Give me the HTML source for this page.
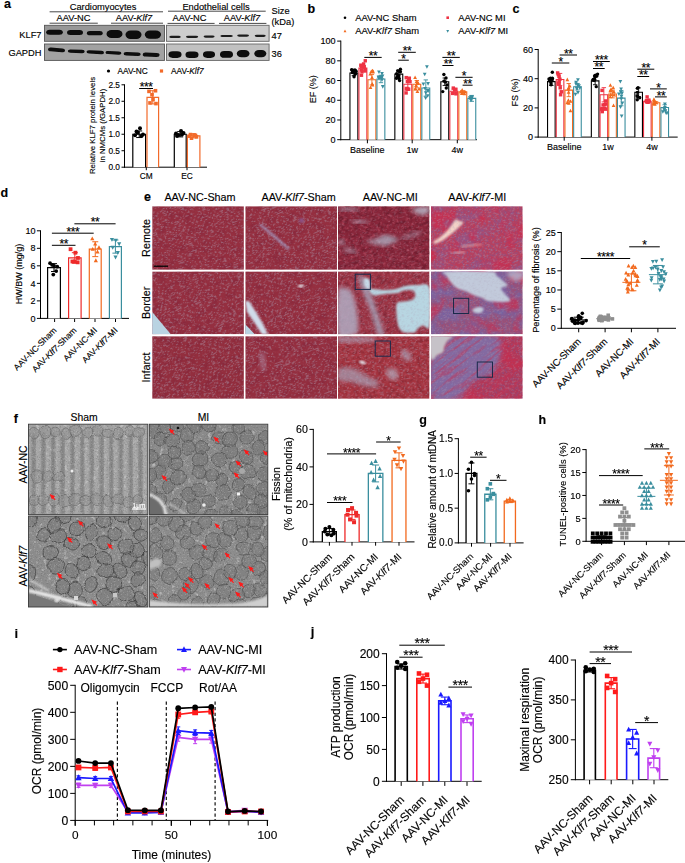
<!DOCTYPE html>
<html><head><meta charset="utf-8"><style>
html,body{margin:0;padding:0;background:#fff;width:685px;height:863px;overflow:hidden;}
svg{display:block;font-family:"Liberation Sans", sans-serif;}
</style></head><body>
<svg width="685" height="863" viewBox="0 0 685 863" font-family='"Liberation Sans", sans-serif'><defs>
<filter id="blur06" x="-5%" y="-5%" width="110%" height="110%"><feGaussianBlur stdDeviation="0.6"/></filter>
<filter id="blur1"><feGaussianBlur stdDeviation="1"/></filter>
<filter id="bl1"><feGaussianBlur stdDeviation="0.9"/></filter><filter id="bl2"><feGaussianBlur stdDeviation="2"/></filter>
<filter id="tf1" x="0" y="0" width="100%" height="100%" color-interpolation-filters="sRGB">
 <feTurbulence type="fractalNoise" baseFrequency="0.45 1.6" numOctaves="1" seed="4" result="n"/>
 <feColorMatrix in="n" type="matrix" values="0 0 0 0 0.690  0 0 0 0 0.659  0 0 0 0 0.737  8 0 0 0 -4.2"/>
 <feComposite in2="SourceGraphic" operator="in"/>
</filter>
<filter id="tf2" x="0" y="0" width="100%" height="100%" color-interpolation-filters="sRGB">
 <feTurbulence type="fractalNoise" baseFrequency="0.12 0.18" numOctaves="2" seed="8" result="n"/>
 <feColorMatrix in="n" type="matrix" values="0 0 0 0 0.478  0 0 0 0 0.125  0 0 0 0 0.220  4 0 0 0 -1.9"/>
 <feComposite in2="SourceGraphic" operator="in"/>
</filter>
<filter id="tf3" x="0" y="0" width="100%" height="100%" color-interpolation-filters="sRGB">
 <feTurbulence type="fractalNoise" baseFrequency="0.22 0.30" numOctaves="2" seed="5" result="n"/>
 <feColorMatrix in="n" type="matrix" values="0 0 0 0 0.376  0 0 0 0 0.094  0 0 0 0 0.157  4 0 0 0 -1.9"/>
 <feComposite in2="SourceGraphic" operator="in"/>
</filter>
<filter id="tf4" x="0" y="0" width="100%" height="100%" color-interpolation-filters="sRGB">
 <feTurbulence type="fractalNoise" baseFrequency="0.30 0.40" numOctaves="2" seed="9" result="n"/>
 <feColorMatrix in="n" type="matrix" values="0 0 0 0 0.784  0 0 0 0 0.353  0 0 0 0 0.439  5 0 0 0 -2.7"/>
 <feComposite in2="SourceGraphic" operator="in"/>
</filter>
<filter id="tf5" x="0" y="0" width="100%" height="100%" color-interpolation-filters="sRGB">
 <feTurbulence type="fractalNoise" baseFrequency="0.035 0.05" numOctaves="3" seed="21" result="n"/>
 <feColorMatrix in="n" type="matrix" values="0 0 0 0 0.471  0 0 0 0 0.408  0 0 0 0 0.659  5 0 0 0 -2.2"/>
 <feComposite in2="SourceGraphic" operator="in"/>
</filter>
<filter id="tf6" x="0" y="0" width="100%" height="100%" color-interpolation-filters="sRGB">
 <feTurbulence type="fractalNoise" baseFrequency="0.6 0.6" numOctaves="1" seed="22" result="n"/>
 <feColorMatrix in="n" type="matrix" values="0 0 0 0 0.416  0 0 0 0 0.392  0 0 0 0 0.659  6 0 0 0 -3.0"/>
 <feComposite in2="SourceGraphic" operator="in"/>
</filter>
<filter id="tf7" x="0" y="0" width="100%" height="100%" color-interpolation-filters="sRGB">
 <feTurbulence type="fractalNoise" baseFrequency="0.05 0.05" numOctaves="3" seed="33" result="n"/>
 <feColorMatrix in="n" type="matrix" values="0 0 0 0 0.816  0 0 0 0 0.157  0 0 0 0 0.282  5 0 0 0 -2.6"/>
 <feComposite in2="SourceGraphic" operator="in"/>
</filter>
<filter id="tf8" x="0" y="0" width="100%" height="100%" color-interpolation-filters="sRGB">
 <feTurbulence type="fractalNoise" baseFrequency="0.08 0.05" numOctaves="3" seed="41" result="n"/>
 <feColorMatrix in="n" type="matrix" values="0 0 0 0 0.627  0 0 0 0 0.659  0 0 0 0 0.784  5 0 0 0 -2.6"/>
 <feComposite in2="SourceGraphic" operator="in"/>
</filter>
<filter id="tf9" x="0" y="0" width="100%" height="100%" color-interpolation-filters="sRGB">
 <feTurbulence type="fractalNoise" baseFrequency="0.03 0.3" numOctaves="3" seed="51" result="n"/>
 <feColorMatrix in="n" type="matrix" values="0 0 0 0 0.784  0 0 0 0 0.188  0 0 0 0 0.314  6 0 0 0 -3.0"/>
 <feComposite in2="SourceGraphic" operator="in"/>
</filter>
<clipPath id="cl00"><rect x="152.2" y="206.2" width="91.70" height="63.60"/></clipPath>
<clipPath id="cl01"><rect x="152.2" y="271.4" width="91.70" height="62.80"/></clipPath>
<clipPath id="cl02"><rect x="152.2" y="336.2" width="91.70" height="62.60"/></clipPath>
<clipPath id="cl10"><rect x="245.3" y="206.2" width="91.70" height="63.60"/></clipPath>
<clipPath id="cl11"><rect x="245.3" y="271.4" width="91.70" height="62.80"/></clipPath>
<clipPath id="cl12"><rect x="245.3" y="336.2" width="91.70" height="62.60"/></clipPath>
<clipPath id="cl20"><rect x="338.0" y="206.2" width="91.50" height="63.60"/></clipPath>
<clipPath id="cl21"><rect x="338.0" y="271.4" width="91.50" height="62.80"/></clipPath>
<clipPath id="cl22"><rect x="338.0" y="336.2" width="91.50" height="62.60"/></clipPath>
<clipPath id="cl30"><rect x="431.0" y="206.2" width="91.70" height="63.60"/></clipPath>
<clipPath id="cl31"><rect x="431.0" y="271.4" width="91.70" height="62.80"/></clipPath>
<clipPath id="cl32"><rect x="431.0" y="336.2" width="91.70" height="62.60"/></clipPath>
<filter id="nf1" x="0" y="0" width="100%" height="100%" color-interpolation-filters="sRGB">
 <feTurbulence type="fractalNoise" baseFrequency="0.7" numOctaves="2" seed="3" result="n"/>
 <feColorMatrix in="n" type="matrix" values="0 0 0 0 0.878  0 0 0 0 0.878  0 0 0 0 0.878  6 0 0 0 -3.4"/>
 <feComposite in2="SourceGraphic" operator="in"/>
</filter>
<filter id="nf2" x="0" y="0" width="100%" height="100%" color-interpolation-filters="sRGB">
 <feTurbulence type="fractalNoise" baseFrequency="0.7" numOctaves="2" seed="7" result="n"/>
 <feColorMatrix in="n" type="matrix" values="0 0 0 0 0.227  0 0 0 0 0.227  0 0 0 0 0.227  -6 0 0 0 2.6"/>
 <feComposite in2="SourceGraphic" operator="in"/>
</filter>
<filter id="nf3" x="0" y="0" width="100%" height="100%" color-interpolation-filters="sRGB">
 <feTurbulence type="fractalNoise" baseFrequency="0.25" numOctaves="2" seed="12" result="n"/>
 <feColorMatrix in="n" type="matrix" values="0 0 0 0 0.847  0 0 0 0 0.847  0 0 0 0 0.847  5 0 0 0 -3.0"/>
 <feComposite in2="SourceGraphic" operator="in"/>
</filter>
<filter id="bl1t"><feGaussianBlur stdDeviation="0.9"/></filter>
<filter id="wob" x="-5%" y="-5%" width="110%" height="110%"><feTurbulence type="fractalNoise" baseFrequency="0.12" numOctaves="2" seed="3" result="t"/><feDisplacementMap in="SourceGraphic" in2="t" scale="4" xChannelSelector="R" yChannelSelector="G" result="d"/><feGaussianBlur in="d" stdDeviation="0.35"/></filter>
<clipPath id="tcl00"><rect x="28.5" y="424.2" width="119.30" height="90.40"/></clipPath>
<clipPath id="tcl10"><rect x="149.3" y="424.2" width="118.50" height="90.40"/></clipPath>
<clipPath id="tcl01"><rect x="28.5" y="516.0" width="119.30" height="91.00"/></clipPath>
<clipPath id="tcl11"><rect x="149.3" y="516.0" width="118.50" height="91.00"/></clipPath></defs>
<text x="4.00" y="8.20" font-size="12.5" text-anchor="start" font-weight="bold" fill="#000" stroke="#000" stroke-width="0.14">a</text>
<text x="103.00" y="9.60" font-size="9.3" text-anchor="middle" fill="#000" stroke="#000" stroke-width="0.14">Cardiomyocytes</text>
<line x1="49.60" y1="11.80" x2="163.00" y2="11.80" stroke="#333" stroke-width="0.9"/>
<text x="216.00" y="9.60" font-size="9.3" text-anchor="middle" fill="#000" stroke="#000" stroke-width="0.14">Endothelial cells</text>
<line x1="168.00" y1="11.20" x2="265.70" y2="11.20" stroke="#333" stroke-width="0.9"/>
<text x="73.50" y="21.30" font-size="9.3" text-anchor="middle" fill="#000" stroke="#000" stroke-width="0.14">AAV-NC</text>
<line x1="49.60" y1="23.20" x2="97.80" y2="23.20" stroke="#333" stroke-width="0.9"/>
<text x="134.00" y="21.30" font-size="9.3" text-anchor="middle" fill="#000" stroke="#000" stroke-width="0.14">AAV-<tspan font-style="italic">Klf7</tspan></text>
<line x1="111.00" y1="23.20" x2="163.00" y2="23.20" stroke="#333" stroke-width="0.9"/>
<text x="189.50" y="21.30" font-size="9.3" text-anchor="middle" fill="#000" stroke="#000" stroke-width="0.14">AAV-NC</text>
<line x1="167.50" y1="23.40" x2="214.60" y2="23.40" stroke="#333" stroke-width="0.9"/>
<text x="242.00" y="21.30" font-size="9.3" text-anchor="middle" fill="#000" stroke="#000" stroke-width="0.14">AAV-<tspan font-style="italic">Klf7</tspan></text>
<line x1="219.00" y1="23.40" x2="266.40" y2="23.40" stroke="#333" stroke-width="0.9"/>
<text x="271.50" y="14.00" font-size="9.3" text-anchor="start" fill="#000" stroke="#000" stroke-width="0.14">Size</text>
<text x="271.50" y="24.80" font-size="9.3" text-anchor="start" fill="#000" stroke="#000" stroke-width="0.14">(kDa)</text>
<text x="271.50" y="38.80" font-size="9.3" text-anchor="start" fill="#000" stroke="#000" stroke-width="0.14">47</text>
<text x="271.50" y="56.60" font-size="9.3" text-anchor="start" fill="#000" stroke="#000" stroke-width="0.14">36</text>
<text x="41.50" y="37.60" font-size="9.3" text-anchor="end" fill="#000" stroke="#000" stroke-width="0.14">KLF7</text>
<text x="41.50" y="55.60" font-size="9.3" text-anchor="end" fill="#000" stroke="#000" stroke-width="0.14">GAPDH</text>
<g filter="url(#blur06)">
<rect x="44.50" y="25.30" width="120.00" height="16.00" fill="#979797" stroke="#555" stroke-width="0.9"/>
<rect x="44.50" y="44.00" width="120.00" height="16.40" fill="#a2a2a2" stroke="#555" stroke-width="0.9"/>
<rect x="166.50" y="25.30" width="102.60" height="16.00" fill="#cdcdcd" stroke="#666" stroke-width="0.9"/>
<rect x="166.50" y="44.00" width="102.60" height="16.40" fill="#c1c1c1" stroke="#666" stroke-width="0.9"/>
<rect x="46.20" y="29.80" width="16.60" height="5.00" rx="3.50" ry="2.50" fill="#0a0a0a" transform="rotate(0 54.50 32.30)"/>
<rect x="67.00" y="30.00" width="16.00" height="5.00" rx="3.50" ry="2.50" fill="#0a0a0a" transform="rotate(0 75.00 32.50)"/>
<rect x="86.90" y="31.10" width="15.80" height="4.20" rx="3.10" ry="2.10" fill="#0a0a0a" transform="rotate(0 94.80 33.20)"/>
<rect x="106.50" y="30.00" width="16.00" height="8.00" rx="5.00" ry="4.00" fill="#0a0a0a" transform="rotate(0 114.50 34.00)"/>
<rect x="125.50" y="30.50" width="16.00" height="8.40" rx="5.20" ry="4.20" fill="#0a0a0a" transform="rotate(0 133.50 34.70)"/>
<rect x="144.80" y="30.50" width="16.20" height="8.20" rx="5.10" ry="4.10" fill="#0a0a0a" transform="rotate(0 152.90 34.60)"/>
<rect x="48.00" y="48.00" width="17.00" height="3.80" rx="2.90" ry="1.90" fill="#0a0a0a" transform="rotate(5 56.50 49.90)"/>
<rect x="67.80" y="49.60" width="16.90" height="3.40" rx="2.70" ry="1.70" fill="#0a0a0a" transform="rotate(2 76.25 51.30)"/>
<rect x="86.50" y="50.50" width="17.50" height="3.40" rx="2.70" ry="1.70" fill="#0a0a0a" transform="rotate(3 95.25 52.20)"/>
<rect x="105.50" y="51.20" width="15.90" height="3.20" rx="2.60" ry="1.60" fill="#0a0a0a" transform="rotate(3 113.45 52.80)"/>
<rect x="123.60" y="52.30" width="17.10" height="3.40" rx="2.70" ry="1.70" fill="#0a0a0a" transform="rotate(2 132.15 54.00)"/>
<rect x="142.70" y="52.80" width="16.90" height="4.00" rx="3.00" ry="2.00" fill="#0a0a0a" transform="rotate(2 151.15 54.80)"/>
<rect x="169.30" y="35.80" width="11.40" height="2.20" rx="2.10" ry="1.10" fill="#1a1a1a" transform="rotate(0 175.00 36.90)"/>
<rect x="186.00" y="35.70" width="12.20" height="2.20" rx="2.10" ry="1.10" fill="#1a1a1a" transform="rotate(0 192.10 36.80)"/>
<rect x="203.60" y="35.50" width="11.00" height="2.20" rx="2.10" ry="1.10" fill="#1a1a1a" transform="rotate(0 209.10 36.60)"/>
<rect x="220.40" y="34.90" width="12.40" height="2.20" rx="2.10" ry="1.10" fill="#1a1a1a" transform="rotate(0 226.60 36.00)"/>
<rect x="237.20" y="34.50" width="11.80" height="2.20" rx="2.10" ry="1.10" fill="#1a1a1a" transform="rotate(0 243.10 35.60)"/>
<rect x="254.70" y="34.70" width="11.00" height="2.20" rx="2.10" ry="1.10" fill="#1a1a1a" transform="rotate(0 260.20 35.80)"/>
<rect x="168.50" y="51.30" width="13.00" height="6.60" rx="4.30" ry="3.30" fill="#0a0a0a" transform="rotate(0 175.00 54.60)"/>
<rect x="185.50" y="51.40" width="13.00" height="6.60" rx="4.30" ry="3.30" fill="#0a0a0a" transform="rotate(0 192.00 54.70)"/>
<rect x="203.00" y="51.30" width="12.00" height="6.60" rx="4.30" ry="3.30" fill="#0a0a0a" transform="rotate(0 209.00 54.60)"/>
<rect x="220.00" y="51.00" width="13.00" height="6.80" rx="4.40" ry="3.40" fill="#0a0a0a" transform="rotate(0 226.50 54.40)"/>
<rect x="236.80" y="49.90" width="12.70" height="7.40" rx="4.70" ry="3.70" fill="#0a0a0a" transform="rotate(0 243.15 53.60)"/>
<rect x="254.30" y="50.00" width="12.00" height="7.20" rx="4.60" ry="3.60" fill="#0a0a0a" transform="rotate(0 260.30 53.60)"/>
</g>
<line x1="124.50" y1="84.30" x2="124.50" y2="167.70" stroke="#000" stroke-width="1"/>
<line x1="124.00" y1="167.20" x2="207.00" y2="167.20" stroke="#000" stroke-width="1"/>
<line x1="121.50" y1="167.20" x2="124.50" y2="167.20" stroke="#000" stroke-width="1"/>
<text x="120.00" y="170.10" font-size="8.3" text-anchor="end" fill="#000" stroke="#000" stroke-width="0.14">0.0</text>
<line x1="121.50" y1="150.72" x2="124.50" y2="150.72" stroke="#000" stroke-width="1"/>
<text x="120.00" y="153.62" font-size="8.3" text-anchor="end" fill="#000" stroke="#000" stroke-width="0.14">0.5</text>
<line x1="121.50" y1="134.24" x2="124.50" y2="134.24" stroke="#000" stroke-width="1"/>
<text x="120.00" y="137.14" font-size="8.3" text-anchor="end" fill="#000" stroke="#000" stroke-width="0.14">1.0</text>
<line x1="121.50" y1="117.76" x2="124.50" y2="117.76" stroke="#000" stroke-width="1"/>
<text x="120.00" y="120.66" font-size="8.3" text-anchor="end" fill="#000" stroke="#000" stroke-width="0.14">1.5</text>
<line x1="121.50" y1="101.28" x2="124.50" y2="101.28" stroke="#000" stroke-width="1"/>
<text x="120.00" y="104.18" font-size="8.3" text-anchor="end" fill="#000" stroke="#000" stroke-width="0.14">2.0</text>
<line x1="121.50" y1="84.80" x2="124.50" y2="84.80" stroke="#000" stroke-width="1"/>
<text x="120.00" y="87.70" font-size="8.3" text-anchor="end" fill="#000" stroke="#000" stroke-width="0.14">2.5</text>
<line x1="146.30" y1="167.20" x2="146.30" y2="170.20" stroke="#000" stroke-width="1"/>
<line x1="187.00" y1="167.20" x2="187.00" y2="170.20" stroke="#000" stroke-width="1"/>
<text x="146.30" y="178.50" font-size="8.3" text-anchor="middle" fill="#000" stroke="#000" stroke-width="0.14">CM</text>
<text x="187.00" y="178.50" font-size="8.3" text-anchor="middle" fill="#000" stroke="#000" stroke-width="0.14">EC</text>
<text x="95.20" y="125.50" font-size="7.8" text-anchor="middle" fill="#000" stroke="#000" stroke-width="0.14" transform="rotate(-90 95.2 125.5)">Relative KLF7 protein levels</text>
<text x="105.20" y="125.50" font-size="7.8" text-anchor="middle" fill="#000" stroke="#000" stroke-width="0.14" transform="rotate(-90 105.2 125.5)">in NMCMs (/GAPDH)</text>
<path d="M132.80 167.20V134.24H145.60V167.20" fill="#fff" stroke="#000" stroke-width="1.2"/>
<path d="M147.00 167.20V97.32H158.60V167.20" fill="#fff" stroke="#f26a2a" stroke-width="1.2"/>
<path d="M174.30 167.20V134.24H186.20V167.20" fill="#fff" stroke="#000" stroke-width="1.2"/>
<path d="M187.40 167.20V135.89H199.90V167.20" fill="#fff" stroke="#f26a2a" stroke-width="1.2"/>
<line x1="139.20" y1="137.54" x2="139.20" y2="130.94" stroke="#000" stroke-width="1"/>
<line x1="136.20" y1="130.94" x2="142.20" y2="130.94" stroke="#000" stroke-width="1"/>
<line x1="136.20" y1="137.54" x2="142.20" y2="137.54" stroke="#000" stroke-width="1"/>
<line x1="152.80" y1="103.92" x2="152.80" y2="90.73" stroke="#f26a2a" stroke-width="1"/>
<line x1="149.80" y1="90.73" x2="155.80" y2="90.73" stroke="#f26a2a" stroke-width="1"/>
<line x1="149.80" y1="103.92" x2="155.80" y2="103.92" stroke="#f26a2a" stroke-width="1"/>
<line x1="180.20" y1="136.88" x2="180.20" y2="131.60" stroke="#000" stroke-width="1"/>
<line x1="177.20" y1="131.60" x2="183.20" y2="131.60" stroke="#000" stroke-width="1"/>
<line x1="177.20" y1="136.88" x2="183.20" y2="136.88" stroke="#000" stroke-width="1"/>
<line x1="193.60" y1="137.87" x2="193.60" y2="133.91" stroke="#f26a2a" stroke-width="1"/>
<line x1="190.60" y1="133.91" x2="196.60" y2="133.91" stroke="#f26a2a" stroke-width="1"/>
<line x1="190.60" y1="137.87" x2="196.60" y2="137.87" stroke="#f26a2a" stroke-width="1"/>
<circle cx="135.00" cy="135.23" r="2.00" fill="#000"/>
<circle cx="137.50" cy="132.59" r="2.00" fill="#000"/>
<circle cx="140.00" cy="128.31" r="2.00" fill="#000"/>
<circle cx="141.50" cy="135.89" r="2.00" fill="#000"/>
<circle cx="143.00" cy="134.57" r="2.00" fill="#000"/>
<circle cx="136.50" cy="131.60" r="2.00" fill="#000"/>
<rect x="147.20" y="89.59" width="3.60" height="3.60" fill="#f26a2a"/>
<rect x="150.20" y="92.89" width="3.60" height="3.60" fill="#f26a2a"/>
<rect x="153.70" y="88.93" width="3.60" height="3.60" fill="#f26a2a"/>
<rect x="148.20" y="101.13" width="3.60" height="3.60" fill="#f26a2a"/>
<rect x="151.20" y="97.83" width="3.60" height="3.60" fill="#f26a2a"/>
<rect x="154.20" y="101.79" width="3.60" height="3.60" fill="#f26a2a"/>
<circle cx="176.00" cy="133.58" r="2.00" fill="#000"/>
<circle cx="178.50" cy="134.90" r="2.00" fill="#000"/>
<circle cx="181.00" cy="130.94" r="2.00" fill="#000"/>
<circle cx="183.50" cy="132.92" r="2.00" fill="#000"/>
<circle cx="177.00" cy="135.89" r="2.00" fill="#000"/>
<circle cx="182.00" cy="134.57" r="2.00" fill="#000"/>
<rect x="187.20" y="134.42" width="3.60" height="3.60" fill="#f26a2a"/>
<rect x="189.70" y="136.40" width="3.60" height="3.60" fill="#f26a2a"/>
<rect x="192.20" y="133.10" width="3.60" height="3.60" fill="#f26a2a"/>
<rect x="194.70" y="135.08" width="3.60" height="3.60" fill="#f26a2a"/>
<rect x="188.70" y="132.77" width="3.60" height="3.60" fill="#f26a2a"/>
<rect x="193.70" y="133.76" width="3.60" height="3.60" fill="#f26a2a"/>
<line x1="139.20" y1="88.50" x2="153.00" y2="88.50" stroke="#000" stroke-width="1"/>
<text x="146.10" y="91.10" font-size="12" text-anchor="middle" fill="#000" stroke="#000" stroke-width="0.14" letter-spacing="-0.4">***</text>
<circle cx="108.50" cy="71.00" r="1.60" fill="#000"/>
<text x="117.50" y="74.00" font-size="8.3" text-anchor="start" fill="#000" stroke="#000" stroke-width="0.14">AAV-NC</text>
<rect x="159.90" y="69.40" width="3.20" height="3.20" fill="#f26a2a"/>
<text x="171.00" y="74.00" font-size="8.3" text-anchor="start" fill="#000" stroke="#000" stroke-width="0.14">AAV-<tspan font-style="italic">Klf7</tspan></text>
<text x="307.50" y="13.20" font-size="12.5" text-anchor="start" font-weight="bold" fill="#000" stroke="#000" stroke-width="0.14">b</text>
<circle cx="345.00" cy="17.70" r="1.30" fill="#000"/>
<text x="355.20" y="21.00" font-size="9.4" text-anchor="start" fill="#000" stroke="#000" stroke-width="0.14">AAV-NC Sham</text>
<path d="M345.00 29.53L346.43 32.24L343.57 32.24Z" fill="#f26a1f"/>
<text x="355.20" y="34.40" font-size="9.4" text-anchor="start" fill="#000" stroke="#000" stroke-width="0.14">AAV-<tspan font-style="italic">Klf7</tspan> Sham</text>
<rect x="446.40" y="16.40" width="2.60" height="2.60" fill="#ee3344"/>
<text x="458.30" y="21.00" font-size="9.4" text-anchor="start" fill="#000" stroke="#000" stroke-width="0.14">AAV-NC MI</text>
<path d="M447.70 32.67L449.13 29.96L446.27 29.96Z" fill="#3a8e9e"/>
<text x="458.30" y="34.40" font-size="9.4" text-anchor="start" fill="#000" stroke="#000" stroke-width="0.14">AAV-<tspan font-style="italic">Klf7</tspan> MI</text>
<line x1="340.80" y1="40.60" x2="340.80" y2="140.20" stroke="#000" stroke-width="1"/>
<line x1="340.30" y1="139.70" x2="477.00" y2="139.70" stroke="#000" stroke-width="1"/>
<line x1="337.20" y1="139.70" x2="340.80" y2="139.70" stroke="#000" stroke-width="1"/>
<text x="335.60" y="142.85" font-size="9" text-anchor="end" fill="#000" stroke="#000" stroke-width="0.14">0</text>
<line x1="337.20" y1="119.98" x2="340.80" y2="119.98" stroke="#000" stroke-width="1"/>
<text x="335.60" y="123.13" font-size="9" text-anchor="end" fill="#000" stroke="#000" stroke-width="0.14">20</text>
<line x1="337.20" y1="100.26" x2="340.80" y2="100.26" stroke="#000" stroke-width="1"/>
<text x="335.60" y="103.41" font-size="9" text-anchor="end" fill="#000" stroke="#000" stroke-width="0.14">40</text>
<line x1="337.20" y1="80.54" x2="340.80" y2="80.54" stroke="#000" stroke-width="1"/>
<text x="335.60" y="83.69" font-size="9" text-anchor="end" fill="#000" stroke="#000" stroke-width="0.14">60</text>
<line x1="337.20" y1="60.82" x2="340.80" y2="60.82" stroke="#000" stroke-width="1"/>
<text x="335.60" y="63.97" font-size="9" text-anchor="end" fill="#000" stroke="#000" stroke-width="0.14">80</text>
<line x1="337.20" y1="41.10" x2="340.80" y2="41.10" stroke="#000" stroke-width="1"/>
<text x="335.60" y="44.25" font-size="9" text-anchor="end" fill="#000" stroke="#000" stroke-width="0.14">100</text>
<line x1="367.40" y1="139.70" x2="367.40" y2="143.30" stroke="#000" stroke-width="1"/>
<line x1="412.20" y1="139.70" x2="412.20" y2="143.30" stroke="#000" stroke-width="1"/>
<line x1="457.30" y1="139.70" x2="457.30" y2="143.30" stroke="#000" stroke-width="1"/>
<text x="316.30" y="89.20" font-size="9" text-anchor="middle" fill="#000" stroke="#000" stroke-width="0.14" transform="rotate(-90 316.3 89.2)">EF (%)</text>
<text x="367.20" y="153.20" font-size="9" text-anchor="middle" fill="#000" stroke="#000" stroke-width="0.14">Baseline</text>
<text x="412.20" y="153.20" font-size="9" text-anchor="middle" fill="#000" stroke="#000" stroke-width="0.14">1w</text>
<text x="457.30" y="153.20" font-size="9" text-anchor="middle" fill="#000" stroke="#000" stroke-width="0.14">4w</text>
<path d="M349.95 139.70V73.05H357.85V139.70" fill="#fff" stroke="#000" stroke-width="1.1"/>
<circle cx="355.26" cy="70.73" r="1.70" fill="#000"/>
<circle cx="354.94" cy="70.03" r="1.70" fill="#000"/>
<circle cx="355.41" cy="73.46" r="1.70" fill="#000"/>
<circle cx="354.07" cy="76.70" r="1.70" fill="#000"/>
<circle cx="351.62" cy="69.71" r="1.70" fill="#000"/>
<circle cx="356.08" cy="71.21" r="1.70" fill="#000"/>
<circle cx="352.94" cy="70.10" r="1.70" fill="#000"/>
<circle cx="355.25" cy="74.06" r="1.70" fill="#000"/>
<circle cx="352.33" cy="72.43" r="1.70" fill="#000"/>
<circle cx="353.13" cy="70.97" r="1.70" fill="#000"/>
<line x1="353.90" y1="75.63" x2="353.90" y2="70.46" stroke="#000" stroke-width="0.9"/>
<line x1="351.70" y1="70.46" x2="356.10" y2="70.46" stroke="#000" stroke-width="0.9"/>
<line x1="351.70" y1="75.63" x2="356.10" y2="75.63" stroke="#000" stroke-width="0.9"/>
<path d="M358.95 139.70V68.12H366.85V139.70" fill="#fff" stroke="#ee3344" stroke-width="1.1"/>
<rect x="363.54" y="69.25" width="3.40" height="3.40" fill="#ee3344"/>
<rect x="363.34" y="68.00" width="3.40" height="3.40" fill="#ee3344"/>
<rect x="359.76" y="73.54" width="3.40" height="3.40" fill="#ee3344"/>
<rect x="359.80" y="64.92" width="3.40" height="3.40" fill="#ee3344"/>
<rect x="359.75" y="68.23" width="3.40" height="3.40" fill="#ee3344"/>
<rect x="363.57" y="59.07" width="3.40" height="3.40" fill="#ee3344"/>
<rect x="359.13" y="63.50" width="3.40" height="3.40" fill="#ee3344"/>
<rect x="362.56" y="65.03" width="3.40" height="3.40" fill="#ee3344"/>
<rect x="360.32" y="70.14" width="3.40" height="3.40" fill="#ee3344"/>
<rect x="361.89" y="62.27" width="3.40" height="3.40" fill="#ee3344"/>
<line x1="362.90" y1="71.81" x2="362.90" y2="64.42" stroke="#ee3344" stroke-width="0.9"/>
<line x1="360.70" y1="64.42" x2="365.10" y2="64.42" stroke="#ee3344" stroke-width="0.9"/>
<line x1="360.70" y1="71.81" x2="365.10" y2="71.81" stroke="#ee3344" stroke-width="0.9"/>
<path d="M367.95 139.70V79.75H375.85V139.70" fill="#fff" stroke="#f26a1f" stroke-width="1.1"/>
<path d="M370.24 71.99L372.11 75.55L368.37 75.55Z" fill="#f26a1f"/>
<path d="M372.97 70.03L374.84 73.59L371.10 73.59Z" fill="#f26a1f"/>
<path d="M372.49 82.99L374.36 86.54L370.62 86.54Z" fill="#f26a1f"/>
<path d="M372.23 81.96L374.10 85.51L370.36 85.51Z" fill="#f26a1f"/>
<path d="M372.50 69.52L374.37 73.08L370.63 73.08Z" fill="#f26a1f"/>
<path d="M372.00 75.42L373.87 78.97L370.13 78.97Z" fill="#f26a1f"/>
<path d="M371.28 69.52L373.15 73.07L369.41 73.07Z" fill="#f26a1f"/>
<path d="M370.52 85.43L372.39 88.98L368.65 88.98Z" fill="#f26a1f"/>
<path d="M372.86 68.97L374.73 72.52L370.99 72.52Z" fill="#f26a1f"/>
<path d="M372.45 68.63L374.32 72.18L370.58 72.18Z" fill="#f26a1f"/>
<line x1="371.90" y1="84.93" x2="371.90" y2="74.57" stroke="#f26a1f" stroke-width="0.9"/>
<line x1="369.70" y1="74.57" x2="374.10" y2="74.57" stroke="#f26a1f" stroke-width="0.9"/>
<line x1="369.70" y1="84.93" x2="374.10" y2="84.93" stroke="#f26a1f" stroke-width="0.9"/>
<path d="M376.95 139.70V78.96H384.85V139.70" fill="#fff" stroke="#3a8e9e" stroke-width="1.1"/>
<path d="M382.00 75.62L383.87 72.07L380.13 72.07Z" fill="#3a8e9e"/>
<path d="M382.08 81.73L383.95 78.18L380.21 78.18Z" fill="#3a8e9e"/>
<path d="M381.42 80.58L383.29 77.03L379.55 77.03Z" fill="#3a8e9e"/>
<path d="M378.99 79.08L380.86 75.53L377.12 75.53Z" fill="#3a8e9e"/>
<path d="M382.78 88.66L384.65 85.11L380.91 85.11Z" fill="#3a8e9e"/>
<path d="M378.98 74.04L380.85 70.49L377.11 70.49Z" fill="#3a8e9e"/>
<path d="M382.55 77.98L384.42 74.43L380.68 74.43Z" fill="#3a8e9e"/>
<path d="M378.50 79.29L380.37 75.74L376.63 75.74Z" fill="#3a8e9e"/>
<path d="M379.02 80.65L380.89 77.10L377.15 77.10Z" fill="#3a8e9e"/>
<path d="M381.02 78.70L382.89 75.15L379.15 75.15Z" fill="#3a8e9e"/>
<line x1="380.90" y1="82.66" x2="380.90" y2="75.26" stroke="#3a8e9e" stroke-width="0.9"/>
<line x1="378.70" y1="75.26" x2="383.10" y2="75.26" stroke="#3a8e9e" stroke-width="0.9"/>
<line x1="378.70" y1="82.66" x2="383.10" y2="82.66" stroke="#3a8e9e" stroke-width="0.9"/>
<path d="M394.85 139.70V74.13H402.75V139.70" fill="#fff" stroke="#000" stroke-width="1.1"/>
<circle cx="400.42" cy="69.21" r="1.70" fill="#000"/>
<circle cx="397.53" cy="76.29" r="1.70" fill="#000"/>
<circle cx="399.01" cy="78.44" r="1.70" fill="#000"/>
<circle cx="396.66" cy="73.64" r="1.70" fill="#000"/>
<circle cx="396.48" cy="78.23" r="1.70" fill="#000"/>
<circle cx="400.39" cy="71.77" r="1.70" fill="#000"/>
<circle cx="399.47" cy="71.49" r="1.70" fill="#000"/>
<circle cx="398.94" cy="75.75" r="1.70" fill="#000"/>
<circle cx="399.61" cy="80.59" r="1.70" fill="#000"/>
<circle cx="397.68" cy="70.85" r="1.70" fill="#000"/>
<line x1="398.80" y1="78.20" x2="398.80" y2="70.06" stroke="#000" stroke-width="0.9"/>
<line x1="396.60" y1="70.06" x2="401.00" y2="70.06" stroke="#000" stroke-width="0.9"/>
<line x1="396.60" y1="78.20" x2="401.00" y2="78.20" stroke="#000" stroke-width="0.9"/>
<path d="M403.85 139.70V84.19H411.75V139.70" fill="#fff" stroke="#ee3344" stroke-width="1.1"/>
<rect x="408.33" y="79.95" width="3.40" height="3.40" fill="#ee3344"/>
<rect x="406.07" y="87.32" width="3.40" height="3.40" fill="#ee3344"/>
<rect x="404.43" y="91.23" width="3.40" height="3.40" fill="#ee3344"/>
<rect x="404.56" y="75.93" width="3.40" height="3.40" fill="#ee3344"/>
<rect x="406.96" y="87.51" width="3.40" height="3.40" fill="#ee3344"/>
<rect x="405.68" y="79.79" width="3.40" height="3.40" fill="#ee3344"/>
<rect x="404.69" y="87.22" width="3.40" height="3.40" fill="#ee3344"/>
<rect x="407.19" y="78.24" width="3.40" height="3.40" fill="#ee3344"/>
<rect x="407.63" y="76.49" width="3.40" height="3.40" fill="#ee3344"/>
<rect x="405.16" y="86.70" width="3.40" height="3.40" fill="#ee3344"/>
<line x1="407.80" y1="90.10" x2="407.80" y2="78.27" stroke="#ee3344" stroke-width="0.9"/>
<line x1="405.60" y1="78.27" x2="410.00" y2="78.27" stroke="#ee3344" stroke-width="0.9"/>
<line x1="405.60" y1="90.10" x2="410.00" y2="90.10" stroke="#ee3344" stroke-width="0.9"/>
<path d="M412.85 139.70V84.19H420.75V139.70" fill="#fff" stroke="#f26a1f" stroke-width="1.1"/>
<path d="M417.40 89.38L419.27 92.94L415.53 92.94Z" fill="#f26a1f"/>
<path d="M417.81 81.27L419.68 84.83L415.94 84.83Z" fill="#f26a1f"/>
<path d="M415.10 75.40L416.97 78.96L413.23 78.96Z" fill="#f26a1f"/>
<path d="M415.39 86.87L417.26 90.43L413.52 90.43Z" fill="#f26a1f"/>
<path d="M419.13 86.84L421.00 90.39L417.26 90.39Z" fill="#f26a1f"/>
<path d="M417.95 80.76L419.82 84.31L416.08 84.31Z" fill="#f26a1f"/>
<path d="M415.43 86.63L417.30 90.18L413.56 90.18Z" fill="#f26a1f"/>
<path d="M417.32 81.23L419.19 84.78L415.45 84.78Z" fill="#f26a1f"/>
<path d="M416.56 79.48L418.43 83.04L414.69 83.04Z" fill="#f26a1f"/>
<path d="M416.02 83.50L417.89 87.06L414.15 87.06Z" fill="#f26a1f"/>
<line x1="416.80" y1="87.89" x2="416.80" y2="80.49" stroke="#f26a1f" stroke-width="0.9"/>
<line x1="414.60" y1="80.49" x2="419.00" y2="80.49" stroke="#f26a1f" stroke-width="0.9"/>
<line x1="414.60" y1="87.89" x2="419.00" y2="87.89" stroke="#f26a1f" stroke-width="0.9"/>
<path d="M421.85 139.70V88.03H429.75V139.70" fill="#fff" stroke="#3a8e9e" stroke-width="1.1"/>
<path d="M426.92 68.68L428.79 65.13L425.05 65.13Z" fill="#3a8e9e"/>
<path d="M423.37 85.93L425.24 82.38L421.50 82.38Z" fill="#3a8e9e"/>
<path d="M427.72 97.71L429.59 94.16L425.85 94.16Z" fill="#3a8e9e"/>
<path d="M427.58 92.56L429.45 89.01L425.71 89.01Z" fill="#3a8e9e"/>
<path d="M425.77 94.76L427.64 91.21L423.90 91.21Z" fill="#3a8e9e"/>
<path d="M424.70 76.20L426.57 72.65L422.83 72.65Z" fill="#3a8e9e"/>
<path d="M425.64 100.01L427.51 96.46L423.77 96.46Z" fill="#3a8e9e"/>
<path d="M428.08 85.65L429.95 82.10L426.21 82.10Z" fill="#3a8e9e"/>
<path d="M425.06 90.46L426.93 86.90L423.19 86.90Z" fill="#3a8e9e"/>
<path d="M428.16 93.10L430.03 89.55L426.29 89.55Z" fill="#3a8e9e"/>
<line x1="425.80" y1="96.17" x2="425.80" y2="79.90" stroke="#3a8e9e" stroke-width="0.9"/>
<line x1="423.60" y1="79.90" x2="428.00" y2="79.90" stroke="#3a8e9e" stroke-width="0.9"/>
<line x1="423.60" y1="96.17" x2="428.00" y2="96.17" stroke="#3a8e9e" stroke-width="0.9"/>
<path d="M440.85 139.70V81.72H448.75V139.70" fill="#fff" stroke="#000" stroke-width="1.1"/>
<circle cx="447.08" cy="84.90" r="1.70" fill="#000"/>
<circle cx="445.48" cy="82.02" r="1.70" fill="#000"/>
<circle cx="442.74" cy="91.62" r="1.70" fill="#000"/>
<circle cx="446.28" cy="87.98" r="1.70" fill="#000"/>
<circle cx="443.90" cy="81.09" r="1.70" fill="#000"/>
<circle cx="446.01" cy="78.03" r="1.70" fill="#000"/>
<circle cx="443.88" cy="74.52" r="1.70" fill="#000"/>
<line x1="444.80" y1="85.42" x2="444.80" y2="78.03" stroke="#000" stroke-width="0.9"/>
<line x1="442.60" y1="78.03" x2="447.00" y2="78.03" stroke="#000" stroke-width="0.9"/>
<line x1="442.60" y1="85.42" x2="447.00" y2="85.42" stroke="#000" stroke-width="0.9"/>
<path d="M449.85 139.70V91.19H457.75V139.70" fill="#fff" stroke="#ee3344" stroke-width="1.1"/>
<rect x="451.58" y="86.37" width="3.40" height="3.40" fill="#ee3344"/>
<rect x="454.19" y="87.58" width="3.40" height="3.40" fill="#ee3344"/>
<rect x="454.31" y="92.01" width="3.40" height="3.40" fill="#ee3344"/>
<rect x="451.02" y="91.70" width="3.40" height="3.40" fill="#ee3344"/>
<rect x="452.99" y="87.81" width="3.40" height="3.40" fill="#ee3344"/>
<rect x="454.46" y="91.84" width="3.40" height="3.40" fill="#ee3344"/>
<rect x="453.64" y="88.18" width="3.40" height="3.40" fill="#ee3344"/>
<line x1="453.80" y1="93.26" x2="453.80" y2="89.12" stroke="#ee3344" stroke-width="0.9"/>
<line x1="451.60" y1="89.12" x2="456.00" y2="89.12" stroke="#ee3344" stroke-width="0.9"/>
<line x1="451.60" y1="93.26" x2="456.00" y2="93.26" stroke="#ee3344" stroke-width="0.9"/>
<path d="M458.85 139.70V91.68H466.75V139.70" fill="#fff" stroke="#f26a1f" stroke-width="1.1"/>
<path d="M461.80 91.35L463.67 94.90L459.93 94.90Z" fill="#f26a1f"/>
<path d="M464.97 89.73L466.84 93.29L463.10 93.29Z" fill="#f26a1f"/>
<path d="M462.59 89.90L464.46 93.45L460.72 93.45Z" fill="#f26a1f"/>
<path d="M464.49 91.78L466.36 95.33L462.62 95.33Z" fill="#f26a1f"/>
<path d="M460.81 89.80L462.68 93.35L458.94 93.35Z" fill="#f26a1f"/>
<path d="M462.55 91.33L464.42 94.89L460.68 94.89Z" fill="#f26a1f"/>
<path d="M462.19 88.01L464.06 91.57L460.32 91.57Z" fill="#f26a1f"/>
<line x1="462.80" y1="92.64" x2="462.80" y2="90.72" stroke="#f26a1f" stroke-width="0.9"/>
<line x1="460.60" y1="90.72" x2="465.00" y2="90.72" stroke="#f26a1f" stroke-width="0.9"/>
<line x1="460.60" y1="92.64" x2="465.00" y2="92.64" stroke="#f26a1f" stroke-width="0.9"/>
<path d="M467.85 139.70V98.39H475.75V139.70" fill="#fff" stroke="#3a8e9e" stroke-width="1.1"/>
<path d="M471.33 98.85L473.20 95.30L469.46 95.30Z" fill="#3a8e9e"/>
<path d="M469.82 99.90L471.69 96.35L467.95 96.35Z" fill="#3a8e9e"/>
<path d="M471.98 99.55L473.85 96.00L470.11 96.00Z" fill="#3a8e9e"/>
<path d="M470.95 101.08L472.82 97.53L469.08 97.53Z" fill="#3a8e9e"/>
<path d="M470.98 99.05L472.85 95.50L469.11 95.50Z" fill="#3a8e9e"/>
<path d="M470.96 102.31L472.83 98.75L469.09 98.75Z" fill="#3a8e9e"/>
<path d="M471.48 100.44L473.35 96.88L469.61 96.88Z" fill="#3a8e9e"/>
<line x1="471.80" y1="101.34" x2="471.80" y2="95.43" stroke="#3a8e9e" stroke-width="0.9"/>
<line x1="469.60" y1="95.43" x2="474.00" y2="95.43" stroke="#3a8e9e" stroke-width="0.9"/>
<line x1="469.60" y1="101.34" x2="474.00" y2="101.34" stroke="#3a8e9e" stroke-width="0.9"/>
<line x1="364.30" y1="57.40" x2="381.70" y2="57.40" stroke="#000" stroke-width="1"/>
<text x="373.00" y="60.00" font-size="12" text-anchor="middle" fill="#000" stroke="#000" stroke-width="0.14" letter-spacing="-0.4">**</text>
<line x1="398.20" y1="52.30" x2="415.80" y2="52.30" stroke="#000" stroke-width="1"/>
<text x="407.00" y="54.90" font-size="12" text-anchor="middle" fill="#000" stroke="#000" stroke-width="0.14" letter-spacing="-0.4">**</text>
<line x1="398.20" y1="60.20" x2="408.80" y2="60.20" stroke="#000" stroke-width="1"/>
<text x="403.50" y="62.80" font-size="12" text-anchor="middle" fill="#000" stroke="#000" stroke-width="0.14" letter-spacing="-0.4">*</text>
<line x1="442.40" y1="57.40" x2="459.80" y2="57.40" stroke="#000" stroke-width="1"/>
<text x="451.10" y="60.00" font-size="12" text-anchor="middle" fill="#000" stroke="#000" stroke-width="0.14" letter-spacing="-0.4">**</text>
<line x1="442.40" y1="65.50" x2="453.50" y2="65.50" stroke="#000" stroke-width="1"/>
<text x="447.95" y="68.10" font-size="12" text-anchor="middle" fill="#000" stroke="#000" stroke-width="0.14" letter-spacing="-0.4">**</text>
<line x1="455.40" y1="77.30" x2="472.60" y2="77.30" stroke="#000" stroke-width="1"/>
<text x="464.00" y="79.90" font-size="12" text-anchor="middle" fill="#000" stroke="#000" stroke-width="0.14" letter-spacing="-0.4">*</text>
<line x1="462.60" y1="85.20" x2="472.60" y2="85.20" stroke="#000" stroke-width="1"/>
<text x="467.60" y="87.80" font-size="12" text-anchor="middle" fill="#000" stroke="#000" stroke-width="0.14" letter-spacing="-0.4">**</text>
<text x="512.60" y="13.20" font-size="12.5" text-anchor="start" font-weight="bold" fill="#000" stroke="#000" stroke-width="0.14">c</text>
<line x1="538.20" y1="49.00" x2="538.20" y2="137.60" stroke="#000" stroke-width="1"/>
<line x1="537.70" y1="137.10" x2="677.70" y2="137.10" stroke="#000" stroke-width="1"/>
<line x1="534.60" y1="137.10" x2="538.20" y2="137.10" stroke="#000" stroke-width="1"/>
<text x="533.00" y="140.25" font-size="9" text-anchor="end" fill="#000" stroke="#000" stroke-width="0.14">0</text>
<line x1="534.60" y1="107.90" x2="538.20" y2="107.90" stroke="#000" stroke-width="1"/>
<text x="533.00" y="111.05" font-size="9" text-anchor="end" fill="#000" stroke="#000" stroke-width="0.14">20</text>
<line x1="534.60" y1="78.70" x2="538.20" y2="78.70" stroke="#000" stroke-width="1"/>
<text x="533.00" y="81.85" font-size="9" text-anchor="end" fill="#000" stroke="#000" stroke-width="0.14">40</text>
<line x1="534.60" y1="49.50" x2="538.20" y2="49.50" stroke="#000" stroke-width="1"/>
<text x="533.00" y="52.65" font-size="9" text-anchor="end" fill="#000" stroke="#000" stroke-width="0.14">60</text>
<line x1="564.20" y1="137.10" x2="564.20" y2="140.70" stroke="#000" stroke-width="1"/>
<line x1="607.90" y1="137.10" x2="607.90" y2="140.70" stroke="#000" stroke-width="1"/>
<line x1="651.90" y1="137.10" x2="651.90" y2="140.70" stroke="#000" stroke-width="1"/>
<text x="517.50" y="92.50" font-size="9" text-anchor="middle" fill="#000" stroke="#000" stroke-width="0.14" transform="rotate(-90 517.5 92.5)">FS (%)</text>
<text x="564.20" y="150.00" font-size="9" text-anchor="middle" fill="#000" stroke="#000" stroke-width="0.14">Baseline</text>
<text x="607.90" y="150.00" font-size="9" text-anchor="middle" fill="#000" stroke="#000" stroke-width="0.14">1w</text>
<text x="651.90" y="150.00" font-size="9" text-anchor="middle" fill="#000" stroke="#000" stroke-width="0.14">4w</text>
<path d="M547.55 137.10V81.62H555.15V137.10" fill="#fff" stroke="#000" stroke-width="1.1"/>
<circle cx="552.37" cy="78.31" r="1.70" fill="#000"/>
<circle cx="549.61" cy="80.65" r="1.70" fill="#000"/>
<circle cx="548.97" cy="79.05" r="1.70" fill="#000"/>
<circle cx="551.06" cy="84.72" r="1.70" fill="#000"/>
<circle cx="550.27" cy="81.16" r="1.70" fill="#000"/>
<circle cx="551.15" cy="80.82" r="1.70" fill="#000"/>
<circle cx="550.38" cy="78.11" r="1.70" fill="#000"/>
<circle cx="552.33" cy="72.25" r="1.70" fill="#000"/>
<circle cx="551.03" cy="83.02" r="1.70" fill="#000"/>
<circle cx="552.25" cy="79.72" r="1.70" fill="#000"/>
<line x1="551.35" y1="85.45" x2="551.35" y2="77.79" stroke="#000" stroke-width="0.9"/>
<line x1="549.15" y1="77.79" x2="553.55" y2="77.79" stroke="#000" stroke-width="0.9"/>
<line x1="549.15" y1="85.45" x2="553.55" y2="85.45" stroke="#000" stroke-width="0.9"/>
<path d="M556.25 137.10V79.43H563.85V137.10" fill="#fff" stroke="#ee3344" stroke-width="1.1"/>
<rect x="555.93" y="71.23" width="3.40" height="3.40" fill="#ee3344"/>
<rect x="557.29" y="74.81" width="3.40" height="3.40" fill="#ee3344"/>
<rect x="558.20" y="77.52" width="3.40" height="3.40" fill="#ee3344"/>
<rect x="559.59" y="90.08" width="3.40" height="3.40" fill="#ee3344"/>
<rect x="558.89" y="93.04" width="3.40" height="3.40" fill="#ee3344"/>
<rect x="556.59" y="72.87" width="3.40" height="3.40" fill="#ee3344"/>
<rect x="558.52" y="86.08" width="3.40" height="3.40" fill="#ee3344"/>
<rect x="556.96" y="81.45" width="3.40" height="3.40" fill="#ee3344"/>
<rect x="557.37" y="79.48" width="3.40" height="3.40" fill="#ee3344"/>
<rect x="557.08" y="82.62" width="3.40" height="3.40" fill="#ee3344"/>
<line x1="560.05" y1="85.45" x2="560.05" y2="73.41" stroke="#ee3344" stroke-width="0.9"/>
<line x1="557.85" y1="73.41" x2="562.25" y2="73.41" stroke="#ee3344" stroke-width="0.9"/>
<line x1="557.85" y1="85.45" x2="562.25" y2="85.45" stroke="#ee3344" stroke-width="0.9"/>
<path d="M564.95 137.10V90.09H572.55V137.10" fill="#fff" stroke="#f26a1f" stroke-width="1.1"/>
<path d="M568.31 86.93L570.18 90.49L566.44 90.49Z" fill="#f26a1f"/>
<path d="M567.28 100.59L569.15 104.14L565.41 104.14Z" fill="#f26a1f"/>
<path d="M568.40 98.31L570.27 101.86L566.53 101.86Z" fill="#f26a1f"/>
<path d="M570.46 108.74L572.33 112.30L568.59 112.30Z" fill="#f26a1f"/>
<path d="M567.30 77.57L569.17 81.13L565.43 81.13Z" fill="#f26a1f"/>
<path d="M568.72 85.62L570.59 89.17L566.85 89.17Z" fill="#f26a1f"/>
<path d="M568.86 101.23L570.73 104.78L566.99 104.78Z" fill="#f26a1f"/>
<path d="M570.55 99.13L572.42 102.68L568.68 102.68Z" fill="#f26a1f"/>
<path d="M568.58 90.16L570.45 93.71L566.71 93.71Z" fill="#f26a1f"/>
<path d="M569.80 83.96L571.67 87.52L567.93 87.52Z" fill="#f26a1f"/>
<line x1="568.75" y1="96.66" x2="568.75" y2="83.52" stroke="#f26a1f" stroke-width="0.9"/>
<line x1="566.55" y1="83.52" x2="570.95" y2="83.52" stroke="#f26a1f" stroke-width="0.9"/>
<line x1="566.55" y1="96.66" x2="570.95" y2="96.66" stroke="#f26a1f" stroke-width="0.9"/>
<path d="M573.65 137.10V86.73H581.25V137.10" fill="#fff" stroke="#3a8e9e" stroke-width="1.1"/>
<path d="M577.94 81.70L579.81 78.15L576.07 78.15Z" fill="#3a8e9e"/>
<path d="M576.05 84.24L577.92 80.69L574.18 80.69Z" fill="#3a8e9e"/>
<path d="M579.05 87.70L580.92 84.14L577.18 84.14Z" fill="#3a8e9e"/>
<path d="M577.99 94.57L579.86 91.02L576.12 91.02Z" fill="#3a8e9e"/>
<path d="M576.69 90.05L578.56 86.50L574.82 86.50Z" fill="#3a8e9e"/>
<path d="M575.48 96.25L577.35 92.69L573.61 92.69Z" fill="#3a8e9e"/>
<path d="M577.73 87.03L579.60 83.48L575.86 83.48Z" fill="#3a8e9e"/>
<path d="M579.84 90.10L581.71 86.55L577.97 86.55Z" fill="#3a8e9e"/>
<path d="M576.88 90.80L578.75 87.25L575.01 87.25Z" fill="#3a8e9e"/>
<path d="M576.00 86.03L577.87 82.48L574.13 82.48Z" fill="#3a8e9e"/>
<line x1="577.45" y1="90.02" x2="577.45" y2="83.44" stroke="#3a8e9e" stroke-width="0.9"/>
<line x1="575.25" y1="83.44" x2="579.65" y2="83.44" stroke="#3a8e9e" stroke-width="0.9"/>
<line x1="575.25" y1="90.02" x2="579.65" y2="90.02" stroke="#3a8e9e" stroke-width="0.9"/>
<path d="M591.35 137.10V80.89H598.95V137.10" fill="#fff" stroke="#000" stroke-width="1.1"/>
<circle cx="596.26" cy="86.67" r="1.70" fill="#000"/>
<circle cx="594.69" cy="75.77" r="1.70" fill="#000"/>
<circle cx="594.13" cy="80.39" r="1.70" fill="#000"/>
<circle cx="592.91" cy="80.00" r="1.70" fill="#000"/>
<circle cx="595.07" cy="76.70" r="1.70" fill="#000"/>
<circle cx="596.85" cy="76.09" r="1.70" fill="#000"/>
<circle cx="593.35" cy="79.45" r="1.70" fill="#000"/>
<circle cx="594.72" cy="79.46" r="1.70" fill="#000"/>
<circle cx="595.55" cy="75.22" r="1.70" fill="#000"/>
<circle cx="597.58" cy="74.11" r="1.70" fill="#000"/>
<line x1="595.15" y1="84.72" x2="595.15" y2="77.06" stroke="#000" stroke-width="0.9"/>
<line x1="592.95" y1="77.06" x2="597.35" y2="77.06" stroke="#000" stroke-width="0.9"/>
<line x1="592.95" y1="84.72" x2="597.35" y2="84.72" stroke="#000" stroke-width="0.9"/>
<path d="M600.05 137.10V94.76H607.65V137.10" fill="#fff" stroke="#ee3344" stroke-width="1.1"/>
<rect x="599.82" y="107.38" width="3.40" height="3.40" fill="#ee3344"/>
<rect x="604.02" y="99.24" width="3.40" height="3.40" fill="#ee3344"/>
<rect x="603.83" y="102.37" width="3.40" height="3.40" fill="#ee3344"/>
<rect x="601.38" y="103.24" width="3.40" height="3.40" fill="#ee3344"/>
<rect x="600.36" y="88.71" width="3.40" height="3.40" fill="#ee3344"/>
<rect x="603.16" y="106.66" width="3.40" height="3.40" fill="#ee3344"/>
<rect x="603.76" y="107.49" width="3.40" height="3.40" fill="#ee3344"/>
<rect x="602.93" y="103.04" width="3.40" height="3.40" fill="#ee3344"/>
<rect x="600.58" y="109.94" width="3.40" height="3.40" fill="#ee3344"/>
<rect x="600.52" y="106.86" width="3.40" height="3.40" fill="#ee3344"/>
<line x1="603.85" y1="101.88" x2="603.85" y2="87.64" stroke="#ee3344" stroke-width="0.9"/>
<line x1="601.65" y1="87.64" x2="606.05" y2="87.64" stroke="#ee3344" stroke-width="0.9"/>
<line x1="601.65" y1="101.88" x2="606.05" y2="101.88" stroke="#ee3344" stroke-width="0.9"/>
<path d="M608.75 137.10V94.03H616.35V137.10" fill="#fff" stroke="#f26a1f" stroke-width="1.1"/>
<path d="M613.55 103.52L615.42 107.07L611.68 107.07Z" fill="#f26a1f"/>
<path d="M610.40 83.16L612.27 86.72L608.53 86.72Z" fill="#f26a1f"/>
<path d="M610.34 94.75L612.21 98.30L608.47 98.30Z" fill="#f26a1f"/>
<path d="M614.13 93.04L616.00 96.60L612.26 96.60Z" fill="#f26a1f"/>
<path d="M613.23 85.79L615.10 89.34L611.36 89.34Z" fill="#f26a1f"/>
<path d="M610.77 92.49L612.64 96.04L608.90 96.04Z" fill="#f26a1f"/>
<path d="M610.45 88.42L612.32 91.97L608.58 91.97Z" fill="#f26a1f"/>
<path d="M613.89 89.71L615.76 93.26L612.02 93.26Z" fill="#f26a1f"/>
<path d="M610.38 88.91L612.25 92.46L608.51 92.46Z" fill="#f26a1f"/>
<path d="M611.06 87.13L612.93 90.68L609.19 90.68Z" fill="#f26a1f"/>
<line x1="612.55" y1="97.86" x2="612.55" y2="90.20" stroke="#f26a1f" stroke-width="0.9"/>
<line x1="610.35" y1="90.20" x2="614.75" y2="90.20" stroke="#f26a1f" stroke-width="0.9"/>
<line x1="610.35" y1="97.86" x2="614.75" y2="97.86" stroke="#f26a1f" stroke-width="0.9"/>
<path d="M617.45 137.10V98.12H625.05V137.10" fill="#fff" stroke="#3a8e9e" stroke-width="1.1"/>
<path d="M618.91 96.01L620.78 92.46L617.04 92.46Z" fill="#3a8e9e"/>
<path d="M620.84 94.28L622.71 90.73L618.97 90.73Z" fill="#3a8e9e"/>
<path d="M620.51 108.95L622.38 105.40L618.64 105.40Z" fill="#3a8e9e"/>
<path d="M621.35 100.77L623.22 97.22L619.48 97.22Z" fill="#3a8e9e"/>
<path d="M621.50 98.36L623.37 94.81L619.63 94.81Z" fill="#3a8e9e"/>
<path d="M621.08 91.10L622.95 87.54L619.21 87.54Z" fill="#3a8e9e"/>
<path d="M622.13 95.01L624.00 91.46L620.26 91.46Z" fill="#3a8e9e"/>
<path d="M621.64 117.95L623.51 114.39L619.77 114.39Z" fill="#3a8e9e"/>
<path d="M622.39 105.11L624.26 101.55L620.52 101.55Z" fill="#3a8e9e"/>
<path d="M620.35 83.57L622.22 80.02L618.48 80.02Z" fill="#3a8e9e"/>
<line x1="621.25" y1="105.78" x2="621.25" y2="90.45" stroke="#3a8e9e" stroke-width="0.9"/>
<line x1="619.05" y1="90.45" x2="623.45" y2="90.45" stroke="#3a8e9e" stroke-width="0.9"/>
<line x1="619.05" y1="105.78" x2="623.45" y2="105.78" stroke="#3a8e9e" stroke-width="0.9"/>
<path d="M634.85 137.10V92.28H642.45V137.10" fill="#fff" stroke="#000" stroke-width="1.1"/>
<circle cx="637.43" cy="92.34" r="1.70" fill="#000"/>
<circle cx="637.56" cy="96.53" r="1.70" fill="#000"/>
<circle cx="639.67" cy="97.81" r="1.70" fill="#000"/>
<circle cx="637.36" cy="88.36" r="1.70" fill="#000"/>
<circle cx="638.09" cy="87.62" r="1.70" fill="#000"/>
<circle cx="637.16" cy="95.80" r="1.70" fill="#000"/>
<circle cx="637.22" cy="99.72" r="1.70" fill="#000"/>
<line x1="638.65" y1="96.66" x2="638.65" y2="87.90" stroke="#000" stroke-width="0.9"/>
<line x1="636.45" y1="87.90" x2="640.85" y2="87.90" stroke="#000" stroke-width="0.9"/>
<line x1="636.45" y1="96.66" x2="640.85" y2="96.66" stroke="#000" stroke-width="0.9"/>
<path d="M643.55 137.10V101.33H651.15V137.10" fill="#fff" stroke="#ee3344" stroke-width="1.1"/>
<rect x="644.58" y="99.60" width="3.40" height="3.40" fill="#ee3344"/>
<rect x="647.22" y="98.47" width="3.40" height="3.40" fill="#ee3344"/>
<rect x="644.94" y="99.11" width="3.40" height="3.40" fill="#ee3344"/>
<rect x="645.41" y="95.20" width="3.40" height="3.40" fill="#ee3344"/>
<rect x="647.40" y="99.91" width="3.40" height="3.40" fill="#ee3344"/>
<rect x="646.27" y="100.55" width="3.40" height="3.40" fill="#ee3344"/>
<rect x="645.63" y="99.71" width="3.40" height="3.40" fill="#ee3344"/>
<line x1="647.35" y1="103.30" x2="647.35" y2="99.36" stroke="#ee3344" stroke-width="0.9"/>
<line x1="645.15" y1="99.36" x2="649.55" y2="99.36" stroke="#ee3344" stroke-width="0.9"/>
<line x1="645.15" y1="103.30" x2="649.55" y2="103.30" stroke="#ee3344" stroke-width="0.9"/>
<path d="M652.25 137.10V102.79H659.85V137.10" fill="#fff" stroke="#f26a1f" stroke-width="1.1"/>
<path d="M655.11 100.54L656.98 104.09L653.24 104.09Z" fill="#f26a1f"/>
<path d="M653.76 101.78L655.63 105.34L651.89 105.34Z" fill="#f26a1f"/>
<path d="M655.76 100.33L657.63 103.88L653.89 103.88Z" fill="#f26a1f"/>
<path d="M653.98 98.37L655.85 101.92L652.11 101.92Z" fill="#f26a1f"/>
<path d="M653.96 97.32L655.83 100.88L652.09 100.88Z" fill="#f26a1f"/>
<path d="M656.00 100.38L657.87 103.94L654.13 103.94Z" fill="#f26a1f"/>
<path d="M654.83 102.12L656.70 105.68L652.96 105.68Z" fill="#f26a1f"/>
<line x1="656.05" y1="103.88" x2="656.05" y2="101.69" stroke="#f26a1f" stroke-width="0.9"/>
<line x1="653.85" y1="101.69" x2="658.25" y2="101.69" stroke="#f26a1f" stroke-width="0.9"/>
<line x1="653.85" y1="103.88" x2="658.25" y2="103.88" stroke="#f26a1f" stroke-width="0.9"/>
<path d="M660.95 137.10V107.46H668.55V137.10" fill="#fff" stroke="#3a8e9e" stroke-width="1.1"/>
<path d="M664.22 111.46L666.09 107.90L662.35 107.90Z" fill="#3a8e9e"/>
<path d="M664.91 106.10L666.78 102.55L663.04 102.55Z" fill="#3a8e9e"/>
<path d="M666.09 114.99L667.96 111.43L664.22 111.43Z" fill="#3a8e9e"/>
<path d="M664.92 109.60L666.79 106.05L663.05 106.05Z" fill="#3a8e9e"/>
<path d="M665.35 112.76L667.22 109.20L663.48 109.20Z" fill="#3a8e9e"/>
<path d="M667.02 114.95L668.89 111.39L665.15 111.39Z" fill="#3a8e9e"/>
<path d="M662.88 113.84L664.75 110.29L661.01 110.29Z" fill="#3a8e9e"/>
<line x1="664.75" y1="110.20" x2="664.75" y2="104.72" stroke="#3a8e9e" stroke-width="0.9"/>
<line x1="662.55" y1="104.72" x2="666.95" y2="104.72" stroke="#3a8e9e" stroke-width="0.9"/>
<line x1="662.55" y1="110.20" x2="666.95" y2="110.20" stroke="#3a8e9e" stroke-width="0.9"/>
<line x1="551.80" y1="63.00" x2="569.30" y2="63.00" stroke="#000" stroke-width="1"/>
<text x="560.55" y="65.60" font-size="12" text-anchor="middle" fill="#000" stroke="#000" stroke-width="0.14" letter-spacing="-0.4">*</text>
<line x1="559.60" y1="55.00" x2="577.00" y2="55.00" stroke="#000" stroke-width="1"/>
<text x="568.30" y="57.60" font-size="12" text-anchor="middle" fill="#000" stroke="#000" stroke-width="0.14" letter-spacing="-0.4">**</text>
<line x1="593.00" y1="61.50" x2="609.80" y2="61.50" stroke="#000" stroke-width="1"/>
<text x="601.40" y="64.10" font-size="12" text-anchor="middle" fill="#000" stroke="#000" stroke-width="0.14" letter-spacing="-0.4">***</text>
<line x1="593.00" y1="68.50" x2="604.70" y2="68.50" stroke="#000" stroke-width="1"/>
<text x="598.85" y="71.10" font-size="12" text-anchor="middle" fill="#000" stroke="#000" stroke-width="0.14" letter-spacing="-0.4">**</text>
<line x1="637.30" y1="69.20" x2="654.30" y2="69.20" stroke="#000" stroke-width="1"/>
<text x="645.80" y="71.80" font-size="12" text-anchor="middle" fill="#000" stroke="#000" stroke-width="0.14" letter-spacing="-0.4">**</text>
<line x1="637.30" y1="76.50" x2="649.20" y2="76.50" stroke="#000" stroke-width="1"/>
<text x="643.25" y="79.10" font-size="12" text-anchor="middle" fill="#000" stroke="#000" stroke-width="0.14" letter-spacing="-0.4">**</text>
<line x1="650.00" y1="88.90" x2="666.80" y2="88.90" stroke="#000" stroke-width="1"/>
<text x="658.40" y="91.50" font-size="12" text-anchor="middle" fill="#000" stroke="#000" stroke-width="0.14" letter-spacing="-0.4">*</text>
<line x1="655.00" y1="96.90" x2="666.80" y2="96.90" stroke="#000" stroke-width="1"/>
<text x="660.90" y="99.50" font-size="12" text-anchor="middle" fill="#000" stroke="#000" stroke-width="0.14" letter-spacing="-0.4">**</text>
<text x="0.50" y="197.30" font-size="12.5" text-anchor="start" font-weight="bold" fill="#000" stroke="#000" stroke-width="0.14">d</text>
<line x1="40.50" y1="230.30" x2="40.50" y2="318.90" stroke="#000" stroke-width="1"/>
<line x1="40.00" y1="318.40" x2="129.00" y2="318.40" stroke="#000" stroke-width="1"/>
<line x1="36.90" y1="318.40" x2="40.50" y2="318.40" stroke="#000" stroke-width="1"/>
<text x="35.50" y="321.55" font-size="9" text-anchor="end" fill="#000" stroke="#000" stroke-width="0.14">0</text>
<line x1="36.90" y1="300.88" x2="40.50" y2="300.88" stroke="#000" stroke-width="1"/>
<text x="35.50" y="304.03" font-size="9" text-anchor="end" fill="#000" stroke="#000" stroke-width="0.14">2</text>
<line x1="36.90" y1="283.36" x2="40.50" y2="283.36" stroke="#000" stroke-width="1"/>
<text x="35.50" y="286.51" font-size="9" text-anchor="end" fill="#000" stroke="#000" stroke-width="0.14">4</text>
<line x1="36.90" y1="265.84" x2="40.50" y2="265.84" stroke="#000" stroke-width="1"/>
<text x="35.50" y="268.99" font-size="9" text-anchor="end" fill="#000" stroke="#000" stroke-width="0.14">6</text>
<line x1="36.90" y1="248.32" x2="40.50" y2="248.32" stroke="#000" stroke-width="1"/>
<text x="35.50" y="251.47" font-size="9" text-anchor="end" fill="#000" stroke="#000" stroke-width="0.14">8</text>
<line x1="36.90" y1="230.80" x2="40.50" y2="230.80" stroke="#000" stroke-width="1"/>
<text x="35.50" y="233.95" font-size="9" text-anchor="end" fill="#000" stroke="#000" stroke-width="0.14">10</text>
<line x1="54.60" y1="318.40" x2="54.60" y2="322.00" stroke="#000" stroke-width="1"/>
<line x1="74.60" y1="318.40" x2="74.60" y2="322.00" stroke="#000" stroke-width="1"/>
<line x1="95.00" y1="318.40" x2="95.00" y2="322.00" stroke="#000" stroke-width="1"/>
<line x1="115.50" y1="318.40" x2="115.50" y2="322.00" stroke="#000" stroke-width="1"/>
<text x="21.50" y="274.00" font-size="9" text-anchor="middle" fill="#000" stroke="#000" stroke-width="0.14" transform="rotate(-90 21.5 274)">HW/BW (mg/g)</text>
<text x="57.20" y="330.90" font-size="8.6" text-anchor="end" fill="#000" stroke="#000" stroke-width="0.14" transform="rotate(-45 57.2 330.9)">AAV-NC-Sham</text>
<text x="77.20" y="330.90" font-size="8.6" text-anchor="end" fill="#000" stroke="#000" stroke-width="0.14" transform="rotate(-45 77.19999999999999 330.9)">AAV-<tspan font-style="italic">Klf7</tspan>-Sham</text>
<text x="97.60" y="330.90" font-size="8.6" text-anchor="end" fill="#000" stroke="#000" stroke-width="0.14" transform="rotate(-45 97.6 330.9)">AAV-NC-MI</text>
<text x="118.10" y="330.90" font-size="8.6" text-anchor="end" fill="#000" stroke="#000" stroke-width="0.14" transform="rotate(-45 118.1 330.9)">AAV-<tspan font-style="italic">Klf7</tspan>-MI</text>
<path d="M47.60 318.40V267.59H60.40V318.40" fill="#fff" stroke="#000" stroke-width="1.2"/>
<circle cx="50.08" cy="263.21" r="1.90" fill="#000"/>
<circle cx="54.07" cy="265.84" r="1.90" fill="#000"/>
<circle cx="57.29" cy="266.72" r="1.90" fill="#000"/>
<circle cx="52.17" cy="264.96" r="1.90" fill="#000"/>
<circle cx="56.20" cy="271.10" r="1.90" fill="#000"/>
<circle cx="53.30" cy="274.60" r="1.90" fill="#000"/>
<line x1="54.00" y1="271.53" x2="54.00" y2="263.65" stroke="#000" stroke-width="1"/>
<line x1="51.00" y1="263.65" x2="57.00" y2="263.65" stroke="#000" stroke-width="1"/>
<line x1="51.00" y1="271.53" x2="57.00" y2="271.53" stroke="#000" stroke-width="1"/>
<path d="M68.60 318.40V257.96H81.10V318.40" fill="#fff" stroke="#ee2a2a" stroke-width="1.2"/>
<rect x="68.67" y="247.30" width="3.80" height="3.80" fill="#ee2a2a"/>
<rect x="73.49" y="250.80" width="3.80" height="3.80" fill="#ee2a2a"/>
<rect x="76.06" y="256.06" width="3.80" height="3.80" fill="#ee2a2a"/>
<rect x="70.52" y="259.56" width="3.80" height="3.80" fill="#ee2a2a"/>
<rect x="75.74" y="260.44" width="3.80" height="3.80" fill="#ee2a2a"/>
<rect x="72.90" y="259.56" width="3.80" height="3.80" fill="#ee2a2a"/>
<line x1="74.85" y1="263.21" x2="74.85" y2="252.70" stroke="#ee2a2a" stroke-width="1"/>
<line x1="71.85" y1="252.70" x2="77.85" y2="252.70" stroke="#ee2a2a" stroke-width="1"/>
<line x1="71.85" y1="263.21" x2="77.85" y2="263.21" stroke="#ee2a2a" stroke-width="1"/>
<path d="M89.30 318.40V249.20H101.20V318.40" fill="#fff" stroke="#f26a1f" stroke-width="1.2"/>
<path d="M92.29 236.39L94.38 240.36L90.20 240.36Z" fill="#f26a1f"/>
<path d="M95.21 241.64L97.30 245.61L93.12 245.61Z" fill="#f26a1f"/>
<path d="M98.97 245.15L101.06 249.12L96.88 249.12Z" fill="#f26a1f"/>
<path d="M92.69 246.90L94.78 250.87L90.60 250.87Z" fill="#f26a1f"/>
<path d="M97.47 249.53L99.56 253.50L95.38 253.50Z" fill="#f26a1f"/>
<path d="M95.84 258.29L97.93 262.26L93.75 262.26Z" fill="#f26a1f"/>
<line x1="95.25" y1="256.64" x2="95.25" y2="241.75" stroke="#f26a1f" stroke-width="1"/>
<line x1="92.25" y1="241.75" x2="98.25" y2="241.75" stroke="#f26a1f" stroke-width="1"/>
<line x1="92.25" y1="256.64" x2="98.25" y2="256.64" stroke="#f26a1f" stroke-width="1"/>
<path d="M109.40 318.40V246.57H121.40V318.40" fill="#fff" stroke="#3a8e9e" stroke-width="1.2"/>
<path d="M111.94 241.86L114.03 237.89L109.85 237.89Z" fill="#3a8e9e"/>
<path d="M115.79 242.74L117.88 238.76L113.70 238.76Z" fill="#3a8e9e"/>
<path d="M119.17 246.24L121.26 242.27L117.08 242.27Z" fill="#3a8e9e"/>
<path d="M112.70 249.74L114.79 245.77L110.61 245.77Z" fill="#3a8e9e"/>
<path d="M117.81 255.00L119.90 251.03L115.72 251.03Z" fill="#3a8e9e"/>
<path d="M115.55 259.38L117.64 255.41L113.46 255.41Z" fill="#3a8e9e"/>
<line x1="115.40" y1="253.14" x2="115.40" y2="240.00" stroke="#3a8e9e" stroke-width="1"/>
<line x1="112.40" y1="240.00" x2="118.40" y2="240.00" stroke="#3a8e9e" stroke-width="1"/>
<line x1="112.40" y1="253.14" x2="118.40" y2="253.14" stroke="#3a8e9e" stroke-width="1"/>
<line x1="51.90" y1="245.30" x2="75.50" y2="245.30" stroke="#000" stroke-width="1"/>
<text x="63.70" y="247.90" font-size="12" text-anchor="middle" fill="#000" stroke="#000" stroke-width="0.14" letter-spacing="-0.4">**</text>
<line x1="51.90" y1="233.20" x2="93.70" y2="233.20" stroke="#000" stroke-width="1"/>
<text x="72.80" y="235.80" font-size="12" text-anchor="middle" fill="#000" stroke="#000" stroke-width="0.14" letter-spacing="-0.4">***</text>
<line x1="74.40" y1="223.80" x2="115.60" y2="223.80" stroke="#000" stroke-width="1"/>
<text x="95.00" y="226.40" font-size="12" text-anchor="middle" fill="#000" stroke="#000" stroke-width="0.14" letter-spacing="-0.4">**</text>
<text x="144.00" y="200.60" font-size="12.5" text-anchor="start" font-weight="bold" fill="#000" stroke="#000" stroke-width="0.14">e</text>
<text x="200.00" y="201.20" font-size="10.8" text-anchor="middle" fill="#000" stroke="#000" stroke-width="0.14">AAV-NC-Sham</text>
<text x="298.60" y="201.20" font-size="10.8" text-anchor="middle" fill="#000" stroke="#000" stroke-width="0.14">AAV-<tspan font-style="italic">Klf7</tspan>-Sham</text>
<text x="390.20" y="201.20" font-size="10.8" text-anchor="middle" fill="#000" stroke="#000" stroke-width="0.14">AAV-NC-MI</text>
<text x="477.20" y="201.20" font-size="10.8" text-anchor="middle" fill="#000" stroke="#000" stroke-width="0.14">AAV-<tspan font-style="italic">Klf7</tspan>-MI</text>
<text x="150.20" y="238.00" font-size="10.8" text-anchor="middle" fill="#000" stroke="#000" stroke-width="0.14" transform="rotate(-90 150.2 238.0)">Remote</text>
<text x="150.20" y="302.80" font-size="10.8" text-anchor="middle" fill="#000" stroke="#000" stroke-width="0.14" transform="rotate(-90 150.2 302.79999999999995)">Border</text>
<text x="150.20" y="367.50" font-size="10.8" text-anchor="middle" fill="#000" stroke="#000" stroke-width="0.14" transform="rotate(-90 150.2 367.5)">Infarct</text>
<g clip-path="url(#cl00)">
<rect x="152.20" y="206.20" width="91.70" height="63.60" fill="#952f40" stroke="none" stroke-width="1"/>
<g transform="rotate(-20 198.1 238.0)" opacity="0.3"><rect x="128.1" y="168.0" width="140" height="140" fill="#fff" filter="url(#tf2)"/></g>
<g transform="rotate(-20 198.1 238.0)" opacity="0.42"><rect x="128.1" y="168.0" width="140" height="140" fill="#fff" filter="url(#tf1)"/></g>
</g>
<g clip-path="url(#cl01)">
<rect x="152.20" y="271.40" width="91.70" height="62.80" fill="#952f40" stroke="none" stroke-width="1"/>
<g transform="rotate(-30 198.1 302.8)" opacity="0.3"><rect x="128.1" y="232.8" width="140" height="140" fill="#fff" filter="url(#tf2)"/></g>
<g transform="rotate(-30 198.1 302.8)" opacity="0.42"><rect x="128.1" y="232.8" width="140" height="140" fill="#fff" filter="url(#tf1)"/></g>
<path d="M152 311.8 L171 334.5 L152 334.5Z" fill="#b9d3e2" fill-opacity="1"/>
</g>
<g clip-path="url(#cl02)">
<rect x="152.20" y="336.20" width="91.70" height="62.60" fill="#932e3e" stroke="none" stroke-width="1"/>
<g transform="rotate(-35 198.1 367.5)" opacity="0.3"><rect x="128.1" y="297.5" width="140" height="140" fill="#fff" filter="url(#tf2)"/></g>
<g transform="rotate(-35 198.1 367.5)" opacity="0.42"><rect x="128.1" y="297.5" width="140" height="140" fill="#fff" filter="url(#tf1)"/></g>
</g>
<g clip-path="url(#cl10)">
<rect x="245.30" y="206.20" width="91.70" height="63.60" fill="#952f40" stroke="none" stroke-width="1"/>
<g transform="rotate(-25 291.1 238.0)" opacity="0.3"><rect x="221.1" y="168.0" width="140" height="140" fill="#fff" filter="url(#tf2)"/></g>
<g transform="rotate(-25 291.1 238.0)" opacity="0.42"><rect x="221.1" y="168.0" width="140" height="140" fill="#fff" filter="url(#tf1)"/></g>
<path d="M258 224.5 L262 224.5 L276 236 L290 248.5 L288 250 L274 238Z" fill="#a4a0c8" fill-opacity="0.75" filter="url(#bl1)"/>
<path d="M299 219 L303 218 L304 222 L300 223Z" fill="#8a60a0" fill-opacity="0.8" filter="url(#bl1)"/>
</g>
<g clip-path="url(#cl11)">
<rect x="245.30" y="271.40" width="91.70" height="62.80" fill="#952f40" stroke="none" stroke-width="1"/>
<g transform="rotate(-30 291.1 302.8)" opacity="0.3"><rect x="221.1" y="232.8" width="140" height="140" fill="#fff" filter="url(#tf2)"/></g>
<g transform="rotate(-30 291.1 302.8)" opacity="0.42"><rect x="221.1" y="232.8" width="140" height="140" fill="#fff" filter="url(#tf1)"/></g>
<path d="M245 301 L249 301 L256 312 L263 324 L268 334.5 L262 334.5 L254 322 L247 312Z" fill="#d0dcea" fill-opacity="1" filter="url(#bl1)"/>
<path d="M298 285 L303 284.5 L303.5 287 L299 287.5Z" fill="#e8eef4" fill-opacity="1" filter="url(#bl1)"/>
<path d="M245 324 L255 334.5 L245 334.5Z" fill="#b9d3e2" fill-opacity="1"/>
</g>
<g clip-path="url(#cl12)">
<rect x="245.30" y="336.20" width="91.70" height="62.60" fill="#952f40" stroke="none" stroke-width="1"/>
<g transform="rotate(-20 291.1 367.5)" opacity="0.3"><rect x="221.1" y="297.5" width="140" height="140" fill="#fff" filter="url(#tf2)"/></g>
<g transform="rotate(-20 291.1 367.5)" opacity="0.42"><rect x="221.1" y="297.5" width="140" height="140" fill="#fff" filter="url(#tf1)"/></g>
<path d="M259 354 L264 352 L266 370 L262 371Z" fill="#b8a8c4" fill-opacity="0.5" filter="url(#bl2)"/>
</g>
<g clip-path="url(#cl20)">
<rect x="338.00" y="206.20" width="91.50" height="63.60" fill="#88263a" stroke="none" stroke-width="1"/>
<g transform="rotate(-15 383.8 238.0)" opacity="0.55"><rect x="313.8" y="168.0" width="140" height="140" fill="#fff" filter="url(#tf3)"/></g>
<g transform="rotate(-15 383.8 238.0)" opacity="0.5"><rect x="313.8" y="168.0" width="140" height="140" fill="#fff" filter="url(#tf4)"/></g>
<path d="M338.8 208.2 C340.4 207.7 345.3 207.4 348.6 207.5 C351.9 207.6 357.0 208.4 358.4 208.9 C359.8 209.4 358.9 210.4 357.0 210.7 C355.2 211.1 350.2 211.1 347.2 211.0 C344.2 210.9 340.2 210.8 338.8 210.3 C337.4 209.8 337.2 208.7 338.8 208.2Z" fill="#b8c8dc" fill-opacity="0.6" filter="url(#bl2)"/>
<path d="M411.7 209.6 C412.2 208.4 417.2 207.3 420.1 206.8 C423.0 206.3 427.8 205.9 429.2 206.8 C430.6 207.7 429.6 211.0 428.5 212.4 C427.5 213.8 424.8 215.0 422.9 215.2 C421.0 215.4 419.2 214.7 417.3 213.8 C415.4 212.9 411.2 210.8 411.7 209.6Z" fill="#c0d4e4" fill-opacity="0.7" filter="url(#bl2)"/>
<path d="M351.4 220.5 C352.7 220.2 357.0 220.0 359.8 220.1 C362.6 220.3 367.2 221.0 368.2 221.5 C369.3 222.1 367.8 223.0 366.1 223.3 C364.5 223.6 360.8 223.5 358.4 223.3 C356.1 223.2 353.3 222.7 352.1 222.2 C350.9 221.8 350.1 220.9 351.4 220.5Z" fill="#b8c8dc" fill-opacity="0.6" filter="url(#bl2)"/>
<path d="M366.8 240.4 C367.5 239.7 372.7 239.9 375.2 239.0 C377.8 238.2 380.1 236.2 382.3 235.5 C384.4 234.8 385.8 234.5 387.9 234.8 C390.0 235.2 393.0 236.8 394.9 237.6 C396.7 238.5 399.5 238.8 399.1 239.7 C398.6 240.7 394.4 242.2 392.1 243.2 C389.7 244.3 387.4 245.8 385.1 246.0 C382.7 246.3 380.4 245.1 378.0 244.6 C375.7 244.2 372.9 243.9 371.0 243.2 C369.2 242.5 366.1 241.1 366.8 240.4Z" fill="#b4c8dc" fill-opacity="0.65" filter="url(#bl2)"/>
<path d="M401.9 236.9 C403.0 236.2 407.2 235.1 410.3 234.1 C413.3 233.2 418.3 231.4 420.1 231.3 C421.8 231.2 422.2 232.5 420.8 233.4 C419.4 234.4 414.6 236.0 411.7 236.9 C408.8 237.8 404.9 238.8 403.3 238.8 C401.6 238.8 400.7 237.7 401.9 236.9Z" fill="#a8bcd4" fill-opacity="0.55" filter="url(#bl2)"/>
<path d="M343.7 247.4 C344.8 247.3 347.8 248.1 350.0 248.8 C352.2 249.6 356.1 250.9 357.0 251.7 C358.0 252.4 357.0 253.2 355.6 253.3 C354.2 253.5 350.6 253.0 348.6 252.4 C346.6 251.7 344.5 250.4 343.7 249.6 C342.9 248.7 342.7 247.6 343.7 247.4Z" fill="#b8c8dc" fill-opacity="0.6" filter="url(#bl2)"/>
<path d="M338.8 239.0 C339.6 238.7 342.1 239.6 343.0 240.4 C343.9 241.3 344.9 243.2 344.4 243.9 C343.9 244.6 341.2 244.9 340.2 244.6 C339.2 244.4 338.8 243.5 338.5 242.5 C338.3 241.6 338.1 239.4 338.8 239.0Z" fill="#b8c8dc" fill-opacity="0.6" filter="url(#bl2)"/>
<g transform="rotate(-15 383.8 238.0)" opacity="0.2"><rect x="313.8" y="168.0" width="140" height="140" fill="#fff" filter="url(#tf1)"/></g>
</g>
<g clip-path="url(#cl21)">
<rect x="338.00" y="271.40" width="91.50" height="62.80" fill="#9c3444" stroke="none" stroke-width="1"/>
<g transform="rotate(-30 383.8 302.8)" opacity="0.4"><rect x="313.8" y="232.8" width="140" height="140" fill="#fff" filter="url(#tf3)"/></g>
<g transform="rotate(-30 383.8 302.8)" opacity="0.4"><rect x="313.8" y="232.8" width="140" height="140" fill="#fff" filter="url(#tf4)"/></g>
<path d="M338.0 291.0 C339.0 283.3 342.4 288.5 344.4 288.2 C346.4 288.0 348.4 288.0 350.0 289.6 C351.7 291.3 353.1 294.3 354.2 298.0 C355.4 301.8 356.3 307.4 357.0 312.0 C357.7 316.7 358.7 322.3 358.4 326.1 C358.2 329.8 359.0 333.1 355.6 334.5 C352.2 335.9 340.9 341.7 338.0 334.5 C335.0 327.2 336.9 298.7 338.0 291.0Z" fill="#b4bcd4" fill-opacity="0.75" filter="url(#bl2)"/>
<path d="M358.4 275.6 C358.7 273.5 361.7 274.7 364.0 278.4 C366.4 282.1 369.6 290.6 372.4 298.0 C375.2 305.5 379.0 317.2 380.8 323.3 C382.7 329.3 384.1 332.6 383.7 334.5 C383.2 336.3 380.1 338.2 378.0 334.5 C375.9 330.7 373.6 319.3 371.0 312.0 C368.5 304.8 364.7 297.1 362.6 291.0 C360.5 284.9 358.2 277.7 358.4 275.6Z" fill="#a8c0d8" fill-opacity="0.7" filter="url(#bl2)"/>
<path d="M370.3 288.9 C372.3 288.5 378.2 289.8 382.3 289.9 C386.3 290.0 390.9 290.0 394.9 289.3 C398.8 288.6 402.3 286.4 406.1 285.7 C409.8 285.0 413.4 284.8 417.3 285.1 C421.2 285.5 427.5 281.1 429.5 287.9 C431.5 294.8 430.6 319.8 429.5 326.1 C428.4 332.3 424.9 324.9 422.9 325.4 C420.9 325.8 418.7 327.7 417.3 328.9 C415.9 330.0 416.8 331.9 414.5 332.4 C412.2 332.9 406.0 333.0 403.3 331.9 C400.6 330.9 399.5 329.4 398.4 326.1 C397.2 322.7 396.5 315.9 396.3 312.0 C396.0 308.2 395.8 304.7 397.0 302.9 C398.1 301.2 400.8 302.0 403.3 301.5 C405.7 301.1 409.7 301.1 411.7 300.1 C413.7 299.2 414.8 297.4 415.2 295.9 C415.5 294.4 414.8 292.0 413.8 291.0 C412.7 290.0 410.9 289.9 408.9 289.9 C406.9 289.9 403.7 290.5 401.9 291.0 C400.0 291.6 400.5 292.6 397.7 293.1 C394.9 293.6 388.8 293.7 385.1 294.1 C381.3 294.5 377.7 295.7 375.2 295.5 C372.8 295.3 371.2 293.8 370.3 292.7 C369.5 291.6 368.4 289.4 370.3 288.9Z" fill="#b8d6e2" fill-opacity="1" filter="url(#bl1)"/>
<path d="M364.0 278.4 C365.0 277.7 368.6 278.2 369.6 279.8 C370.7 281.4 370.8 286.7 370.3 288.2 C369.9 289.7 367.9 289.6 366.8 288.9 C365.8 288.2 364.5 285.8 364.0 284.0 C363.6 282.3 363.1 279.1 364.0 278.4Z" fill="#c8dcea" fill-opacity="1" filter="url(#bl1)"/>
<g transform="rotate(-30 383.8 302.8)" opacity="0.3"><rect x="313.8" y="232.8" width="140" height="140" fill="#fff" filter="url(#tf1)"/></g>
</g>
<g clip-path="url(#cl22)">
<rect x="338.00" y="336.20" width="91.50" height="62.60" fill="#a4343f" stroke="none" stroke-width="1"/>
<g transform="rotate(-10 383.8 367.5)" opacity="0.3"><rect x="313.8" y="297.5" width="140" height="140" fill="#fff" filter="url(#tf3)"/></g>
<g transform="rotate(-10 383.8 367.5)" opacity="0.45"><rect x="313.8" y="297.5" width="140" height="140" fill="#fff" filter="url(#tf4)"/></g>
<path d="M338.8 336.8 C341.8 335.9 350.9 336.8 357.0 337.1 C363.1 337.3 372.4 337.4 375.2 338.2 C378.0 339.0 376.9 341.0 373.8 341.7 C370.8 342.4 362.9 342.3 357.0 342.4 C351.2 342.5 341.8 343.3 338.8 342.4 C335.8 341.5 335.8 337.7 338.8 336.8Z" fill="#b0b8d0" fill-opacity="0.6" filter="url(#bl2)"/>
<path d="M338.8 369.0 C341.1 367.1 348.1 367.2 352.8 368.3 C357.5 369.5 362.6 373.8 366.8 376.0 C371.0 378.3 376.4 379.8 378.0 381.7 C379.7 383.5 379.0 386.6 376.6 387.3 C374.3 388.0 368.5 386.8 364.0 385.9 C359.6 384.9 354.2 382.6 350.0 381.7 C345.8 380.7 340.7 382.4 338.8 380.3 C336.9 378.1 336.5 371.0 338.8 369.0Z" fill="#a8b4cc" fill-opacity="0.6" filter="url(#bl2)"/>
<path d="M401.9 349.4 C403.0 348.9 407.2 350.6 408.9 352.2 C410.5 353.9 412.2 357.8 411.7 359.2 C411.2 360.6 407.7 361.3 406.1 360.6 C404.4 359.9 402.6 356.9 401.9 355.0 C401.2 353.2 400.7 349.9 401.9 349.4Z" fill="#b0c0d8" fill-opacity="0.6" filter="url(#bl2)"/>
<path d="M386.5 369.0 C387.6 367.5 394.4 368.1 396.3 369.7 C398.1 371.4 398.8 377.3 397.7 378.8 C396.5 380.4 391.1 380.5 389.3 378.8 C387.4 377.2 385.3 370.6 386.5 369.0Z" fill="#b8c4d8" fill-opacity="0.6" filter="url(#bl2)"/>
<path d="M359.8 360.6 C360.5 360.3 363.8 361.2 364.7 361.8 C365.7 362.3 366.1 363.9 365.4 364.1 C364.7 364.4 361.5 364.0 360.5 363.4 C359.6 362.8 359.1 360.9 359.8 360.6Z" fill="#e8eef4" fill-opacity="1" filter="url(#bl1)"/>
<g transform="rotate(-10 383.8 367.5)" opacity="0.35"><rect x="313.8" y="297.5" width="140" height="140" fill="#fff" filter="url(#tf1)"/></g>
</g>
<g clip-path="url(#cl30)">
<rect x="431.00" y="206.20" width="91.70" height="63.60" fill="#b8405e" stroke="none" stroke-width="1"/>
<g transform="rotate(-25 476.9 238.0)" opacity="0.35"><rect x="406.9" y="168.0" width="140" height="140" fill="#fff" filter="url(#tf5)"/></g>
<g transform="rotate(-25 476.9 238.0)" opacity="0.45"><rect x="406.9" y="168.0" width="140" height="140" fill="#fff" filter="url(#tf6)"/></g>
<g transform="rotate(-25 476.9 238.0)" opacity="0.7"><rect x="406.9" y="168.0" width="140" height="140" fill="#fff" filter="url(#tf7)"/></g>
<path d="M433.2 242.1 C433.9 241.0 437.9 239.0 440.2 237.1 C442.5 235.2 445.1 232.9 447.2 230.6 C449.3 228.4 451.5 225.4 452.8 223.6 C454.2 221.8 454.3 220.1 455.3 219.7 C456.4 219.3 457.8 220.6 459.1 221.1 C460.5 221.6 463.3 221.5 463.3 222.5 C463.3 223.5 461.1 225.2 459.1 227.1 C457.1 229.1 454.1 232.0 451.4 234.1 C448.7 236.3 445.6 238.6 443.0 240.2 C440.4 241.7 437.6 243.2 436.0 243.5 C434.4 243.9 432.5 243.2 433.2 242.1Z" fill="#f4d4c8" fill-opacity="1" filter="url(#bl1)"/>
<path d="M461.9 246.0 C463.4 245.7 467.9 245.2 471.0 244.9 C474.2 244.6 479.2 244.2 480.9 244.2 C482.5 244.2 482.8 244.8 481.1 245.1 C479.5 245.4 474.2 245.7 471.0 246.0 C467.9 246.3 463.7 246.9 462.2 246.9 C460.7 246.9 460.5 246.4 461.9 246.0Z" fill="#f0d0c8" fill-opacity="1" filter="url(#bl1)"/>
<path d="M452.1 252.8 C454.0 252.4 462.0 251.6 464.0 251.5 C466.1 251.4 466.2 252.0 464.3 252.4 C462.4 252.7 454.6 253.4 452.5 253.5 C450.5 253.5 450.2 253.1 452.1 252.8Z" fill="#e8c8cc" fill-opacity="1" filter="url(#bl1)"/>
<g transform="rotate(-25 476.9 238.0)" opacity="0.3"><rect x="406.9" y="168.0" width="140" height="140" fill="#fff" filter="url(#tf1)"/></g>
</g>
<g clip-path="url(#cl31)">
<rect x="431.00" y="271.40" width="91.70" height="62.80" fill="#9a5078" stroke="none" stroke-width="1"/>
<g transform="rotate(-20 476.9 302.8)" opacity="0.7"><rect x="406.9" y="232.8" width="140" height="140" fill="#fff" filter="url(#tf5)"/></g>
<g transform="rotate(-20 476.9 302.8)" opacity="0.5"><rect x="406.9" y="232.8" width="140" height="140" fill="#fff" filter="url(#tf6)"/></g>
<g transform="rotate(-20 476.9 302.8)" opacity="0.6"><rect x="406.9" y="232.8" width="140" height="140" fill="#fff" filter="url(#tf7)"/></g>
<path d="M445.8 271.4 C453.2 270.7 482.3 270.7 490.7 271.4 C499.1 272.1 494.2 274.0 496.3 275.6 C498.4 277.2 501.4 279.6 503.3 281.2 C505.2 282.8 507.8 284.2 507.5 285.4 C507.1 286.6 501.6 286.8 501.2 288.2 C500.7 289.6 503.2 291.7 504.7 293.8 C506.2 295.9 511.2 299.5 510.3 300.8 C509.4 302.2 502.8 301.9 499.1 302.0 C495.3 302.0 490.7 301.8 487.9 301.1 C485.1 300.5 484.6 299.0 482.3 298.0 C479.9 297.0 476.7 296.4 473.8 295.2 C471.0 294.1 468.2 292.2 465.4 291.0 C462.6 289.9 459.6 289.9 457.0 288.2 C454.5 286.6 451.8 283.3 450.0 281.2 C448.3 279.1 447.2 277.2 446.5 275.6 C445.8 274.0 438.5 272.1 445.8 271.4Z" fill="#c2cadb" fill-opacity="1" filter="url(#bl1)"/>
<path d="M507.5 271.4 C509.5 270.2 520.1 270.2 522.6 271.4 C525.1 272.6 523.7 276.8 522.6 278.4 C521.5 280.0 518.0 281.2 515.9 281.2 C513.8 281.2 511.7 280.0 510.3 278.4 C508.9 276.8 505.4 272.6 507.5 271.4Z" fill="#c0c4d8" fill-opacity="0.7" filter="url(#bl2)"/>
<path d="M472.4 309.9 C472.9 309.0 476.2 307.4 478.1 307.1 C479.9 306.9 483.2 307.6 483.7 308.5 C484.1 309.5 482.3 312.0 480.9 312.7 C479.5 313.4 476.7 313.2 475.3 312.7 C473.8 312.3 472.0 310.9 472.4 309.9Z" fill="#c4ccdc" fill-opacity="1" filter="url(#bl1)"/>
<g transform="rotate(-20 476.9 302.8)" opacity="0.25"><rect x="406.9" y="232.8" width="140" height="140" fill="#fff" filter="url(#tf1)"/></g>
</g>
<g clip-path="url(#cl32)">
<rect x="431.00" y="336.20" width="91.70" height="62.60" fill="#b03a5a" stroke="none" stroke-width="1"/>
<g transform="rotate(-35 476.9 367.5)" opacity="0.4"><rect x="406.9" y="297.5" width="140" height="140" fill="#fff" filter="url(#tf6)"/></g>
<g transform="rotate(-35 476.9 367.5)" opacity="0.5"><rect x="406.9" y="297.5" width="140" height="140" fill="#fff" filter="url(#tf7)"/></g>
<path d="M451.4 336.1 C459.4 335.3 486.5 333.9 494.9 336.1 C503.3 338.3 501.4 345.1 501.9 349.4 C502.3 353.7 499.3 358.1 497.7 362.0 C496.0 366.0 495.8 370.2 492.1 373.2 C488.3 376.3 479.7 377.4 475.3 380.3 C470.8 383.1 468.2 387.0 465.4 390.1 C462.6 393.1 464.2 397.3 458.4 398.8 C452.7 400.2 435.5 405.3 431.0 398.8 C426.4 392.2 429.9 366.5 431.0 359.2 C432.0 351.9 435.4 356.2 437.4 355.0 C439.4 353.9 441.8 353.6 443.0 352.2 C444.2 350.8 443.7 348.5 444.4 346.6 C445.1 344.7 446.1 342.8 447.2 341.0 C448.4 339.3 443.5 336.9 451.4 336.1Z" fill="#7a74b0" fill-opacity="0.8" filter="url(#bl2)"/>
<g transform="rotate(-38 476.9 367.5)" opacity="0.45"><rect x="406.9" y="297.5" width="140" height="140" fill="#fff" filter="url(#tf9)"/></g>
<g transform="rotate(-30 476.9 367.5)" opacity="0.25"><rect x="406.9" y="297.5" width="140" height="140" fill="#fff" filter="url(#tf1)"/></g>
<path d="M431.0 336.1 C434.4 332.2 448.7 335.3 451.4 336.1 C454.1 336.9 448.4 339.3 447.2 341.0 C446.1 342.8 445.1 344.7 444.4 346.6 C443.7 348.5 444.2 350.8 443.0 352.2 C441.8 353.6 439.4 353.9 437.4 355.0 C435.4 356.2 432.0 362.4 431.0 359.2 C429.9 356.1 427.6 340.0 431.0 336.1Z" fill="#c6c2c8" filter="url(#bl1)"/>
</g>
<line x1="153.70" y1="266.20" x2="168.00" y2="266.20" stroke="#000" stroke-width="1.3"/>
<rect x="355.20" y="274.20" width="15.20" height="15.20" fill="none" stroke="#1a2a4a" stroke-width="1"/>
<rect x="375.20" y="341.00" width="15.20" height="15.20" fill="none" stroke="#1a2a4a" stroke-width="1"/>
<rect x="453.50" y="298.30" width="15.20" height="15.20" fill="none" stroke="#1a2a4a" stroke-width="1"/>
<rect x="477.30" y="362.00" width="15.20" height="15.20" fill="none" stroke="#1a2a4a" stroke-width="1"/>
<line x1="561.30" y1="232.00" x2="561.30" y2="328.80" stroke="#000" stroke-width="1"/>
<line x1="560.80" y1="328.30" x2="676.00" y2="328.30" stroke="#000" stroke-width="1"/>
<line x1="557.30" y1="328.30" x2="561.30" y2="328.30" stroke="#000" stroke-width="1"/>
<text x="555.70" y="331.45" font-size="9" text-anchor="end" fill="#000" stroke="#000" stroke-width="0.14">0</text>
<line x1="557.30" y1="309.14" x2="561.30" y2="309.14" stroke="#000" stroke-width="1"/>
<text x="555.70" y="312.29" font-size="9" text-anchor="end" fill="#000" stroke="#000" stroke-width="0.14">5</text>
<line x1="557.30" y1="289.98" x2="561.30" y2="289.98" stroke="#000" stroke-width="1"/>
<text x="555.70" y="293.13" font-size="9" text-anchor="end" fill="#000" stroke="#000" stroke-width="0.14">10</text>
<line x1="557.30" y1="270.82" x2="561.30" y2="270.82" stroke="#000" stroke-width="1"/>
<text x="555.70" y="273.97" font-size="9" text-anchor="end" fill="#000" stroke="#000" stroke-width="0.14">15</text>
<line x1="557.30" y1="251.66" x2="561.30" y2="251.66" stroke="#000" stroke-width="1"/>
<text x="555.70" y="254.81" font-size="9" text-anchor="end" fill="#000" stroke="#000" stroke-width="0.14">20</text>
<line x1="557.30" y1="232.50" x2="561.30" y2="232.50" stroke="#000" stroke-width="1"/>
<text x="555.70" y="235.65" font-size="9" text-anchor="end" fill="#000" stroke="#000" stroke-width="0.14">25</text>
<line x1="578.70" y1="328.30" x2="578.70" y2="332.30" stroke="#000" stroke-width="1"/>
<line x1="605.10" y1="328.30" x2="605.10" y2="332.30" stroke="#000" stroke-width="1"/>
<line x1="631.40" y1="328.30" x2="631.40" y2="332.30" stroke="#000" stroke-width="1"/>
<line x1="657.90" y1="328.30" x2="657.90" y2="332.30" stroke="#000" stroke-width="1"/>
<text x="538.80" y="280.00" font-size="9.2" text-anchor="middle" fill="#000" stroke="#000" stroke-width="0.14" transform="rotate(-90 538.8 280)">Percentage of fibrosis (%)</text>
<text x="581.60" y="342.20" font-size="9.8" text-anchor="end" fill="#000" stroke="#000" stroke-width="0.14" transform="rotate(-45 581.6 342.2)">AAV-NC-Sham</text>
<text x="608.00" y="342.20" font-size="9.8" text-anchor="end" fill="#000" stroke="#000" stroke-width="0.14" transform="rotate(-45 608.0 342.2)">AAV-<tspan font-style="italic">Klf7</tspan>-Sham</text>
<text x="634.30" y="342.20" font-size="9.8" text-anchor="end" fill="#000" stroke="#000" stroke-width="0.14" transform="rotate(-45 634.3 342.2)">AAV-NC-MI</text>
<text x="660.80" y="342.20" font-size="9.8" text-anchor="end" fill="#000" stroke="#000" stroke-width="0.14" transform="rotate(-45 660.8 342.2)">AAV-<tspan font-style="italic">Klf7</tspan>-MI</text>
<circle cx="574.73" cy="323.15" r="1.80" fill="#000"/>
<circle cx="571.60" cy="318.86" r="1.80" fill="#000"/>
<circle cx="579.05" cy="317.20" r="1.80" fill="#000"/>
<circle cx="572.47" cy="321.25" r="1.80" fill="#000"/>
<circle cx="575.23" cy="323.43" r="1.80" fill="#000"/>
<circle cx="574.63" cy="320.05" r="1.80" fill="#000"/>
<circle cx="571.99" cy="318.59" r="1.80" fill="#000"/>
<circle cx="578.27" cy="316.92" r="1.80" fill="#000"/>
<circle cx="578.01" cy="323.13" r="1.80" fill="#000"/>
<circle cx="582.58" cy="323.34" r="1.80" fill="#000"/>
<circle cx="578.96" cy="317.98" r="1.80" fill="#000"/>
<circle cx="580.70" cy="318.60" r="1.80" fill="#000"/>
<circle cx="578.70" cy="315.76" r="1.80" fill="#000"/>
<circle cx="580.72" cy="317.23" r="1.80" fill="#000"/>
<circle cx="578.03" cy="320.14" r="1.80" fill="#000"/>
<circle cx="575.37" cy="320.61" r="1.80" fill="#000"/>
<circle cx="582.30" cy="313.36" r="1.80" fill="#000"/>
<circle cx="586.11" cy="320.64" r="1.80" fill="#000"/>
<circle cx="583.18" cy="321.98" r="1.80" fill="#000"/>
<circle cx="581.17" cy="322.92" r="1.80" fill="#000"/>
<line x1="569.70" y1="319.87" x2="587.70" y2="319.87" stroke="#000" stroke-width="1"/>
<line x1="573.70" y1="317.19" x2="583.70" y2="317.19" stroke="#000" stroke-width="1"/>
<line x1="573.70" y1="322.55" x2="583.70" y2="322.55" stroke="#000" stroke-width="1"/>
<line x1="578.70" y1="322.55" x2="578.70" y2="317.19" stroke="#000" stroke-width="1"/>
<rect x="597.06" y="317.47" width="3.60" height="3.60" fill="#8f8f8f"/>
<rect x="600.96" y="315.65" width="3.60" height="3.60" fill="#8f8f8f"/>
<rect x="610.59" y="317.10" width="3.60" height="3.60" fill="#8f8f8f"/>
<rect x="607.13" y="316.21" width="3.60" height="3.60" fill="#8f8f8f"/>
<rect x="597.31" y="316.72" width="3.60" height="3.60" fill="#8f8f8f"/>
<rect x="600.03" y="318.85" width="3.60" height="3.60" fill="#8f8f8f"/>
<rect x="597.61" y="315.84" width="3.60" height="3.60" fill="#8f8f8f"/>
<rect x="597.36" y="318.48" width="3.60" height="3.60" fill="#8f8f8f"/>
<rect x="606.41" y="313.47" width="3.60" height="3.60" fill="#8f8f8f"/>
<rect x="598.64" y="317.89" width="3.60" height="3.60" fill="#8f8f8f"/>
<rect x="604.12" y="315.61" width="3.60" height="3.60" fill="#8f8f8f"/>
<rect x="602.46" y="316.92" width="3.60" height="3.60" fill="#8f8f8f"/>
<rect x="599.26" y="315.10" width="3.60" height="3.60" fill="#8f8f8f"/>
<rect x="606.58" y="318.07" width="3.60" height="3.60" fill="#8f8f8f"/>
<rect x="598.53" y="315.01" width="3.60" height="3.60" fill="#8f8f8f"/>
<rect x="605.54" y="317.16" width="3.60" height="3.60" fill="#8f8f8f"/>
<rect x="598.65" y="314.50" width="3.60" height="3.60" fill="#8f8f8f"/>
<rect x="602.18" y="315.72" width="3.60" height="3.60" fill="#8f8f8f"/>
<rect x="598.83" y="316.65" width="3.60" height="3.60" fill="#8f8f8f"/>
<rect x="600.17" y="318.42" width="3.60" height="3.60" fill="#8f8f8f"/>
<line x1="596.10" y1="318.72" x2="614.10" y2="318.72" stroke="#8f8f8f" stroke-width="1"/>
<line x1="600.10" y1="316.80" x2="610.10" y2="316.80" stroke="#8f8f8f" stroke-width="1"/>
<line x1="600.10" y1="320.64" x2="610.10" y2="320.64" stroke="#8f8f8f" stroke-width="1"/>
<line x1="605.10" y1="320.64" x2="605.10" y2="316.80" stroke="#8f8f8f" stroke-width="1"/>
<path d="M632.06 265.19L634.04 268.95L630.08 268.95Z" fill="#f26a1f"/>
<path d="M636.78 282.90L638.76 286.66L634.80 286.66Z" fill="#f26a1f"/>
<path d="M627.21 285.99L629.19 289.75L625.23 289.75Z" fill="#f26a1f"/>
<path d="M628.57 263.66L630.55 267.42L626.59 267.42Z" fill="#f26a1f"/>
<path d="M637.54 278.08L639.52 281.84L635.56 281.84Z" fill="#f26a1f"/>
<path d="M635.25 271.95L637.23 275.71L633.27 275.71Z" fill="#f26a1f"/>
<path d="M628.27 272.77L630.25 276.53L626.29 276.53Z" fill="#f26a1f"/>
<path d="M627.85 289.71L629.83 293.47L625.87 293.47Z" fill="#f26a1f"/>
<path d="M633.36 263.66L635.34 267.42L631.38 267.42Z" fill="#f26a1f"/>
<path d="M635.32 265.17L637.30 268.93L633.34 268.93Z" fill="#f26a1f"/>
<path d="M626.76 278.65L628.74 282.41L624.78 282.41Z" fill="#f26a1f"/>
<path d="M637.25 273.79L639.23 277.56L635.27 277.56Z" fill="#f26a1f"/>
<path d="M637.32 279.07L639.30 282.83L635.34 282.83Z" fill="#f26a1f"/>
<path d="M632.69 287.59L634.67 291.35L630.71 291.35Z" fill="#f26a1f"/>
<path d="M630.18 281.08L632.16 284.84L628.20 284.84Z" fill="#f26a1f"/>
<path d="M625.65 276.98L627.63 280.75L623.67 280.75Z" fill="#f26a1f"/>
<path d="M626.08 270.73L628.06 274.49L624.10 274.49Z" fill="#f26a1f"/>
<path d="M637.49 274.16L639.47 277.92L635.51 277.92Z" fill="#f26a1f"/>
<path d="M627.28 279.64L629.26 283.40L625.30 283.40Z" fill="#f26a1f"/>
<path d="M633.56 268.72L635.54 272.48L631.58 272.48Z" fill="#f26a1f"/>
<path d="M628.25 286.55L630.23 290.31L626.27 290.31Z" fill="#f26a1f"/>
<path d="M635.55 273.45L637.53 277.22L633.57 277.22Z" fill="#f26a1f"/>
<path d="M632.51 270.76L634.49 274.52L630.53 274.52Z" fill="#f26a1f"/>
<path d="M628.34 282.60L630.32 286.36L626.36 286.36Z" fill="#f26a1f"/>
<line x1="622.40" y1="282.32" x2="640.40" y2="282.32" stroke="#f26a1f" stroke-width="1"/>
<line x1="626.40" y1="273.89" x2="636.40" y2="273.89" stroke="#f26a1f" stroke-width="1"/>
<line x1="626.40" y1="290.75" x2="636.40" y2="290.75" stroke="#f26a1f" stroke-width="1"/>
<line x1="631.40" y1="290.75" x2="631.40" y2="273.89" stroke="#f26a1f" stroke-width="1"/>
<path d="M653.09 270.20L655.07 266.44L651.11 266.44Z" fill="#3a8e9e"/>
<path d="M652.88 263.73L654.86 259.97L650.90 259.97Z" fill="#3a8e9e"/>
<path d="M651.34 270.82L653.32 267.05L649.36 267.05Z" fill="#3a8e9e"/>
<path d="M664.01 274.06L665.99 270.29L662.03 270.29Z" fill="#3a8e9e"/>
<path d="M659.89 292.16L661.87 288.40L657.91 288.40Z" fill="#3a8e9e"/>
<path d="M664.10 283.39L666.08 279.62L662.12 279.62Z" fill="#3a8e9e"/>
<path d="M651.31 282.45L653.29 278.68L649.33 278.68Z" fill="#3a8e9e"/>
<path d="M659.81 281.74L661.79 277.98L657.83 277.98Z" fill="#3a8e9e"/>
<path d="M657.65 271.44L659.63 267.67L655.67 267.67Z" fill="#3a8e9e"/>
<path d="M661.31 279.91L663.29 276.15L659.33 276.15Z" fill="#3a8e9e"/>
<path d="M655.52 269.59L657.50 265.82L653.54 265.82Z" fill="#3a8e9e"/>
<path d="M665.74 276.07L667.72 272.31L663.76 272.31Z" fill="#3a8e9e"/>
<path d="M651.62 279.89L653.60 276.13L649.64 276.13Z" fill="#3a8e9e"/>
<path d="M658.62 275.74L660.60 271.98L656.64 271.98Z" fill="#3a8e9e"/>
<path d="M661.32 272.89L663.30 269.12L659.34 269.12Z" fill="#3a8e9e"/>
<path d="M663.05 268.94L665.03 265.18L661.07 265.18Z" fill="#3a8e9e"/>
<path d="M661.28 281.22L663.26 277.46L659.30 277.46Z" fill="#3a8e9e"/>
<path d="M660.99 278.97L662.97 275.21L659.01 275.21Z" fill="#3a8e9e"/>
<path d="M661.13 289.37L663.11 285.61L659.15 285.61Z" fill="#3a8e9e"/>
<path d="M662.11 262.08L664.09 258.32L660.13 258.32Z" fill="#3a8e9e"/>
<path d="M656.32 263.48L658.30 259.72L654.34 259.72Z" fill="#3a8e9e"/>
<path d="M660.74 278.47L662.72 274.71L658.76 274.71Z" fill="#3a8e9e"/>
<path d="M663.61 281.23L665.59 277.47L661.63 277.47Z" fill="#3a8e9e"/>
<path d="M662.16 288.20L664.14 284.43L660.18 284.43Z" fill="#3a8e9e"/>
<line x1="648.90" y1="274.65" x2="666.90" y2="274.65" stroke="#3a8e9e" stroke-width="1"/>
<line x1="652.90" y1="265.46" x2="662.90" y2="265.46" stroke="#3a8e9e" stroke-width="1"/>
<line x1="652.90" y1="283.85" x2="662.90" y2="283.85" stroke="#3a8e9e" stroke-width="1"/>
<line x1="657.90" y1="283.85" x2="657.90" y2="265.46" stroke="#3a8e9e" stroke-width="1"/>
<line x1="580.80" y1="258.50" x2="630.20" y2="258.50" stroke="#000" stroke-width="1"/>
<text x="605.50" y="261.10" font-size="12" text-anchor="middle" fill="#000" stroke="#000" stroke-width="0.14" letter-spacing="-0.4">****</text>
<line x1="629.20" y1="246.80" x2="659.80" y2="246.80" stroke="#000" stroke-width="1"/>
<text x="644.50" y="249.40" font-size="12" text-anchor="middle" fill="#000" stroke="#000" stroke-width="0.14" letter-spacing="-0.4">*</text>
<text x="13.80" y="423.40" font-size="12.5" text-anchor="start" font-weight="bold" fill="#000" stroke="#000" stroke-width="0.14">f</text>
<text x="84.20" y="421.40" font-size="10.4" text-anchor="middle" fill="#000" stroke="#000" stroke-width="0.14">Sham</text>
<text x="203.40" y="421.40" font-size="10.4" text-anchor="middle" fill="#000" stroke="#000" stroke-width="0.14">MI</text>
<text x="27.20" y="464.50" font-size="10.4" text-anchor="middle" fill="#000" stroke="#000" stroke-width="0.14" transform="rotate(-90 27.2 464.5)">AAV-NC</text>
<text x="27.20" y="566.20" font-size="10.4" text-anchor="middle" fill="#000" stroke="#000" stroke-width="0.14" transform="rotate(-90 27.2 566.2)">AAV-<tspan font-style="italic">Klf7</tspan></text>
<g clip-path="url(#tcl00)">
<rect x="28.50" y="424.20" width="119.30" height="90.40" fill="#a0a0a0" stroke="none" stroke-width="1"/>
<rect x="28.5" y="424.2" width="119.3" height="90.4" fill="#fff" filter="url(#nf3)" opacity="0.5"/>
<rect x="32.0" y="434.2" width="3.4" height="80.4" fill="#686868" opacity="0.55" filter="url(#bl1t)"/>
<rect x="36.6" y="424.2" width="2.2" height="90.4" fill="#bcbcbc" opacity="0.45" filter="url(#bl1t)"/>
<rect x="41.7" y="434.2" width="3.4" height="80.4" fill="#686868" opacity="0.55" filter="url(#bl1t)"/>
<rect x="46.3" y="424.2" width="2.2" height="90.4" fill="#bcbcbc" opacity="0.45" filter="url(#bl1t)"/>
<rect x="51.4" y="434.2" width="3.4" height="80.4" fill="#686868" opacity="0.55" filter="url(#bl1t)"/>
<rect x="56.0" y="424.2" width="2.2" height="90.4" fill="#bcbcbc" opacity="0.45" filter="url(#bl1t)"/>
<rect x="61.1" y="434.2" width="3.4" height="80.4" fill="#686868" opacity="0.55" filter="url(#bl1t)"/>
<rect x="65.7" y="424.2" width="2.2" height="90.4" fill="#bcbcbc" opacity="0.45" filter="url(#bl1t)"/>
<rect x="70.8" y="434.2" width="3.4" height="80.4" fill="#686868" opacity="0.55" filter="url(#bl1t)"/>
<rect x="75.4" y="424.2" width="2.2" height="90.4" fill="#bcbcbc" opacity="0.45" filter="url(#bl1t)"/>
<rect x="80.5" y="434.2" width="3.4" height="80.4" fill="#686868" opacity="0.55" filter="url(#bl1t)"/>
<rect x="85.1" y="424.2" width="2.2" height="90.4" fill="#bcbcbc" opacity="0.45" filter="url(#bl1t)"/>
<rect x="90.2" y="434.2" width="3.4" height="80.4" fill="#686868" opacity="0.55" filter="url(#bl1t)"/>
<rect x="94.8" y="424.2" width="2.2" height="90.4" fill="#bcbcbc" opacity="0.45" filter="url(#bl1t)"/>
<rect x="99.9" y="434.2" width="3.4" height="80.4" fill="#686868" opacity="0.55" filter="url(#bl1t)"/>
<rect x="104.5" y="424.2" width="2.2" height="90.4" fill="#bcbcbc" opacity="0.45" filter="url(#bl1t)"/>
<rect x="109.6" y="434.2" width="3.4" height="80.4" fill="#686868" opacity="0.55" filter="url(#bl1t)"/>
<rect x="114.2" y="424.2" width="2.2" height="90.4" fill="#bcbcbc" opacity="0.45" filter="url(#bl1t)"/>
<rect x="119.3" y="434.2" width="3.4" height="80.4" fill="#686868" opacity="0.55" filter="url(#bl1t)"/>
<rect x="123.9" y="424.2" width="2.2" height="90.4" fill="#bcbcbc" opacity="0.45" filter="url(#bl1t)"/>
<rect x="129.0" y="434.2" width="3.4" height="80.4" fill="#686868" opacity="0.55" filter="url(#bl1t)"/>
<rect x="133.6" y="424.2" width="2.2" height="90.4" fill="#bcbcbc" opacity="0.45" filter="url(#bl1t)"/>
<rect x="138.7" y="434.2" width="3.4" height="80.4" fill="#686868" opacity="0.55" filter="url(#bl1t)"/>
<rect x="143.3" y="424.2" width="2.2" height="90.4" fill="#bcbcbc" opacity="0.45" filter="url(#bl1t)"/>
<g filter="url(#wob)">
<ellipse cx="33.8" cy="433.2" rx="5.1" ry="5.7" transform="rotate(159 33.8 433.2)" fill="#939393" fill-opacity="0.6" stroke="#555" stroke-width="0.7" stroke-opacity="0.6"/>
<ellipse cx="45.5" cy="431.5" rx="6.2" ry="5.5" transform="rotate(106 45.5 431.5)" fill="#939393" fill-opacity="0.6" stroke="#555" stroke-width="0.7" stroke-opacity="0.6"/>
<ellipse cx="55.5" cy="432.0" rx="4.6" ry="5.0" transform="rotate(144 55.5 432.0)" fill="#939393" fill-opacity="0.6" stroke="#555" stroke-width="0.7" stroke-opacity="0.6"/>
<ellipse cx="66.3" cy="433.1" rx="5.3" ry="4.8" transform="rotate(99 66.3 433.1)" fill="#939393" fill-opacity="0.6" stroke="#555" stroke-width="0.7" stroke-opacity="0.6"/>
<ellipse cx="75.7" cy="430.8" rx="5.9" ry="5.8" transform="rotate(67 75.7 430.8)" fill="#939393" fill-opacity="0.6" stroke="#555" stroke-width="0.7" stroke-opacity="0.6"/>
<ellipse cx="87.7" cy="432.0" rx="5.4" ry="5.5" transform="rotate(140 87.7 432.0)" fill="#939393" fill-opacity="0.6" stroke="#555" stroke-width="0.7" stroke-opacity="0.6"/>
<ellipse cx="98.0" cy="430.7" rx="5.5" ry="5.3" transform="rotate(88 98.0 430.7)" fill="#939393" fill-opacity="0.6" stroke="#555" stroke-width="0.7" stroke-opacity="0.6"/>
<ellipse cx="107.9" cy="432.9" rx="4.6" ry="4.6" transform="rotate(127 107.9 432.9)" fill="#939393" fill-opacity="0.6" stroke="#555" stroke-width="0.7" stroke-opacity="0.6"/>
<ellipse cx="118.0" cy="433.5" rx="6.5" ry="5.7" transform="rotate(71 118.0 433.5)" fill="#939393" fill-opacity="0.6" stroke="#555" stroke-width="0.7" stroke-opacity="0.6"/>
<ellipse cx="129.8" cy="430.8" rx="4.8" ry="5.5" transform="rotate(177 129.8 430.8)" fill="#939393" fill-opacity="0.6" stroke="#555" stroke-width="0.7" stroke-opacity="0.6"/>
<ellipse cx="138.6" cy="432.3" rx="6.0" ry="5.6" transform="rotate(155 138.6 432.3)" fill="#939393" fill-opacity="0.6" stroke="#555" stroke-width="0.7" stroke-opacity="0.6"/>
<ellipse cx="34.4" cy="500.1" rx="5.0" ry="5.5" transform="rotate(171 34.4 500.1)" fill="#939393" fill-opacity="0.6" stroke="#555" stroke-width="0.7" stroke-opacity="0.6"/>
<ellipse cx="43.4" cy="500.3" rx="5.7" ry="5.4" transform="rotate(48 43.4 500.3)" fill="#939393" fill-opacity="0.6" stroke="#555" stroke-width="0.7" stroke-opacity="0.6"/>
<ellipse cx="53.6" cy="499.5" rx="5.6" ry="6.4" transform="rotate(1 53.6 499.5)" fill="#939393" fill-opacity="0.6" stroke="#555" stroke-width="0.7" stroke-opacity="0.6"/>
<ellipse cx="64.9" cy="500.6" rx="6.1" ry="6.1" transform="rotate(160 64.9 500.6)" fill="#939393" fill-opacity="0.6" stroke="#555" stroke-width="0.7" stroke-opacity="0.6"/>
<ellipse cx="75.0" cy="499.5" rx="6.0" ry="6.1" transform="rotate(93 75.0 499.5)" fill="#939393" fill-opacity="0.6" stroke="#555" stroke-width="0.7" stroke-opacity="0.6"/>
<ellipse cx="85.4" cy="500.4" rx="5.6" ry="5.4" transform="rotate(10 85.4 500.4)" fill="#939393" fill-opacity="0.6" stroke="#555" stroke-width="0.7" stroke-opacity="0.6"/>
<ellipse cx="96.1" cy="498.7" rx="6.2" ry="5.6" transform="rotate(36 96.1 498.7)" fill="#939393" fill-opacity="0.6" stroke="#555" stroke-width="0.7" stroke-opacity="0.6"/>
<ellipse cx="107.7" cy="500.8" rx="5.5" ry="5.5" transform="rotate(64 107.7 500.8)" fill="#939393" fill-opacity="0.6" stroke="#555" stroke-width="0.7" stroke-opacity="0.6"/>
<ellipse cx="117.8" cy="499.3" rx="5.2" ry="5.6" transform="rotate(112 117.8 499.3)" fill="#939393" fill-opacity="0.6" stroke="#555" stroke-width="0.7" stroke-opacity="0.6"/>
<ellipse cx="129.0" cy="502.0" rx="5.7" ry="5.4" transform="rotate(5 129.0 502.0)" fill="#939393" fill-opacity="0.6" stroke="#555" stroke-width="0.7" stroke-opacity="0.6"/>
<ellipse cx="137.7" cy="499.9" rx="5.0" ry="4.9" transform="rotate(105 137.7 499.9)" fill="#939393" fill-opacity="0.6" stroke="#555" stroke-width="0.7" stroke-opacity="0.6"/>
<ellipse cx="36.9" cy="477.0" rx="6.2" ry="6.1" transform="rotate(143 36.9 477.0)" fill="#939393" fill-opacity="0.6" stroke="#555" stroke-width="0.7" stroke-opacity="0.6"/>
<ellipse cx="48.4" cy="475.9" rx="6.1" ry="5.0" transform="rotate(152 48.4 475.9)" fill="#939393" fill-opacity="0.6" stroke="#555" stroke-width="0.7" stroke-opacity="0.6"/>
<ellipse cx="59.2" cy="476.9" rx="5.8" ry="4.7" transform="rotate(3 59.2 476.9)" fill="#939393" fill-opacity="0.6" stroke="#555" stroke-width="0.7" stroke-opacity="0.6"/>
</g>
<rect x="28.5" y="424.2" width="119.3" height="90.4" fill="#fff" filter="url(#nf1)" opacity="0.22"/>
<rect x="28.5" y="424.2" width="119.3" height="90.4" fill="#fff" filter="url(#nf2)" opacity="0.16"/>
<circle cx="72" cy="471" r="1.5" fill="#eee"/>
<path d="M50.7 495.1 L54.1 496.5 L52.1 498.3Z M52.5 496.9 L55.1 499.9" fill="#ff1a1a" stroke="#ff1a1a" stroke-width="1.1"/>
</g>
<rect x="28.50" y="424.20" width="119.30" height="90.40" fill="none" stroke="#3a3a3a" stroke-width="0.9"/>
<g clip-path="url(#tcl10)">
<rect x="149.30" y="424.20" width="118.50" height="90.40" fill="#8a8a8a" stroke="none" stroke-width="1"/>
<rect x="149.3" y="424.2" width="118.5" height="90.4" fill="#fff" filter="url(#nf3)" opacity="0.5"/>
<g filter="url(#wob)">
<ellipse cx="264.4" cy="511.7" rx="7.2" ry="7.3" transform="rotate(113 264.4 511.7)" fill="#747474" fill-opacity="0.55" stroke="#444" stroke-width="0.8" stroke-opacity="0.6"/>
<ellipse cx="154.2" cy="430.2" rx="7.5" ry="7.4" transform="rotate(86 154.2 430.2)" fill="#747474" fill-opacity="0.55" stroke="#444" stroke-width="0.8" stroke-opacity="0.6"/>
<ellipse cx="249.6" cy="491.7" rx="6.1" ry="7.5" transform="rotate(148 249.6 491.7)" fill="#747474" fill-opacity="0.55" stroke="#444" stroke-width="0.8" stroke-opacity="0.6"/>
<ellipse cx="229.3" cy="451.3" rx="7.7" ry="7.2" transform="rotate(7 229.3 451.3)" fill="#747474" fill-opacity="0.55" stroke="#444" stroke-width="0.8" stroke-opacity="0.6"/>
<ellipse cx="221.5" cy="479.5" rx="6.4" ry="6.2" transform="rotate(114 221.5 479.5)" fill="#747474" fill-opacity="0.55" stroke="#444" stroke-width="0.8" stroke-opacity="0.6"/>
<ellipse cx="218.5" cy="437.2" rx="7.1" ry="6.4" transform="rotate(172 218.5 437.2)" fill="#747474" fill-opacity="0.55" stroke="#444" stroke-width="0.8" stroke-opacity="0.6"/>
<ellipse cx="200.1" cy="459.3" rx="8.0" ry="7.8" transform="rotate(83 200.1 459.3)" fill="#747474" fill-opacity="0.55" stroke="#444" stroke-width="0.8" stroke-opacity="0.6"/>
<ellipse cx="235.9" cy="516.1" rx="6.6" ry="6.4" transform="rotate(148 235.9 516.1)" fill="#747474" fill-opacity="0.55" stroke="#444" stroke-width="0.8" stroke-opacity="0.6"/>
<ellipse cx="263.6" cy="473.6" rx="7.4" ry="6.6" transform="rotate(162 263.6 473.6)" fill="#747474" fill-opacity="0.55" stroke="#444" stroke-width="0.8" stroke-opacity="0.6"/>
<ellipse cx="201.8" cy="447.5" rx="7.1" ry="6.8" transform="rotate(75 201.8 447.5)" fill="#747474" fill-opacity="0.55" stroke="#444" stroke-width="0.8" stroke-opacity="0.6"/>
<ellipse cx="193.9" cy="506.4" rx="7.4" ry="6.9" transform="rotate(119 193.9 506.4)" fill="#747474" fill-opacity="0.55" stroke="#444" stroke-width="0.8" stroke-opacity="0.6"/>
<ellipse cx="211.7" cy="475.1" rx="6.2" ry="7.4" transform="rotate(49 211.7 475.1)" fill="#747474" fill-opacity="0.55" stroke="#444" stroke-width="0.8" stroke-opacity="0.6"/>
<ellipse cx="176.2" cy="424.5" rx="7.8" ry="6.4" transform="rotate(60 176.2 424.5)" fill="#747474" fill-opacity="0.55" stroke="#444" stroke-width="0.8" stroke-opacity="0.6"/>
<ellipse cx="187.1" cy="435.1" rx="7.1" ry="6.8" transform="rotate(95 187.1 435.1)" fill="#747474" fill-opacity="0.55" stroke="#444" stroke-width="0.8" stroke-opacity="0.6"/>
<ellipse cx="209.8" cy="516.5" rx="7.8" ry="6.4" transform="rotate(139 209.8 516.5)" fill="#747474" fill-opacity="0.55" stroke="#444" stroke-width="0.8" stroke-opacity="0.6"/>
<ellipse cx="229.9" cy="439.4" rx="7.4" ry="7.6" transform="rotate(81 229.9 439.4)" fill="#747474" fill-opacity="0.55" stroke="#444" stroke-width="0.8" stroke-opacity="0.6"/>
<ellipse cx="265.1" cy="437.4" rx="6.9" ry="6.7" transform="rotate(85 265.1 437.4)" fill="#747474" fill-opacity="0.55" stroke="#444" stroke-width="0.8" stroke-opacity="0.6"/>
<ellipse cx="208.7" cy="500.7" rx="6.5" ry="6.4" transform="rotate(86 208.7 500.7)" fill="#747474" fill-opacity="0.55" stroke="#444" stroke-width="0.8" stroke-opacity="0.6"/>
<ellipse cx="236.0" cy="468.1" rx="6.4" ry="6.9" transform="rotate(103 236.0 468.1)" fill="#747474" fill-opacity="0.55" stroke="#444" stroke-width="0.8" stroke-opacity="0.6"/>
<ellipse cx="174.5" cy="452.8" rx="6.6" ry="6.3" transform="rotate(109 174.5 452.8)" fill="#747474" fill-opacity="0.55" stroke="#444" stroke-width="0.8" stroke-opacity="0.6"/>
<ellipse cx="258.5" cy="447.5" rx="7.7" ry="6.4" transform="rotate(111 258.5 447.5)" fill="#747474" fill-opacity="0.55" stroke="#444" stroke-width="0.8" stroke-opacity="0.6"/>
<ellipse cx="264.6" cy="488.9" rx="7.3" ry="7.8" transform="rotate(123 264.6 488.9)" fill="#747474" fill-opacity="0.55" stroke="#444" stroke-width="0.8" stroke-opacity="0.6"/>
<ellipse cx="238.5" cy="427.7" rx="6.6" ry="6.4" transform="rotate(151 238.5 427.7)" fill="#747474" fill-opacity="0.55" stroke="#444" stroke-width="0.8" stroke-opacity="0.6"/>
<ellipse cx="175.1" cy="504.8" rx="6.6" ry="6.0" transform="rotate(157 175.1 504.8)" fill="#747474" fill-opacity="0.55" stroke="#444" stroke-width="0.8" stroke-opacity="0.6"/>
<ellipse cx="160.3" cy="471.5" rx="6.4" ry="6.6" transform="rotate(57 160.3 471.5)" fill="#747474" fill-opacity="0.55" stroke="#444" stroke-width="0.8" stroke-opacity="0.6"/>
<ellipse cx="199.1" cy="489.9" rx="6.5" ry="7.4" transform="rotate(62 199.1 489.9)" fill="#747474" fill-opacity="0.55" stroke="#444" stroke-width="0.8" stroke-opacity="0.6"/>
<ellipse cx="151.2" cy="456.4" rx="6.9" ry="6.8" transform="rotate(150 151.2 456.4)" fill="#747474" fill-opacity="0.55" stroke="#444" stroke-width="0.8" stroke-opacity="0.6"/>
<ellipse cx="168.4" cy="485.7" rx="6.0" ry="7.2" transform="rotate(24 168.4 485.7)" fill="#747474" fill-opacity="0.55" stroke="#444" stroke-width="0.8" stroke-opacity="0.6"/>
<ellipse cx="157.5" cy="512.3" rx="6.3" ry="7.2" transform="rotate(68 157.5 512.3)" fill="#747474" fill-opacity="0.55" stroke="#444" stroke-width="0.8" stroke-opacity="0.6"/>
<ellipse cx="150.4" cy="491.1" rx="6.1" ry="7.2" transform="rotate(165 150.4 491.1)" fill="#747474" fill-opacity="0.55" stroke="#444" stroke-width="0.8" stroke-opacity="0.6"/>
<ellipse cx="246.9" cy="437.0" rx="7.3" ry="7.0" transform="rotate(144 246.9 437.0)" fill="#747474" fill-opacity="0.55" stroke="#444" stroke-width="0.8" stroke-opacity="0.6"/>
<ellipse cx="194.5" cy="426.3" rx="7.8" ry="6.3" transform="rotate(54 194.5 426.3)" fill="#747474" fill-opacity="0.55" stroke="#444" stroke-width="0.8" stroke-opacity="0.6"/>
<ellipse cx="222.7" cy="492.3" rx="7.9" ry="7.9" transform="rotate(37 222.7 492.3)" fill="#747474" fill-opacity="0.55" stroke="#444" stroke-width="0.8" stroke-opacity="0.6"/>
<ellipse cx="219.0" cy="459.3" rx="7.4" ry="7.7" transform="rotate(106 219.0 459.3)" fill="#747474" fill-opacity="0.55" stroke="#444" stroke-width="0.8" stroke-opacity="0.6"/>
<ellipse cx="149.5" cy="474.9" rx="7.4" ry="7.0" transform="rotate(42 149.5 474.9)" fill="#747474" fill-opacity="0.55" stroke="#444" stroke-width="0.8" stroke-opacity="0.6"/>
<ellipse cx="164.5" cy="427.6" rx="6.4" ry="6.1" transform="rotate(120 164.5 427.6)" fill="#747474" fill-opacity="0.55" stroke="#444" stroke-width="0.8" stroke-opacity="0.6"/>
<ellipse cx="175.8" cy="464.2" rx="6.3" ry="7.2" transform="rotate(70 175.8 464.2)" fill="#747474" fill-opacity="0.55" stroke="#444" stroke-width="0.8" stroke-opacity="0.6"/>
<ellipse cx="178.0" cy="478.0" rx="6.9" ry="7.9" transform="rotate(71 178.0 478.0)" fill="#747474" fill-opacity="0.55" stroke="#444" stroke-width="0.8" stroke-opacity="0.6"/>
<ellipse cx="199.1" cy="471.9" rx="6.9" ry="6.8" transform="rotate(39 199.1 471.9)" fill="#747474" fill-opacity="0.55" stroke="#444" stroke-width="0.8" stroke-opacity="0.6"/>
<ellipse cx="159.5" cy="439.4" rx="6.4" ry="7.1" transform="rotate(147 159.5 439.4)" fill="#747474" fill-opacity="0.55" stroke="#444" stroke-width="0.8" stroke-opacity="0.6"/>
<ellipse cx="245.6" cy="456.8" rx="6.2" ry="7.9" transform="rotate(121 245.6 456.8)" fill="#747474" fill-opacity="0.55" stroke="#444" stroke-width="0.8" stroke-opacity="0.6"/>
<ellipse cx="267.8" cy="457.3" rx="6.1" ry="7.4" transform="rotate(72 267.8 457.3)" fill="#747474" fill-opacity="0.55" stroke="#444" stroke-width="0.8" stroke-opacity="0.6"/>
<ellipse cx="225.8" cy="512.8" rx="7.0" ry="6.2" transform="rotate(92 225.8 512.8)" fill="#747474" fill-opacity="0.55" stroke="#444" stroke-width="0.8" stroke-opacity="0.6"/>
<ellipse cx="261.5" cy="501.1" rx="7.0" ry="7.6" transform="rotate(105 261.5 501.1)" fill="#747474" fill-opacity="0.55" stroke="#444" stroke-width="0.8" stroke-opacity="0.6"/>
<ellipse cx="165.2" cy="461.5" rx="7.4" ry="7.5" transform="rotate(40 165.2 461.5)" fill="#747474" fill-opacity="0.55" stroke="#444" stroke-width="0.8" stroke-opacity="0.6"/>
<ellipse cx="238.6" cy="484.4" rx="6.0" ry="7.0" transform="rotate(23 238.6 484.4)" fill="#747474" fill-opacity="0.55" stroke="#444" stroke-width="0.8" stroke-opacity="0.6"/>
<ellipse cx="240.6" cy="502.6" rx="6.3" ry="6.6" transform="rotate(97 240.6 502.6)" fill="#747474" fill-opacity="0.55" stroke="#444" stroke-width="0.8" stroke-opacity="0.6"/>
<ellipse cx="159.6" cy="499.2" rx="7.2" ry="7.3" transform="rotate(170 159.6 499.2)" fill="#747474" fill-opacity="0.55" stroke="#444" stroke-width="0.8" stroke-opacity="0.6"/>
<ellipse cx="188.3" cy="447.4" rx="6.2" ry="7.1" transform="rotate(16 188.3 447.4)" fill="#747474" fill-opacity="0.55" stroke="#444" stroke-width="0.8" stroke-opacity="0.6"/>
<ellipse cx="208.9" cy="424.8" rx="7.3" ry="6.9" transform="rotate(25 208.9 424.8)" fill="#747474" fill-opacity="0.55" stroke="#444" stroke-width="0.8" stroke-opacity="0.6"/>
<ellipse cx="253.8" cy="510.5" rx="6.6" ry="7.3" transform="rotate(85 253.8 510.5)" fill="#747474" fill-opacity="0.55" stroke="#444" stroke-width="0.8" stroke-opacity="0.6"/>
<ellipse cx="188.7" cy="494.7" rx="7.9" ry="6.7" transform="rotate(61 188.7 494.7)" fill="#747474" fill-opacity="0.55" stroke="#444" stroke-width="0.8" stroke-opacity="0.6"/>
<ellipse cx="248.0" cy="471.6" rx="7.8" ry="7.2" transform="rotate(19 248.0 471.6)" fill="#747474" fill-opacity="0.55" stroke="#444" stroke-width="0.8" stroke-opacity="0.6"/>
<ellipse cx="172.0" cy="440.5" rx="7.6" ry="6.7" transform="rotate(171 172.0 440.5)" fill="#747474" fill-opacity="0.55" stroke="#444" stroke-width="0.8" stroke-opacity="0.6"/>
</g>
<rect x="149.3" y="424.2" width="118.5" height="90.4" fill="#fff" filter="url(#nf1)" opacity="0.22"/>
<rect x="149.3" y="424.2" width="118.5" height="90.4" fill="#fff" filter="url(#nf2)" opacity="0.16"/>
<path d="M149 497 C155 499 160 503 162.5 508 L164.5 515 L149 515Z" fill="#6c6c6c"/>
<path d="M149 494.5 C156 496.5 161.5 501 164 507 L166 515" fill="none" stroke="#ececec" stroke-width="2.6" filter="url(#bl1t)"/>
<path d="M168 503 L178 509 L186 515" fill="none" stroke="#d8d8d8" stroke-width="1.4" filter="url(#bl1t)"/>
<rect x="237" y="492.5" width="3" height="3" fill="#f4f4f4"/>
<circle cx="204" cy="505" r="1.8" fill="#ececec"/>
<circle cx="178" cy="428" r="1.3" fill="#111"/>
<circle cx="242" cy="471" r="3" fill="#a8a8a8"/>
<path d="M169.8 429.5 L173.2 430.9 L171.2 432.7Z M171.6 431.3 L174.2 434.3" fill="#ff1a1a" stroke="#ff1a1a" stroke-width="1.1"/>
<path d="M214.5 437.6 L217.9 439.0 L215.9 440.8Z M216.3 439.4 L218.9 442.4" fill="#ff1a1a" stroke="#ff1a1a" stroke-width="1.1"/>
<path d="M244.7 450.4 L248.1 451.8 L246.1 453.6Z M246.5 452.2 L249.1 455.2" fill="#ff1a1a" stroke="#ff1a1a" stroke-width="1.1"/>
<path d="M263.8 451.4 L267.2 452.8 L265.2 454.6Z M265.6 453.2 L268.2 456.2" fill="#ff1a1a" stroke="#ff1a1a" stroke-width="1.1"/>
<path d="M236.4 461.4 L239.8 462.8 L237.8 464.6Z M238.2 463.2 L240.8 466.2" fill="#ff1a1a" stroke="#ff1a1a" stroke-width="1.1"/>
<path d="M162.5 476.0 L165.9 477.4 L163.9 479.2Z M164.3 477.8 L166.9 480.8" fill="#ff1a1a" stroke="#ff1a1a" stroke-width="1.1"/>
<path d="M234.6 473.3 L238.0 474.7 L236.0 476.5Z M236.4 475.1 L239.0 478.1" fill="#ff1a1a" stroke="#ff1a1a" stroke-width="1.1"/>
</g>
<rect x="149.30" y="424.20" width="118.50" height="90.40" fill="none" stroke="#3a3a3a" stroke-width="0.9"/>
<g clip-path="url(#tcl01)">
<rect x="28.50" y="516.00" width="119.30" height="91.00" fill="#8c8c8c" stroke="none" stroke-width="1"/>
<rect x="28.5" y="516.0" width="119.3" height="91.0" fill="#fff" filter="url(#nf3)" opacity="0.5"/>
<g filter="url(#wob)">
<ellipse cx="55.8" cy="565.7" rx="8.2" ry="7.4" transform="rotate(2 55.8 565.7)" fill="#767676" fill-opacity="0.5" stroke="#2e2e2e" stroke-width="0.9" stroke-opacity="0.6"/>
<ellipse cx="72.1" cy="571.4" rx="7.9" ry="6.4" transform="rotate(54 72.1 571.4)" fill="#767676" fill-opacity="0.5" stroke="#2e2e2e" stroke-width="0.9" stroke-opacity="0.6"/>
<ellipse cx="103.7" cy="520.2" rx="7.7" ry="7.3" transform="rotate(74 103.7 520.2)" fill="#767676" fill-opacity="0.5" stroke="#2e2e2e" stroke-width="0.9" stroke-opacity="0.6"/>
<ellipse cx="28.1" cy="593.6" rx="8.3" ry="7.5" transform="rotate(61 28.1 593.6)" fill="#767676" fill-opacity="0.5" stroke="#2e2e2e" stroke-width="0.9" stroke-opacity="0.6"/>
<ellipse cx="58.5" cy="536.3" rx="6.6" ry="8.2" transform="rotate(86 58.5 536.3)" fill="#767676" fill-opacity="0.5" stroke="#2e2e2e" stroke-width="0.9" stroke-opacity="0.6"/>
<ellipse cx="149.3" cy="558.7" rx="8.0" ry="6.9" transform="rotate(36 149.3 558.7)" fill="#767676" fill-opacity="0.5" stroke="#2e2e2e" stroke-width="0.9" stroke-opacity="0.6"/>
<ellipse cx="129.6" cy="559.3" rx="7.3" ry="8.0" transform="rotate(31 129.6 559.3)" fill="#767676" fill-opacity="0.5" stroke="#2e2e2e" stroke-width="0.9" stroke-opacity="0.6"/>
<ellipse cx="104.8" cy="596.5" rx="8.0" ry="8.3" transform="rotate(145 104.8 596.5)" fill="#767676" fill-opacity="0.5" stroke="#2e2e2e" stroke-width="0.9" stroke-opacity="0.6"/>
<ellipse cx="91.0" cy="584.4" rx="8.1" ry="6.0" transform="rotate(113 91.0 584.4)" fill="#767676" fill-opacity="0.5" stroke="#2e2e2e" stroke-width="0.9" stroke-opacity="0.6"/>
<ellipse cx="120.0" cy="570.2" rx="8.2" ry="6.1" transform="rotate(49 120.0 570.2)" fill="#767676" fill-opacity="0.5" stroke="#2e2e2e" stroke-width="0.9" stroke-opacity="0.6"/>
<ellipse cx="63.6" cy="516.9" rx="6.7" ry="7.3" transform="rotate(76 63.6 516.9)" fill="#767676" fill-opacity="0.5" stroke="#2e2e2e" stroke-width="0.9" stroke-opacity="0.6"/>
<ellipse cx="75.2" cy="590.1" rx="7.2" ry="7.9" transform="rotate(0 75.2 590.1)" fill="#767676" fill-opacity="0.5" stroke="#2e2e2e" stroke-width="0.9" stroke-opacity="0.6"/>
<ellipse cx="81.3" cy="602.9" rx="6.1" ry="6.3" transform="rotate(22 81.3 602.9)" fill="#767676" fill-opacity="0.5" stroke="#2e2e2e" stroke-width="0.9" stroke-opacity="0.6"/>
<ellipse cx="134.9" cy="523.3" rx="6.2" ry="8.4" transform="rotate(154 134.9 523.3)" fill="#767676" fill-opacity="0.5" stroke="#2e2e2e" stroke-width="0.9" stroke-opacity="0.6"/>
<ellipse cx="43.3" cy="534.6" rx="6.2" ry="7.3" transform="rotate(57 43.3 534.6)" fill="#767676" fill-opacity="0.5" stroke="#2e2e2e" stroke-width="0.9" stroke-opacity="0.6"/>
<ellipse cx="103.8" cy="542.6" rx="6.8" ry="6.9" transform="rotate(116 103.8 542.6)" fill="#767676" fill-opacity="0.5" stroke="#2e2e2e" stroke-width="0.9" stroke-opacity="0.6"/>
<ellipse cx="89.0" cy="550.7" rx="7.5" ry="6.9" transform="rotate(34 89.0 550.7)" fill="#767676" fill-opacity="0.5" stroke="#2e2e2e" stroke-width="0.9" stroke-opacity="0.6"/>
<ellipse cx="132.1" cy="608.1" rx="6.8" ry="6.3" transform="rotate(100 132.1 608.1)" fill="#767676" fill-opacity="0.5" stroke="#2e2e2e" stroke-width="0.9" stroke-opacity="0.6"/>
<ellipse cx="138.0" cy="568.1" rx="7.8" ry="7.0" transform="rotate(14 138.0 568.1)" fill="#767676" fill-opacity="0.5" stroke="#2e2e2e" stroke-width="0.9" stroke-opacity="0.6"/>
<ellipse cx="114.5" cy="534.1" rx="6.4" ry="6.9" transform="rotate(109 114.5 534.1)" fill="#767676" fill-opacity="0.5" stroke="#2e2e2e" stroke-width="0.9" stroke-opacity="0.6"/>
<ellipse cx="77.1" cy="528.3" rx="8.0" ry="7.0" transform="rotate(144 77.1 528.3)" fill="#767676" fill-opacity="0.5" stroke="#2e2e2e" stroke-width="0.9" stroke-opacity="0.6"/>
<ellipse cx="62.7" cy="587.0" rx="7.6" ry="7.1" transform="rotate(67 62.7 587.0)" fill="#767676" fill-opacity="0.5" stroke="#2e2e2e" stroke-width="0.9" stroke-opacity="0.6"/>
<ellipse cx="50.8" cy="552.8" rx="7.2" ry="7.8" transform="rotate(76 50.8 552.8)" fill="#767676" fill-opacity="0.5" stroke="#2e2e2e" stroke-width="0.9" stroke-opacity="0.6"/>
<ellipse cx="65.2" cy="605.1" rx="7.7" ry="7.2" transform="rotate(44 65.2 605.1)" fill="#767676" fill-opacity="0.5" stroke="#2e2e2e" stroke-width="0.9" stroke-opacity="0.6"/>
<ellipse cx="137.1" cy="549.9" rx="7.3" ry="7.7" transform="rotate(13 137.1 549.9)" fill="#767676" fill-opacity="0.5" stroke="#2e2e2e" stroke-width="0.9" stroke-opacity="0.6"/>
<ellipse cx="83.3" cy="563.4" rx="7.1" ry="7.1" transform="rotate(158 83.3 563.4)" fill="#767676" fill-opacity="0.5" stroke="#2e2e2e" stroke-width="0.9" stroke-opacity="0.6"/>
<ellipse cx="105.9" cy="570.6" rx="8.3" ry="6.9" transform="rotate(162 105.9 570.6)" fill="#767676" fill-opacity="0.5" stroke="#2e2e2e" stroke-width="0.9" stroke-opacity="0.6"/>
<ellipse cx="29.0" cy="572.5" rx="8.0" ry="6.7" transform="rotate(84 29.0 572.5)" fill="#767676" fill-opacity="0.5" stroke="#2e2e2e" stroke-width="0.9" stroke-opacity="0.6"/>
<ellipse cx="103.9" cy="558.3" rx="6.3" ry="8.0" transform="rotate(119 103.9 558.3)" fill="#767676" fill-opacity="0.5" stroke="#2e2e2e" stroke-width="0.9" stroke-opacity="0.6"/>
<ellipse cx="113.7" cy="584.1" rx="8.2" ry="8.0" transform="rotate(120 113.7 584.1)" fill="#767676" fill-opacity="0.5" stroke="#2e2e2e" stroke-width="0.9" stroke-opacity="0.6"/>
<ellipse cx="29.2" cy="519.8" rx="7.8" ry="7.4" transform="rotate(19 29.2 519.8)" fill="#767676" fill-opacity="0.5" stroke="#2e2e2e" stroke-width="0.9" stroke-opacity="0.6"/>
<ellipse cx="71.4" cy="543.7" rx="7.5" ry="6.0" transform="rotate(26 71.4 543.7)" fill="#767676" fill-opacity="0.5" stroke="#2e2e2e" stroke-width="0.9" stroke-opacity="0.6"/>
<ellipse cx="121.7" cy="516.6" rx="7.9" ry="6.1" transform="rotate(17 121.7 516.6)" fill="#767676" fill-opacity="0.5" stroke="#2e2e2e" stroke-width="0.9" stroke-opacity="0.6"/>
<ellipse cx="54.2" cy="525.5" rx="6.2" ry="8.2" transform="rotate(32 54.2 525.5)" fill="#767676" fill-opacity="0.5" stroke="#2e2e2e" stroke-width="0.9" stroke-opacity="0.6"/>
<ellipse cx="91.8" cy="532.1" rx="6.1" ry="8.1" transform="rotate(22 91.8 532.1)" fill="#767676" fill-opacity="0.5" stroke="#2e2e2e" stroke-width="0.9" stroke-opacity="0.6"/>
<ellipse cx="126.0" cy="593.7" rx="8.1" ry="7.7" transform="rotate(151 126.0 593.7)" fill="#767676" fill-opacity="0.5" stroke="#2e2e2e" stroke-width="0.9" stroke-opacity="0.6"/>
<ellipse cx="125.9" cy="546.8" rx="8.4" ry="7.4" transform="rotate(144 125.9 546.8)" fill="#767676" fill-opacity="0.5" stroke="#2e2e2e" stroke-width="0.9" stroke-opacity="0.6"/>
<ellipse cx="140.8" cy="535.1" rx="6.1" ry="7.9" transform="rotate(92 140.8 535.1)" fill="#767676" fill-opacity="0.5" stroke="#2e2e2e" stroke-width="0.9" stroke-opacity="0.6"/>
<ellipse cx="137.9" cy="579.9" rx="7.8" ry="6.3" transform="rotate(135 137.9 579.9)" fill="#767676" fill-opacity="0.5" stroke="#2e2e2e" stroke-width="0.9" stroke-opacity="0.6"/>
<ellipse cx="140.4" cy="599.2" rx="8.3" ry="6.2" transform="rotate(58 140.4 599.2)" fill="#767676" fill-opacity="0.5" stroke="#2e2e2e" stroke-width="0.9" stroke-opacity="0.6"/>
</g>
<rect x="28.5" y="516.0" width="119.3" height="91.0" fill="#fff" filter="url(#nf1)" opacity="0.22"/>
<rect x="28.5" y="516.0" width="119.3" height="91.0" fill="#fff" filter="url(#nf2)" opacity="0.16"/>
<path d="M28 593 C42 597 55 602 68 607 L28 607Z" fill="#787878"/>
<path d="M28.5 590.5 C45 594 62 599 76 602.5 L92 606.5" fill="none" stroke="#ececec" stroke-width="3.6" filter="url(#bl1t)"/>
<path d="M28.5 579 L49 591" fill="none" stroke="#d8d8d8" stroke-width="1.5" filter="url(#bl1t)"/>
<rect x="55" y="597" width="4.5" height="5" fill="#e0e0e0" filter="url(#bl1t)"/>
<rect x="74" y="596" width="4" height="4" fill="#d8d8d8"/>
<rect x="113" y="593" width="4" height="4" fill="#c8c8c8"/>
<path d="M78.9 521.5 L82.3 522.9 L80.3 524.7Z M80.7 523.3 L83.3 526.3" fill="#ff1a1a" stroke="#ff1a1a" stroke-width="1.1"/>
<path d="M67.9 537.9 L71.3 539.3 L69.3 541.1Z M69.7 539.7 L72.3 542.7" fill="#ff1a1a" stroke="#ff1a1a" stroke-width="1.1"/>
<path d="M108.1 544.3 L111.5 545.7 L109.5 547.5Z M109.9 546.1 L112.5 549.1" fill="#ff1a1a" stroke="#ff1a1a" stroke-width="1.1"/>
<path d="M57.9 573.8 L61.3 575.2 L59.3 577.0Z M59.7 575.6 L62.3 578.6" fill="#ff1a1a" stroke="#ff1a1a" stroke-width="1.1"/>
<path d="M92.5 600.5 L95.9 601.9 L93.9 603.7Z M94.3 602.3 L96.9 605.3" fill="#ff1a1a" stroke="#ff1a1a" stroke-width="1.1"/>
</g>
<rect x="28.50" y="516.00" width="119.30" height="91.00" fill="none" stroke="#3a3a3a" stroke-width="0.9"/>
<g clip-path="url(#tcl11)">
<rect x="149.30" y="516.00" width="118.50" height="91.00" fill="#8c8c8c" stroke="none" stroke-width="1"/>
<rect x="149.3" y="516.0" width="118.5" height="91.0" fill="#fff" filter="url(#nf3)" opacity="0.5"/>
<g filter="url(#wob)">
<ellipse cx="176.2" cy="523.8" rx="8.0" ry="7.8" transform="rotate(109 176.2 523.8)" fill="#787878" fill-opacity="0.5" stroke="#444" stroke-width="0.8" stroke-opacity="0.6"/>
<ellipse cx="195.8" cy="528.7" rx="6.6" ry="6.2" transform="rotate(46 195.8 528.7)" fill="#787878" fill-opacity="0.5" stroke="#444" stroke-width="0.8" stroke-opacity="0.6"/>
<ellipse cx="155.4" cy="552.2" rx="6.4" ry="7.9" transform="rotate(161 155.4 552.2)" fill="#787878" fill-opacity="0.5" stroke="#444" stroke-width="0.8" stroke-opacity="0.6"/>
<ellipse cx="259.7" cy="590.0" rx="7.6" ry="6.3" transform="rotate(43 259.7 590.0)" fill="#787878" fill-opacity="0.5" stroke="#444" stroke-width="0.8" stroke-opacity="0.6"/>
<ellipse cx="241.0" cy="535.1" rx="6.6" ry="7.9" transform="rotate(29 241.0 535.1)" fill="#787878" fill-opacity="0.5" stroke="#444" stroke-width="0.8" stroke-opacity="0.6"/>
<ellipse cx="213.0" cy="540.3" rx="7.6" ry="7.4" transform="rotate(98 213.0 540.3)" fill="#787878" fill-opacity="0.5" stroke="#444" stroke-width="0.8" stroke-opacity="0.6"/>
<ellipse cx="173.6" cy="602.1" rx="7.9" ry="6.5" transform="rotate(94 173.6 602.1)" fill="#787878" fill-opacity="0.5" stroke="#444" stroke-width="0.8" stroke-opacity="0.6"/>
<ellipse cx="248.8" cy="590.6" rx="6.3" ry="6.2" transform="rotate(6 248.8 590.6)" fill="#787878" fill-opacity="0.5" stroke="#444" stroke-width="0.8" stroke-opacity="0.6"/>
<ellipse cx="185.3" cy="573.6" rx="6.6" ry="6.2" transform="rotate(11 185.3 573.6)" fill="#787878" fill-opacity="0.5" stroke="#444" stroke-width="0.8" stroke-opacity="0.6"/>
<ellipse cx="237.0" cy="595.2" rx="8.0" ry="6.6" transform="rotate(160 237.0 595.2)" fill="#787878" fill-opacity="0.5" stroke="#444" stroke-width="0.8" stroke-opacity="0.6"/>
<ellipse cx="255.1" cy="522.2" rx="7.4" ry="7.5" transform="rotate(118 255.1 522.2)" fill="#787878" fill-opacity="0.5" stroke="#444" stroke-width="0.8" stroke-opacity="0.6"/>
<ellipse cx="221.5" cy="577.8" rx="7.9" ry="7.8" transform="rotate(129 221.5 577.8)" fill="#787878" fill-opacity="0.5" stroke="#444" stroke-width="0.8" stroke-opacity="0.6"/>
<ellipse cx="205.3" cy="522.5" rx="7.1" ry="7.4" transform="rotate(130 205.3 522.5)" fill="#787878" fill-opacity="0.5" stroke="#444" stroke-width="0.8" stroke-opacity="0.6"/>
<ellipse cx="258.6" cy="568.4" rx="7.1" ry="7.0" transform="rotate(28 258.6 568.4)" fill="#787878" fill-opacity="0.5" stroke="#444" stroke-width="0.8" stroke-opacity="0.6"/>
<ellipse cx="209.6" cy="553.3" rx="7.7" ry="7.0" transform="rotate(12 209.6 553.3)" fill="#787878" fill-opacity="0.5" stroke="#444" stroke-width="0.8" stroke-opacity="0.6"/>
<ellipse cx="220.7" cy="554.9" rx="6.3" ry="7.7" transform="rotate(46 220.7 554.9)" fill="#787878" fill-opacity="0.5" stroke="#444" stroke-width="0.8" stroke-opacity="0.6"/>
<ellipse cx="167.1" cy="543.0" rx="6.8" ry="7.4" transform="rotate(155 167.1 543.0)" fill="#787878" fill-opacity="0.5" stroke="#444" stroke-width="0.8" stroke-opacity="0.6"/>
<ellipse cx="153.0" cy="573.5" rx="6.7" ry="6.8" transform="rotate(76 153.0 573.5)" fill="#787878" fill-opacity="0.5" stroke="#444" stroke-width="0.8" stroke-opacity="0.6"/>
<ellipse cx="269.5" cy="532.6" rx="6.1" ry="7.8" transform="rotate(3 269.5 532.6)" fill="#787878" fill-opacity="0.5" stroke="#444" stroke-width="0.8" stroke-opacity="0.6"/>
<ellipse cx="224.8" cy="540.2" rx="7.9" ry="6.3" transform="rotate(28 224.8 540.2)" fill="#787878" fill-opacity="0.5" stroke="#444" stroke-width="0.8" stroke-opacity="0.6"/>
<ellipse cx="190.9" cy="585.0" rx="7.7" ry="7.6" transform="rotate(42 190.9 585.0)" fill="#787878" fill-opacity="0.5" stroke="#444" stroke-width="0.8" stroke-opacity="0.6"/>
<ellipse cx="154.8" cy="535.7" rx="7.1" ry="7.0" transform="rotate(129 154.8 535.7)" fill="#787878" fill-opacity="0.5" stroke="#444" stroke-width="0.8" stroke-opacity="0.6"/>
<ellipse cx="241.0" cy="572.5" rx="6.4" ry="7.7" transform="rotate(179 241.0 572.5)" fill="#787878" fill-opacity="0.5" stroke="#444" stroke-width="0.8" stroke-opacity="0.6"/>
<ellipse cx="169.0" cy="557.6" rx="7.4" ry="7.8" transform="rotate(169 169.0 557.6)" fill="#787878" fill-opacity="0.5" stroke="#444" stroke-width="0.8" stroke-opacity="0.6"/>
<ellipse cx="257.1" cy="604.7" rx="6.8" ry="7.7" transform="rotate(150 257.1 604.7)" fill="#787878" fill-opacity="0.5" stroke="#444" stroke-width="0.8" stroke-opacity="0.6"/>
<ellipse cx="197.6" cy="603.6" rx="7.2" ry="6.2" transform="rotate(111 197.6 603.6)" fill="#787878" fill-opacity="0.5" stroke="#444" stroke-width="0.8" stroke-opacity="0.6"/>
<ellipse cx="223.3" cy="591.7" rx="7.8" ry="6.6" transform="rotate(116 223.3 591.7)" fill="#787878" fill-opacity="0.5" stroke="#444" stroke-width="0.8" stroke-opacity="0.6"/>
<ellipse cx="183.2" cy="532.2" rx="7.8" ry="7.2" transform="rotate(7 183.2 532.2)" fill="#787878" fill-opacity="0.5" stroke="#444" stroke-width="0.8" stroke-opacity="0.6"/>
<ellipse cx="187.9" cy="514.9" rx="7.3" ry="6.5" transform="rotate(154 187.9 514.9)" fill="#787878" fill-opacity="0.5" stroke="#444" stroke-width="0.8" stroke-opacity="0.6"/>
<ellipse cx="243.3" cy="548.5" rx="7.3" ry="6.6" transform="rotate(161 243.3 548.5)" fill="#787878" fill-opacity="0.5" stroke="#444" stroke-width="0.8" stroke-opacity="0.6"/>
<ellipse cx="267.6" cy="554.3" rx="7.3" ry="6.7" transform="rotate(150 267.6 554.3)" fill="#787878" fill-opacity="0.5" stroke="#444" stroke-width="0.8" stroke-opacity="0.6"/>
<ellipse cx="230.2" cy="528.2" rx="7.8" ry="7.8" transform="rotate(159 230.2 528.2)" fill="#787878" fill-opacity="0.5" stroke="#444" stroke-width="0.8" stroke-opacity="0.6"/>
<ellipse cx="249.1" cy="561.4" rx="7.3" ry="7.4" transform="rotate(109 249.1 561.4)" fill="#787878" fill-opacity="0.5" stroke="#444" stroke-width="0.8" stroke-opacity="0.6"/>
<ellipse cx="164.7" cy="518.9" rx="7.1" ry="8.0" transform="rotate(64 164.7 518.9)" fill="#787878" fill-opacity="0.5" stroke="#444" stroke-width="0.8" stroke-opacity="0.6"/>
<ellipse cx="265.9" cy="577.4" rx="6.2" ry="7.4" transform="rotate(90 265.9 577.4)" fill="#787878" fill-opacity="0.5" stroke="#444" stroke-width="0.8" stroke-opacity="0.6"/>
<ellipse cx="254.9" cy="533.2" rx="7.1" ry="7.2" transform="rotate(45 254.9 533.2)" fill="#787878" fill-opacity="0.5" stroke="#444" stroke-width="0.8" stroke-opacity="0.6"/>
<ellipse cx="205.1" cy="564.0" rx="6.4" ry="6.1" transform="rotate(141 205.1 564.0)" fill="#787878" fill-opacity="0.5" stroke="#444" stroke-width="0.8" stroke-opacity="0.6"/>
<ellipse cx="150.5" cy="517.2" rx="7.8" ry="7.4" transform="rotate(21 150.5 517.2)" fill="#787878" fill-opacity="0.5" stroke="#444" stroke-width="0.8" stroke-opacity="0.6"/>
<ellipse cx="148.6" cy="593.6" rx="8.0" ry="7.7" transform="rotate(92 148.6 593.6)" fill="#787878" fill-opacity="0.5" stroke="#444" stroke-width="0.8" stroke-opacity="0.6"/>
<ellipse cx="242.4" cy="520.4" rx="6.0" ry="7.7" transform="rotate(112 242.4 520.4)" fill="#787878" fill-opacity="0.5" stroke="#444" stroke-width="0.8" stroke-opacity="0.6"/>
<ellipse cx="184.3" cy="593.5" rx="7.2" ry="6.0" transform="rotate(132 184.3 593.5)" fill="#787878" fill-opacity="0.5" stroke="#444" stroke-width="0.8" stroke-opacity="0.6"/>
<ellipse cx="213.7" cy="599.9" rx="6.1" ry="7.0" transform="rotate(26 213.7 599.9)" fill="#787878" fill-opacity="0.5" stroke="#444" stroke-width="0.8" stroke-opacity="0.6"/>
<ellipse cx="206.9" cy="582.0" rx="6.7" ry="7.8" transform="rotate(135 206.9 582.0)" fill="#787878" fill-opacity="0.5" stroke="#444" stroke-width="0.8" stroke-opacity="0.6"/>
<ellipse cx="230.2" cy="571.9" rx="7.6" ry="6.6" transform="rotate(70 230.2 571.9)" fill="#787878" fill-opacity="0.5" stroke="#444" stroke-width="0.8" stroke-opacity="0.6"/>
<ellipse cx="257.8" cy="549.3" rx="7.2" ry="6.1" transform="rotate(74 257.8 549.3)" fill="#787878" fill-opacity="0.5" stroke="#444" stroke-width="0.8" stroke-opacity="0.6"/>
<ellipse cx="169.3" cy="576.2" rx="7.9" ry="7.5" transform="rotate(155 169.3 576.2)" fill="#787878" fill-opacity="0.5" stroke="#444" stroke-width="0.8" stroke-opacity="0.6"/>
<ellipse cx="187.3" cy="542.6" rx="6.6" ry="7.4" transform="rotate(142 187.3 542.6)" fill="#787878" fill-opacity="0.5" stroke="#444" stroke-width="0.8" stroke-opacity="0.6"/>
<ellipse cx="240.4" cy="606.0" rx="7.4" ry="6.9" transform="rotate(31 240.4 606.0)" fill="#787878" fill-opacity="0.5" stroke="#444" stroke-width="0.8" stroke-opacity="0.6"/>
<ellipse cx="197.0" cy="570.9" rx="6.0" ry="7.8" transform="rotate(168 197.0 570.9)" fill="#787878" fill-opacity="0.5" stroke="#444" stroke-width="0.8" stroke-opacity="0.6"/>
<ellipse cx="269.4" cy="599.4" rx="6.6" ry="7.5" transform="rotate(73 269.4 599.4)" fill="#787878" fill-opacity="0.5" stroke="#444" stroke-width="0.8" stroke-opacity="0.6"/>
<ellipse cx="196.3" cy="552.1" rx="7.3" ry="7.7" transform="rotate(58 196.3 552.1)" fill="#787878" fill-opacity="0.5" stroke="#444" stroke-width="0.8" stroke-opacity="0.6"/>
<ellipse cx="155.6" cy="606.5" rx="7.2" ry="6.5" transform="rotate(92 155.6 606.5)" fill="#787878" fill-opacity="0.5" stroke="#444" stroke-width="0.8" stroke-opacity="0.6"/>
</g>
<rect x="149.3" y="516.0" width="118.5" height="91.0" fill="#fff" filter="url(#nf1)" opacity="0.22"/>
<rect x="149.3" y="516.0" width="118.5" height="91.0" fill="#fff" filter="url(#nf2)" opacity="0.16"/>
<path d="M149 600 C175 604 210 605 240 603 C255 601 262 598 268 595 L268 607 L149 607Z" fill="#cfcfcf" filter="url(#bl1t)"/>
<path d="M149 570 L160 566 L162 560 L156 558 L149 562Z" fill="#c0c0c0" filter="url(#bl1t)"/>
<path d="M215.5 524.2 L218.9 525.6 L216.9 527.4Z M217.3 526.0 L219.9 529.0" fill="#ff1a1a" stroke="#ff1a1a" stroke-width="1.1"/>
<path d="M202.7 545.2 L206.1 546.6 L204.1 548.4Z M204.5 547.0 L207.1 550.0" fill="#ff1a1a" stroke="#ff1a1a" stroke-width="1.1"/>
<path d="M225.5 553.4 L228.9 554.8 L226.9 556.6Z M227.3 555.2 L229.9 558.2" fill="#ff1a1a" stroke="#ff1a1a" stroke-width="1.1"/>
<path d="M249.2 567.1 L252.6 568.5 L250.6 570.3Z M251.0 568.9 L253.6 571.9" fill="#ff1a1a" stroke="#ff1a1a" stroke-width="1.1"/>
<path d="M189.0 578.0 L192.4 579.4 L190.4 581.2Z M190.8 579.8 L193.4 582.8" fill="#ff1a1a" stroke="#ff1a1a" stroke-width="1.1"/>
<path d="M229.2 578.0 L232.6 579.4 L230.6 581.2Z M231.0 579.8 L233.6 582.8" fill="#ff1a1a" stroke="#ff1a1a" stroke-width="1.1"/>
<path d="M239.2 582.6 L242.6 584.0 L240.6 585.8Z M241.0 584.4 L243.6 587.4" fill="#ff1a1a" stroke="#ff1a1a" stroke-width="1.1"/>
<path d="M185.3 583.5 L188.7 584.9 L186.7 586.7Z M187.1 585.3 L189.7 588.3" fill="#ff1a1a" stroke="#ff1a1a" stroke-width="1.1"/>
<path d="M205.4 584.1 L208.8 585.5 L206.8 587.3Z M207.2 585.9 L209.8 588.9" fill="#ff1a1a" stroke="#ff1a1a" stroke-width="1.1"/>
<path d="M182.6 588.1 L186.0 589.5 L184.0 591.3Z M184.4 589.9 L187.0 592.9" fill="#ff1a1a" stroke="#ff1a1a" stroke-width="1.1"/>
<path d="M236.1 592.6 L239.5 594.0 L237.5 595.8Z M237.9 594.4 L240.5 597.4" fill="#ff1a1a" stroke="#ff1a1a" stroke-width="1.1"/>
<path d="M153.4 593.2 L156.8 594.6 L154.8 596.4Z M155.2 595.0 L157.8 598.0" fill="#ff1a1a" stroke="#ff1a1a" stroke-width="1.1"/>
</g>
<rect x="149.30" y="516.00" width="118.50" height="91.00" fill="none" stroke="#3a3a3a" stroke-width="0.9"/>
<line x1="132.00" y1="509.00" x2="146.00" y2="509.00" stroke="#fff" stroke-width="1.2"/>
<text x="139.00" y="507.50" font-size="6.5" text-anchor="middle" fill="#fff" stroke="#fff" stroke-width="0.14">1μm</text>
<line x1="313.30" y1="428.90" x2="313.30" y2="542.40" stroke="#000" stroke-width="1"/>
<line x1="312.80" y1="541.90" x2="414.50" y2="541.90" stroke="#000" stroke-width="1"/>
<line x1="309.50" y1="541.90" x2="313.30" y2="541.90" stroke="#000" stroke-width="1"/>
<text x="307.90" y="545.61" font-size="10.6" text-anchor="end" fill="#000" stroke="#000" stroke-width="0.14">0</text>
<line x1="309.50" y1="504.40" x2="313.30" y2="504.40" stroke="#000" stroke-width="1"/>
<text x="307.90" y="508.11" font-size="10.6" text-anchor="end" fill="#000" stroke="#000" stroke-width="0.14">20</text>
<line x1="309.50" y1="466.90" x2="313.30" y2="466.90" stroke="#000" stroke-width="1"/>
<text x="307.90" y="470.61" font-size="10.6" text-anchor="end" fill="#000" stroke="#000" stroke-width="0.14">40</text>
<line x1="309.50" y1="429.40" x2="313.30" y2="429.40" stroke="#000" stroke-width="1"/>
<text x="307.90" y="433.11" font-size="10.6" text-anchor="end" fill="#000" stroke="#000" stroke-width="0.14">60</text>
<line x1="329.40" y1="541.90" x2="329.40" y2="545.70" stroke="#000" stroke-width="1"/>
<line x1="352.00" y1="541.90" x2="352.00" y2="545.70" stroke="#000" stroke-width="1"/>
<line x1="375.60" y1="541.90" x2="375.60" y2="545.70" stroke="#000" stroke-width="1"/>
<line x1="399.00" y1="541.90" x2="399.00" y2="545.70" stroke="#000" stroke-width="1"/>
<text x="280.00" y="484.00" font-size="10.8" text-anchor="middle" fill="#000" stroke="#000" stroke-width="0.14" transform="rotate(-90 280.0 484)">Fission</text>
<text x="292.00" y="484.00" font-size="10.8" text-anchor="middle" fill="#000" stroke="#000" stroke-width="0.14" transform="rotate(-90 292.0 484)">(% of mitochondria)</text>
<text x="332.60" y="557.50" font-size="10.0" text-anchor="end" fill="#000" stroke="#000" stroke-width="0.14" transform="rotate(-45 332.59999999999997 557.5)">AAV-NC-Sham</text>
<text x="355.20" y="557.50" font-size="10.0" text-anchor="end" fill="#000" stroke="#000" stroke-width="0.14" transform="rotate(-45 355.2 557.5)">AAV-<tspan font-style="italic">Klf7</tspan>-Sham</text>
<text x="378.80" y="557.50" font-size="10.0" text-anchor="end" fill="#000" stroke="#000" stroke-width="0.14" transform="rotate(-45 378.8 557.5)">AAV-NC-MI</text>
<text x="402.20" y="557.50" font-size="10.0" text-anchor="end" fill="#000" stroke="#000" stroke-width="0.14" transform="rotate(-45 402.2 557.5)">AAV-<tspan font-style="italic">Klf7</tspan>-MI</text>
<path d="M322.35 541.90V531.59H336.35V541.90" fill="#fff" stroke="#000" stroke-width="1.3"/>
<circle cx="329.35" cy="526.90" r="2.00" fill="#000"/>
<circle cx="325.35" cy="528.77" r="2.00" fill="#000"/>
<circle cx="333.35" cy="529.71" r="2.00" fill="#000"/>
<circle cx="324.85" cy="531.59" r="2.00" fill="#000"/>
<circle cx="333.85" cy="533.46" r="2.00" fill="#000"/>
<circle cx="327.35" cy="534.40" r="2.00" fill="#000"/>
<circle cx="331.35" cy="535.34" r="2.00" fill="#000"/>
<line x1="329.35" y1="534.59" x2="329.35" y2="528.59" stroke="#000" stroke-width="1"/>
<line x1="325.85" y1="528.59" x2="332.85" y2="528.59" stroke="#000" stroke-width="1"/>
<line x1="325.85" y1="534.59" x2="332.85" y2="534.59" stroke="#000" stroke-width="1"/>
<path d="M344.95 541.90V514.71H359.15V541.90" fill="#fff" stroke="#ee2a2a" stroke-width="1.3"/>
<rect x="350.05" y="506.15" width="4.00" height="4.00" fill="#ee2a2a"/>
<rect x="346.05" y="508.02" width="4.00" height="4.00" fill="#ee2a2a"/>
<rect x="354.05" y="510.84" width="4.00" height="4.00" fill="#ee2a2a"/>
<rect x="345.55" y="512.71" width="4.00" height="4.00" fill="#ee2a2a"/>
<rect x="354.55" y="513.65" width="4.00" height="4.00" fill="#ee2a2a"/>
<rect x="348.05" y="517.40" width="4.00" height="4.00" fill="#ee2a2a"/>
<rect x="352.05" y="520.21" width="4.00" height="4.00" fill="#ee2a2a"/>
<line x1="352.05" y1="519.40" x2="352.05" y2="510.02" stroke="#ee2a2a" stroke-width="1"/>
<line x1="348.55" y1="510.02" x2="355.55" y2="510.02" stroke="#ee2a2a" stroke-width="1"/>
<line x1="348.55" y1="519.40" x2="355.55" y2="519.40" stroke="#ee2a2a" stroke-width="1"/>
<path d="M368.35 541.90V473.46H382.85V541.90" fill="#fff" stroke="#3a8e9e" stroke-width="1.3"/>
<path d="M375.60 458.85L377.80 463.03L373.40 463.03Z" fill="#3a8e9e"/>
<path d="M371.60 460.73L373.80 464.91L369.40 464.91Z" fill="#3a8e9e"/>
<path d="M379.60 466.35L381.80 470.53L377.40 470.53Z" fill="#3a8e9e"/>
<path d="M371.10 470.10L373.30 474.28L368.90 474.28Z" fill="#3a8e9e"/>
<path d="M380.10 473.85L382.30 478.03L377.90 478.03Z" fill="#3a8e9e"/>
<path d="M373.60 477.60L375.80 481.78L371.40 481.78Z" fill="#3a8e9e"/>
<path d="M377.60 485.10L379.80 489.28L375.40 489.28Z" fill="#3a8e9e"/>
<line x1="375.60" y1="481.90" x2="375.60" y2="465.02" stroke="#3a8e9e" stroke-width="1"/>
<line x1="372.10" y1="465.02" x2="379.10" y2="465.02" stroke="#3a8e9e" stroke-width="1"/>
<line x1="372.10" y1="481.90" x2="379.10" y2="481.90" stroke="#3a8e9e" stroke-width="1"/>
<path d="M392.05 541.90V460.34H405.95V541.90" fill="#fff" stroke="#f26a1f" stroke-width="1.3"/>
<path d="M399.00 450.57L401.20 446.39L396.80 446.39Z" fill="#f26a1f"/>
<path d="M395.00 454.32L397.20 450.14L392.80 450.14Z" fill="#f26a1f"/>
<path d="M403.00 458.07L405.20 453.89L400.80 453.89Z" fill="#f26a1f"/>
<path d="M394.50 461.82L396.70 457.64L392.30 457.64Z" fill="#f26a1f"/>
<path d="M403.50 463.69L405.70 459.51L401.30 459.51Z" fill="#f26a1f"/>
<path d="M397.00 467.44L399.20 463.26L394.80 463.26Z" fill="#f26a1f"/>
<path d="M401.00 471.19L403.20 467.01L398.80 467.01Z" fill="#f26a1f"/>
<line x1="399.00" y1="467.84" x2="399.00" y2="452.84" stroke="#f26a1f" stroke-width="1"/>
<line x1="395.50" y1="452.84" x2="402.50" y2="452.84" stroke="#f26a1f" stroke-width="1"/>
<line x1="395.50" y1="467.84" x2="402.50" y2="467.84" stroke="#f26a1f" stroke-width="1"/>
<line x1="327.00" y1="502.50" x2="352.50" y2="502.50" stroke="#000" stroke-width="1"/>
<text x="339.75" y="505.10" font-size="12" text-anchor="middle" fill="#000" stroke="#000" stroke-width="0.14" letter-spacing="-0.4">***</text>
<line x1="327.00" y1="453.90" x2="376.10" y2="453.90" stroke="#000" stroke-width="1"/>
<text x="351.55" y="456.50" font-size="12" text-anchor="middle" fill="#000" stroke="#000" stroke-width="0.14" letter-spacing="-0.4">****</text>
<line x1="376.10" y1="442.00" x2="400.60" y2="442.00" stroke="#000" stroke-width="1"/>
<text x="388.35" y="444.60" font-size="12" text-anchor="middle" fill="#000" stroke="#000" stroke-width="0.14" letter-spacing="-0.4">*</text>
<text x="419.30" y="424.00" font-size="12.5" text-anchor="start" font-weight="bold" fill="#000" stroke="#000" stroke-width="0.14">g</text>
<line x1="458.40" y1="438.20" x2="458.40" y2="543.40" stroke="#000" stroke-width="1"/>
<line x1="457.90" y1="542.90" x2="523.60" y2="542.90" stroke="#000" stroke-width="1"/>
<line x1="454.60" y1="542.90" x2="458.40" y2="542.90" stroke="#000" stroke-width="1"/>
<text x="453.00" y="546.40" font-size="10.0" text-anchor="end" fill="#000" stroke="#000" stroke-width="0.14">0.0</text>
<line x1="454.60" y1="508.17" x2="458.40" y2="508.17" stroke="#000" stroke-width="1"/>
<text x="453.00" y="511.67" font-size="10.0" text-anchor="end" fill="#000" stroke="#000" stroke-width="0.14">0.5</text>
<line x1="454.60" y1="473.43" x2="458.40" y2="473.43" stroke="#000" stroke-width="1"/>
<text x="453.00" y="476.93" font-size="10.0" text-anchor="end" fill="#000" stroke="#000" stroke-width="0.14">1.0</text>
<line x1="454.60" y1="438.70" x2="458.40" y2="438.70" stroke="#000" stroke-width="1"/>
<text x="453.00" y="442.20" font-size="10.0" text-anchor="end" fill="#000" stroke="#000" stroke-width="0.14">1.5</text>
<line x1="471.50" y1="542.90" x2="471.50" y2="546.70" stroke="#000" stroke-width="1"/>
<line x1="490.60" y1="542.90" x2="490.60" y2="546.70" stroke="#000" stroke-width="1"/>
<line x1="510.00" y1="542.90" x2="510.00" y2="546.70" stroke="#000" stroke-width="1"/>
<text x="435.80" y="489.40" font-size="10.0" text-anchor="middle" fill="#000" stroke="#000" stroke-width="0.14" transform="rotate(-90 435.8 489.4)">Relative amount of mtDNA</text>
<text x="473.90" y="557.00" font-size="9.3" text-anchor="end" fill="#000" stroke="#000" stroke-width="0.14" transform="rotate(-45 473.9 557.0)">AAV-NC-Sham</text>
<text x="493.00" y="557.00" font-size="9.3" text-anchor="end" fill="#000" stroke="#000" stroke-width="0.14" transform="rotate(-45 493.0 557.0)">AAV-NC-MI</text>
<text x="512.40" y="557.00" font-size="9.3" text-anchor="end" fill="#000" stroke="#000" stroke-width="0.14" transform="rotate(-45 512.4 557.0)">AAV-<tspan font-style="italic">Klf7</tspan>-MI</text>
<path d="M466.05 542.90V473.43H476.85V542.90" fill="#fff" stroke="#000" stroke-width="1.3"/>
<circle cx="471.45" cy="462.32" r="1.80" fill="#000"/>
<circle cx="468.45" cy="469.27" r="1.80" fill="#000"/>
<circle cx="474.45" cy="473.43" r="1.80" fill="#000"/>
<circle cx="471.45" cy="478.99" r="1.80" fill="#000"/>
<circle cx="468.45" cy="490.80" r="1.80" fill="#000"/>
<circle cx="474.45" cy="475.52" r="1.80" fill="#000"/>
<line x1="471.45" y1="483.85" x2="471.45" y2="463.01" stroke="#000" stroke-width="1"/>
<line x1="468.45" y1="463.01" x2="474.45" y2="463.01" stroke="#000" stroke-width="1"/>
<line x1="468.45" y1="483.85" x2="474.45" y2="483.85" stroke="#000" stroke-width="1"/>
<path d="M484.75 542.90V494.27H495.95V542.90" fill="#fff" stroke="#3a8e9e" stroke-width="1.3"/>
<rect x="488.55" y="482.05" width="3.60" height="3.60" fill="#3a8e9e"/>
<rect x="485.55" y="486.92" width="3.60" height="3.60" fill="#3a8e9e"/>
<rect x="491.55" y="492.47" width="3.60" height="3.60" fill="#3a8e9e"/>
<rect x="488.55" y="495.25" width="3.60" height="3.60" fill="#3a8e9e"/>
<rect x="485.55" y="498.03" width="3.60" height="3.60" fill="#3a8e9e"/>
<rect x="491.55" y="491.78" width="3.60" height="3.60" fill="#3a8e9e"/>
<line x1="490.35" y1="499.83" x2="490.35" y2="488.72" stroke="#3a8e9e" stroke-width="1"/>
<line x1="487.35" y1="488.72" x2="493.35" y2="488.72" stroke="#3a8e9e" stroke-width="1"/>
<line x1="487.35" y1="499.83" x2="493.35" y2="499.83" stroke="#3a8e9e" stroke-width="1"/>
<path d="M504.25 542.90V501.22H515.45V542.90" fill="#fff" stroke="#f26a1f" stroke-width="1.3"/>
<path d="M509.85 496.26L511.83 500.03L507.87 500.03Z" fill="#f26a1f"/>
<path d="M506.85 497.65L508.83 501.41L504.87 501.41Z" fill="#f26a1f"/>
<path d="M512.85 499.04L514.83 502.80L510.87 502.80Z" fill="#f26a1f"/>
<path d="M509.85 499.04L511.83 502.80L507.87 502.80Z" fill="#f26a1f"/>
<path d="M506.85 499.74L508.83 503.50L504.87 503.50Z" fill="#f26a1f"/>
<path d="M512.85 498.35L514.83 502.11L510.87 502.11Z" fill="#f26a1f"/>
<line x1="509.85" y1="502.61" x2="509.85" y2="499.83" stroke="#f26a1f" stroke-width="1"/>
<line x1="506.85" y1="499.83" x2="512.85" y2="499.83" stroke="#f26a1f" stroke-width="1"/>
<line x1="506.85" y1="502.61" x2="512.85" y2="502.61" stroke="#f26a1f" stroke-width="1"/>
<line x1="470.20" y1="457.20" x2="486.60" y2="457.20" stroke="#000" stroke-width="1"/>
<text x="478.40" y="459.80" font-size="12" text-anchor="middle" fill="#000" stroke="#000" stroke-width="0.14" letter-spacing="-0.4">**</text>
<line x1="490.00" y1="480.30" x2="506.50" y2="480.30" stroke="#000" stroke-width="1"/>
<text x="498.25" y="482.90" font-size="12" text-anchor="middle" fill="#000" stroke="#000" stroke-width="0.14" letter-spacing="-0.4">*</text>
<text x="538.60" y="424.00" font-size="12.5" text-anchor="start" font-weight="bold" fill="#000" stroke="#000" stroke-width="0.14">h</text>
<line x1="586.10" y1="449.10" x2="586.10" y2="541.80" stroke="#000" stroke-width="1"/>
<line x1="585.60" y1="541.30" x2="685.00" y2="541.30" stroke="#000" stroke-width="1"/>
<line x1="582.30" y1="541.30" x2="586.10" y2="541.30" stroke="#000" stroke-width="1"/>
<text x="580.70" y="544.59" font-size="9.4" text-anchor="end" fill="#000" stroke="#000" stroke-width="0.14">0</text>
<line x1="582.30" y1="518.38" x2="586.10" y2="518.38" stroke="#000" stroke-width="1"/>
<text x="580.70" y="521.66" font-size="9.4" text-anchor="end" fill="#000" stroke="#000" stroke-width="0.14">5</text>
<line x1="582.30" y1="495.45" x2="586.10" y2="495.45" stroke="#000" stroke-width="1"/>
<text x="580.70" y="498.74" font-size="9.4" text-anchor="end" fill="#000" stroke="#000" stroke-width="0.14">10</text>
<line x1="582.30" y1="472.52" x2="586.10" y2="472.52" stroke="#000" stroke-width="1"/>
<text x="580.70" y="475.81" font-size="9.4" text-anchor="end" fill="#000" stroke="#000" stroke-width="0.14">15</text>
<line x1="582.30" y1="449.60" x2="586.10" y2="449.60" stroke="#000" stroke-width="1"/>
<text x="580.70" y="452.89" font-size="9.4" text-anchor="end" fill="#000" stroke="#000" stroke-width="0.14">20</text>
<line x1="601.60" y1="541.30" x2="601.60" y2="545.10" stroke="#000" stroke-width="1"/>
<line x1="624.40" y1="541.30" x2="624.40" y2="545.10" stroke="#000" stroke-width="1"/>
<line x1="646.40" y1="541.30" x2="646.40" y2="545.10" stroke="#000" stroke-width="1"/>
<line x1="668.90" y1="541.30" x2="668.90" y2="545.10" stroke="#000" stroke-width="1"/>
<text x="565.80" y="494.30" font-size="9.4" text-anchor="middle" fill="#000" stroke="#000" stroke-width="0.14" transform="rotate(-90 565.8 494.3)">TUNEL-positive cells (%)</text>
<text x="603.70" y="555.60" font-size="9.0" text-anchor="end" fill="#000" stroke="#000" stroke-width="0.14" transform="rotate(-45 603.7 555.6)">AAV-NC-Sham</text>
<text x="626.50" y="555.60" font-size="9.0" text-anchor="end" fill="#000" stroke="#000" stroke-width="0.14" transform="rotate(-45 626.5 555.6)">AAV-<tspan font-style="italic">Klf7</tspan>-Sham</text>
<text x="648.50" y="555.60" font-size="9.0" text-anchor="end" fill="#000" stroke="#000" stroke-width="0.14" transform="rotate(-45 648.5 555.6)">AAV-NC-MI</text>
<text x="671.00" y="555.60" font-size="9.0" text-anchor="end" fill="#000" stroke="#000" stroke-width="0.14" transform="rotate(-45 671.0 555.6)">AAV-<tspan font-style="italic">Klf7</tspan>-MI</text>
<rect x="590.70" y="539.90" width="3.80" height="3.80" fill="#000"/>
<rect x="593.70" y="539.90" width="3.80" height="3.80" fill="#000"/>
<rect x="596.70" y="539.90" width="3.80" height="3.80" fill="#000"/>
<rect x="599.70" y="539.90" width="3.80" height="3.80" fill="#000"/>
<rect x="602.70" y="539.90" width="3.80" height="3.80" fill="#000"/>
<rect x="605.70" y="539.90" width="3.80" height="3.80" fill="#000"/>
<rect x="608.70" y="539.90" width="3.80" height="3.80" fill="#000"/>
<rect x="590.70" y="535.70" width="3.80" height="3.80" fill="#000"/>
<rect x="593.27" y="535.70" width="3.80" height="3.80" fill="#000"/>
<rect x="595.84" y="535.70" width="3.80" height="3.80" fill="#000"/>
<rect x="598.41" y="535.70" width="3.80" height="3.80" fill="#000"/>
<rect x="600.99" y="535.70" width="3.80" height="3.80" fill="#000"/>
<rect x="603.56" y="535.70" width="3.80" height="3.80" fill="#000"/>
<rect x="606.13" y="535.70" width="3.80" height="3.80" fill="#000"/>
<rect x="608.70" y="535.70" width="3.80" height="3.80" fill="#000"/>
<rect x="590.90" y="531.50" width="3.80" height="3.80" fill="#000"/>
<rect x="595.30" y="531.50" width="3.80" height="3.80" fill="#000"/>
<rect x="599.70" y="531.50" width="3.80" height="3.80" fill="#000"/>
<rect x="604.10" y="531.50" width="3.80" height="3.80" fill="#000"/>
<rect x="608.50" y="531.50" width="3.80" height="3.80" fill="#000"/>
<line x1="592.60" y1="538.55" x2="610.60" y2="538.55" stroke="#000" stroke-width="1"/>
<line x1="596.60" y1="535.80" x2="606.60" y2="535.80" stroke="#000" stroke-width="1"/>
<line x1="596.60" y1="541.30" x2="606.60" y2="541.30" stroke="#000" stroke-width="1"/>
<line x1="601.60" y1="541.30" x2="601.60" y2="535.80" stroke="#000" stroke-width="1"/>
<rect x="622.50" y="506.30" width="3.80" height="3.80" fill="#8f8f8f"/>
<rect x="620.30" y="510.50" width="3.80" height="3.80" fill="#8f8f8f"/>
<rect x="624.70" y="510.50" width="3.80" height="3.80" fill="#8f8f8f"/>
<rect x="618.10" y="514.70" width="3.80" height="3.80" fill="#8f8f8f"/>
<rect x="622.50" y="514.70" width="3.80" height="3.80" fill="#8f8f8f"/>
<rect x="626.90" y="514.70" width="3.80" height="3.80" fill="#8f8f8f"/>
<rect x="622.50" y="518.90" width="3.80" height="3.80" fill="#8f8f8f"/>
<rect x="613.50" y="523.10" width="3.80" height="3.80" fill="#8f8f8f"/>
<rect x="617.10" y="523.10" width="3.80" height="3.80" fill="#8f8f8f"/>
<rect x="620.70" y="523.10" width="3.80" height="3.80" fill="#8f8f8f"/>
<rect x="624.30" y="523.10" width="3.80" height="3.80" fill="#8f8f8f"/>
<rect x="627.90" y="523.10" width="3.80" height="3.80" fill="#8f8f8f"/>
<rect x="631.50" y="523.10" width="3.80" height="3.80" fill="#8f8f8f"/>
<rect x="618.10" y="527.30" width="3.80" height="3.80" fill="#8f8f8f"/>
<rect x="622.50" y="527.30" width="3.80" height="3.80" fill="#8f8f8f"/>
<rect x="626.90" y="527.30" width="3.80" height="3.80" fill="#8f8f8f"/>
<rect x="620.30" y="531.50" width="3.80" height="3.80" fill="#8f8f8f"/>
<rect x="624.70" y="531.50" width="3.80" height="3.80" fill="#8f8f8f"/>
<rect x="620.30" y="535.70" width="3.80" height="3.80" fill="#8f8f8f"/>
<rect x="624.70" y="535.70" width="3.80" height="3.80" fill="#8f8f8f"/>
<line x1="615.40" y1="523.88" x2="633.40" y2="523.88" stroke="#8f8f8f" stroke-width="1"/>
<line x1="619.40" y1="517.46" x2="629.40" y2="517.46" stroke="#8f8f8f" stroke-width="1"/>
<line x1="619.40" y1="530.30" x2="629.40" y2="530.30" stroke="#8f8f8f" stroke-width="1"/>
<line x1="624.40" y1="530.30" x2="624.40" y2="517.46" stroke="#8f8f8f" stroke-width="1"/>
<path d="M642.00 480.70L644.09 484.67L639.91 484.67Z" fill="#3a8e9e"/>
<path d="M646.40 480.70L648.49 484.67L644.31 484.67Z" fill="#3a8e9e"/>
<path d="M650.80 480.70L652.89 484.67L648.71 484.67Z" fill="#3a8e9e"/>
<path d="M639.80 484.90L641.89 488.87L637.71 488.87Z" fill="#3a8e9e"/>
<path d="M644.20 484.90L646.29 488.87L642.11 488.87Z" fill="#3a8e9e"/>
<path d="M648.60 484.90L650.69 488.87L646.51 488.87Z" fill="#3a8e9e"/>
<path d="M653.00 484.90L655.09 488.87L650.91 488.87Z" fill="#3a8e9e"/>
<path d="M644.20 489.10L646.29 493.07L642.11 493.07Z" fill="#3a8e9e"/>
<path d="M648.60 489.10L650.69 493.07L646.51 493.07Z" fill="#3a8e9e"/>
<path d="M642.00 493.30L644.09 497.27L639.91 497.27Z" fill="#3a8e9e"/>
<path d="M646.40 493.30L648.49 497.27L644.31 497.27Z" fill="#3a8e9e"/>
<path d="M650.80 493.30L652.89 497.27L648.71 497.27Z" fill="#3a8e9e"/>
<path d="M644.20 497.50L646.29 501.47L642.11 501.47Z" fill="#3a8e9e"/>
<path d="M648.60 497.50L650.69 501.47L646.51 501.47Z" fill="#3a8e9e"/>
<path d="M642.00 501.70L644.09 505.67L639.91 505.67Z" fill="#3a8e9e"/>
<path d="M646.40 501.70L648.49 505.67L644.31 505.67Z" fill="#3a8e9e"/>
<path d="M650.80 501.70L652.89 505.67L648.71 505.67Z" fill="#3a8e9e"/>
<path d="M642.00 505.90L644.09 509.87L639.91 509.87Z" fill="#3a8e9e"/>
<path d="M646.40 505.90L648.49 509.87L644.31 509.87Z" fill="#3a8e9e"/>
<path d="M650.80 505.90L652.89 509.87L648.71 509.87Z" fill="#3a8e9e"/>
<line x1="637.40" y1="496.37" x2="655.40" y2="496.37" stroke="#3a8e9e" stroke-width="1"/>
<line x1="641.40" y1="488.11" x2="651.40" y2="488.11" stroke="#3a8e9e" stroke-width="1"/>
<line x1="641.40" y1="504.62" x2="651.40" y2="504.62" stroke="#3a8e9e" stroke-width="1"/>
<line x1="646.40" y1="504.62" x2="646.40" y2="488.11" stroke="#3a8e9e" stroke-width="1"/>
<path d="M668.90 455.90L670.99 451.93L666.81 451.93Z" fill="#f26a1f"/>
<path d="M666.70 460.10L668.79 456.13L664.61 456.13Z" fill="#f26a1f"/>
<path d="M671.10 460.10L673.19 456.13L669.01 456.13Z" fill="#f26a1f"/>
<path d="M666.70 464.30L668.79 460.33L664.61 460.33Z" fill="#f26a1f"/>
<path d="M671.10 464.30L673.19 460.33L669.01 460.33Z" fill="#f26a1f"/>
<path d="M666.70 468.50L668.79 464.53L664.61 464.53Z" fill="#f26a1f"/>
<path d="M671.10 468.50L673.19 464.53L669.01 464.53Z" fill="#f26a1f"/>
<path d="M666.70 476.90L668.79 472.93L664.61 472.93Z" fill="#f26a1f"/>
<path d="M671.10 476.90L673.19 472.93L669.01 472.93Z" fill="#f26a1f"/>
<path d="M666.70 481.10L668.79 477.13L664.61 477.13Z" fill="#f26a1f"/>
<path d="M671.10 481.10L673.19 477.13L669.01 477.13Z" fill="#f26a1f"/>
<path d="M666.70 485.30L668.79 481.33L664.61 481.33Z" fill="#f26a1f"/>
<path d="M671.10 485.30L673.19 481.33L669.01 481.33Z" fill="#f26a1f"/>
<path d="M666.70 489.50L668.79 485.53L664.61 485.53Z" fill="#f26a1f"/>
<path d="M671.10 489.50L673.19 485.53L669.01 485.53Z" fill="#f26a1f"/>
<path d="M666.70 493.70L668.79 489.73L664.61 489.73Z" fill="#f26a1f"/>
<path d="M671.10 493.70L673.19 489.73L669.01 489.73Z" fill="#f26a1f"/>
<path d="M668.90 497.90L670.99 493.93L666.81 493.93Z" fill="#f26a1f"/>
<path d="M666.70 502.10L668.79 498.13L664.61 498.13Z" fill="#f26a1f"/>
<path d="M671.10 502.10L673.19 498.13L669.01 498.13Z" fill="#f26a1f"/>
<path d="M666.70 506.30L668.79 502.33L664.61 502.33Z" fill="#f26a1f"/>
<path d="M671.10 506.30L673.19 502.33L669.01 502.33Z" fill="#f26a1f"/>
<line x1="659.90" y1="480.32" x2="677.90" y2="480.32" stroke="#f26a1f" stroke-width="1"/>
<line x1="663.90" y1="465.65" x2="673.90" y2="465.65" stroke="#f26a1f" stroke-width="1"/>
<line x1="663.90" y1="494.99" x2="673.90" y2="494.99" stroke="#f26a1f" stroke-width="1"/>
<line x1="668.90" y1="494.99" x2="668.90" y2="465.65" stroke="#f26a1f" stroke-width="1"/>
<line x1="599.00" y1="505.00" x2="623.20" y2="505.00" stroke="#000" stroke-width="1"/>
<text x="611.10" y="507.60" font-size="12" text-anchor="middle" fill="#000" stroke="#000" stroke-width="0.14" letter-spacing="-0.4">****</text>
<line x1="599.00" y1="475.60" x2="642.70" y2="475.60" stroke="#000" stroke-width="1"/>
<text x="620.85" y="478.20" font-size="12" text-anchor="middle" fill="#000" stroke="#000" stroke-width="0.14" letter-spacing="-0.4">****</text>
<line x1="644.30" y1="448.90" x2="669.20" y2="448.90" stroke="#000" stroke-width="1"/>
<text x="656.75" y="451.50" font-size="12" text-anchor="middle" fill="#000" stroke="#000" stroke-width="0.14" letter-spacing="-0.4">***</text>
<text x="14.60" y="637.80" font-size="13" text-anchor="start" font-weight="bold" fill="#000" stroke="#000" stroke-width="0.14">i</text>
<line x1="52.90" y1="649.60" x2="66.90" y2="649.60" stroke="#000" stroke-width="1.6"/>
<circle cx="59.90" cy="649.60" r="2.70" fill="#000"/>
<text x="74.10" y="653.90" font-size="12.6" text-anchor="start" fill="#000" stroke="#000" stroke-width="0.14">AAV-NC-Sham</text>
<line x1="52.90" y1="669.50" x2="66.90" y2="669.50" stroke="#ff1a1a" stroke-width="1.6"/>
<rect x="57.20" y="666.80" width="5.40" height="5.40" fill="#ff1a1a"/>
<text x="74.10" y="673.80" font-size="12.6" text-anchor="start" fill="#000" stroke="#000" stroke-width="0.14">AAV-<tspan font-style="italic">Klf7</tspan>-Sham</text>
<line x1="177.00" y1="649.60" x2="191.00" y2="649.60" stroke="#1a1aff" stroke-width="1.6"/>
<path d="M184.00 646.33L186.97 651.98L181.03 651.98Z" fill="#1a1aff"/>
<text x="198.20" y="653.90" font-size="12.6" text-anchor="start" fill="#000" stroke="#000" stroke-width="0.14">AAV-NC-MI</text>
<line x1="177.00" y1="669.50" x2="191.00" y2="669.50" stroke="#c040f0" stroke-width="1.6"/>
<path d="M184.00 672.77L186.97 667.12L181.03 667.12Z" fill="#c040f0"/>
<text x="198.20" y="673.80" font-size="12.6" text-anchor="start" fill="#000" stroke="#000" stroke-width="0.14">AAV-<tspan font-style="italic">Klf7</tspan>-MI</text>
<line x1="75.20" y1="684.80" x2="75.20" y2="820.90" stroke="#000" stroke-width="1"/>
<line x1="74.70" y1="820.40" x2="268.20" y2="820.40" stroke="#000" stroke-width="1"/>
<line x1="70.20" y1="820.40" x2="75.20" y2="820.40" stroke="#000" stroke-width="1"/>
<text x="68.20" y="824.67" font-size="12.2" text-anchor="end" fill="#000" stroke="#000" stroke-width="0.14">0</text>
<line x1="70.20" y1="793.38" x2="75.20" y2="793.38" stroke="#000" stroke-width="1"/>
<text x="68.20" y="797.65" font-size="12.2" text-anchor="end" fill="#000" stroke="#000" stroke-width="0.14">100</text>
<line x1="70.20" y1="766.36" x2="75.20" y2="766.36" stroke="#000" stroke-width="1"/>
<text x="68.20" y="770.63" font-size="12.2" text-anchor="end" fill="#000" stroke="#000" stroke-width="0.14">200</text>
<line x1="70.20" y1="739.34" x2="75.20" y2="739.34" stroke="#000" stroke-width="1"/>
<text x="68.20" y="743.61" font-size="12.2" text-anchor="end" fill="#000" stroke="#000" stroke-width="0.14">300</text>
<line x1="70.20" y1="712.32" x2="75.20" y2="712.32" stroke="#000" stroke-width="1"/>
<text x="68.20" y="716.59" font-size="12.2" text-anchor="end" fill="#000" stroke="#000" stroke-width="0.14">400</text>
<line x1="70.20" y1="685.30" x2="75.20" y2="685.30" stroke="#000" stroke-width="1"/>
<text x="68.20" y="689.57" font-size="12.2" text-anchor="end" fill="#000" stroke="#000" stroke-width="0.14">500</text>
<line x1="75.20" y1="820.40" x2="75.20" y2="825.40" stroke="#000" stroke-width="1"/>
<line x1="94.42" y1="820.40" x2="94.42" y2="825.40" stroke="#000" stroke-width="1"/>
<line x1="113.64" y1="820.40" x2="113.64" y2="825.40" stroke="#000" stroke-width="1"/>
<line x1="132.86" y1="820.40" x2="132.86" y2="825.40" stroke="#000" stroke-width="1"/>
<line x1="152.08" y1="820.40" x2="152.08" y2="825.40" stroke="#000" stroke-width="1"/>
<line x1="171.30" y1="820.40" x2="171.30" y2="825.40" stroke="#000" stroke-width="1"/>
<line x1="190.52" y1="820.40" x2="190.52" y2="825.40" stroke="#000" stroke-width="1"/>
<line x1="209.74" y1="820.40" x2="209.74" y2="825.40" stroke="#000" stroke-width="1"/>
<line x1="228.96" y1="820.40" x2="228.96" y2="825.40" stroke="#000" stroke-width="1"/>
<line x1="248.18" y1="820.40" x2="248.18" y2="825.40" stroke="#000" stroke-width="1"/>
<line x1="267.40" y1="820.40" x2="267.40" y2="825.40" stroke="#000" stroke-width="1"/>
<line x1="75.20" y1="820.40" x2="75.20" y2="826.00" stroke="#000" stroke-width="1"/>
<line x1="171.30" y1="820.40" x2="171.30" y2="826.00" stroke="#000" stroke-width="1"/>
<line x1="267.40" y1="820.40" x2="267.40" y2="826.00" stroke="#000" stroke-width="1"/>
<text x="75.20" y="839.40" font-size="11.8" text-anchor="middle" fill="#000" stroke="#000" stroke-width="0.14">0</text>
<text x="171.30" y="839.40" font-size="11.8" text-anchor="middle" fill="#000" stroke="#000" stroke-width="0.14">50</text>
<text x="267.40" y="839.40" font-size="11.8" text-anchor="middle" fill="#000" stroke="#000" stroke-width="0.14">100</text>
<text x="171.50" y="858.60" font-size="12" text-anchor="middle" fill="#000" stroke="#000" stroke-width="0.14">Time (minutes)</text>
<text x="40.50" y="751.00" font-size="12" text-anchor="middle" fill="#000" stroke="#000" stroke-width="0.14" transform="rotate(-90 40.5 751)">OCR (pmol/min)</text>
<text x="80.40" y="692.00" font-size="12" text-anchor="start" fill="#000" stroke="#000" stroke-width="0.14">Oligomycin</text>
<text x="150.50" y="692.00" font-size="12" text-anchor="start" fill="#000" stroke="#000" stroke-width="0.14">FCCP</text>
<text x="199.10" y="692.00" font-size="12" text-anchor="start" fill="#000" stroke="#000" stroke-width="0.14">Rot/AA</text>
<line x1="117.40" y1="701.50" x2="117.40" y2="820.00" stroke="#111" stroke-width="1.2" stroke-dasharray="3.2 2.4"/>
<line x1="166.30" y1="701.50" x2="166.30" y2="820.00" stroke="#111" stroke-width="1.2" stroke-dasharray="3.2 2.4"/>
<line x1="215.10" y1="701.50" x2="215.10" y2="820.00" stroke="#111" stroke-width="1.2" stroke-dasharray="3.2 2.4"/>
<polyline points="78.5,785.3 95.2,785.3 110.9,785.3 127.9,811.8 144.8,812.3 160.9,811.8 178.2,737.4 195.1,739.3 211.3,739.3 228.0,811.5 244.7,810.4 261.1,812.0" fill="none" stroke="#c040f0" stroke-width="1.7"/>
<line x1="78.47" y1="787.44" x2="78.47" y2="783.11" stroke="#c040f0" stroke-width="1"/>
<line x1="76.47" y1="783.11" x2="80.47" y2="783.11" stroke="#c040f0" stroke-width="1"/>
<line x1="76.47" y1="787.44" x2="80.47" y2="787.44" stroke="#c040f0" stroke-width="1"/>
<path d="M78.47 788.78L81.66 782.72L75.28 782.72Z" fill="#c040f0"/>
<line x1="95.19" y1="787.17" x2="95.19" y2="783.38" stroke="#c040f0" stroke-width="1"/>
<line x1="93.19" y1="783.38" x2="97.19" y2="783.38" stroke="#c040f0" stroke-width="1"/>
<line x1="93.19" y1="787.17" x2="97.19" y2="787.17" stroke="#c040f0" stroke-width="1"/>
<path d="M95.19 788.78L98.38 782.72L92.00 782.72Z" fill="#c040f0"/>
<line x1="110.95" y1="787.44" x2="110.95" y2="783.11" stroke="#c040f0" stroke-width="1"/>
<line x1="108.95" y1="783.11" x2="112.95" y2="783.11" stroke="#c040f0" stroke-width="1"/>
<line x1="108.95" y1="787.44" x2="112.95" y2="787.44" stroke="#c040f0" stroke-width="1"/>
<path d="M110.95 788.78L114.14 782.72L107.76 782.72Z" fill="#c040f0"/>
<line x1="127.86" y1="812.56" x2="127.86" y2="810.94" stroke="#c040f0" stroke-width="1"/>
<line x1="125.86" y1="810.94" x2="129.86" y2="810.94" stroke="#c040f0" stroke-width="1"/>
<line x1="125.86" y1="812.56" x2="129.86" y2="812.56" stroke="#c040f0" stroke-width="1"/>
<path d="M127.86 815.26L131.05 809.20L124.67 809.20Z" fill="#c040f0"/>
<line x1="144.78" y1="813.10" x2="144.78" y2="811.48" stroke="#c040f0" stroke-width="1"/>
<line x1="142.78" y1="811.48" x2="146.78" y2="811.48" stroke="#c040f0" stroke-width="1"/>
<line x1="142.78" y1="813.10" x2="146.78" y2="813.10" stroke="#c040f0" stroke-width="1"/>
<path d="M144.78 815.80L147.97 809.74L141.59 809.74Z" fill="#c040f0"/>
<line x1="160.92" y1="812.56" x2="160.92" y2="810.94" stroke="#c040f0" stroke-width="1"/>
<line x1="158.92" y1="810.94" x2="162.92" y2="810.94" stroke="#c040f0" stroke-width="1"/>
<line x1="158.92" y1="812.56" x2="162.92" y2="812.56" stroke="#c040f0" stroke-width="1"/>
<path d="M160.92 815.26L164.11 809.20L157.73 809.20Z" fill="#c040f0"/>
<line x1="178.22" y1="741.23" x2="178.22" y2="733.67" stroke="#c040f0" stroke-width="1"/>
<line x1="176.22" y1="733.67" x2="180.22" y2="733.67" stroke="#c040f0" stroke-width="1"/>
<line x1="176.22" y1="741.23" x2="180.22" y2="741.23" stroke="#c040f0" stroke-width="1"/>
<path d="M178.22 740.96L181.41 734.90L175.03 734.90Z" fill="#c040f0"/>
<line x1="195.13" y1="743.66" x2="195.13" y2="735.02" stroke="#c040f0" stroke-width="1"/>
<line x1="193.13" y1="735.02" x2="197.13" y2="735.02" stroke="#c040f0" stroke-width="1"/>
<line x1="193.13" y1="743.66" x2="197.13" y2="743.66" stroke="#c040f0" stroke-width="1"/>
<path d="M195.13 742.85L198.32 736.79L191.94 736.79Z" fill="#c040f0"/>
<line x1="211.28" y1="743.12" x2="211.28" y2="735.56" stroke="#c040f0" stroke-width="1"/>
<line x1="209.28" y1="735.56" x2="213.28" y2="735.56" stroke="#c040f0" stroke-width="1"/>
<line x1="209.28" y1="743.12" x2="213.28" y2="743.12" stroke="#c040f0" stroke-width="1"/>
<path d="M211.28 742.85L214.47 736.79L208.09 736.79Z" fill="#c040f0"/>
<line x1="228.00" y1="812.56" x2="228.00" y2="810.40" stroke="#c040f0" stroke-width="1"/>
<line x1="226.00" y1="810.40" x2="230.00" y2="810.40" stroke="#c040f0" stroke-width="1"/>
<line x1="226.00" y1="812.56" x2="230.00" y2="812.56" stroke="#c040f0" stroke-width="1"/>
<path d="M228.00 814.99L231.19 808.93L224.81 808.93Z" fill="#c040f0"/>
<line x1="244.72" y1="811.48" x2="244.72" y2="809.32" stroke="#c040f0" stroke-width="1"/>
<line x1="242.72" y1="809.32" x2="246.72" y2="809.32" stroke="#c040f0" stroke-width="1"/>
<line x1="242.72" y1="811.48" x2="246.72" y2="811.48" stroke="#c040f0" stroke-width="1"/>
<path d="M244.72 813.91L247.91 807.85L241.53 807.85Z" fill="#c040f0"/>
<line x1="261.06" y1="812.83" x2="261.06" y2="811.21" stroke="#c040f0" stroke-width="1"/>
<line x1="259.06" y1="811.21" x2="263.06" y2="811.21" stroke="#c040f0" stroke-width="1"/>
<line x1="259.06" y1="812.83" x2="263.06" y2="812.83" stroke="#c040f0" stroke-width="1"/>
<path d="M261.06 815.53L264.25 809.47L257.87 809.47Z" fill="#c040f0"/>
<polyline points="78.5,777.7 95.2,778.5 110.9,778.5 127.9,812.8 144.8,812.8 160.9,812.3 178.2,730.7 195.1,732.6 211.3,733.1 228.0,812.3 244.7,811.5 261.1,812.3" fill="none" stroke="#1a1aff" stroke-width="1.7"/>
<line x1="78.47" y1="779.60" x2="78.47" y2="775.82" stroke="#1a1aff" stroke-width="1"/>
<line x1="76.47" y1="775.82" x2="80.47" y2="775.82" stroke="#1a1aff" stroke-width="1"/>
<line x1="76.47" y1="779.60" x2="80.47" y2="779.60" stroke="#1a1aff" stroke-width="1"/>
<path d="M78.47 774.20L81.66 780.26L75.28 780.26Z" fill="#1a1aff"/>
<line x1="95.19" y1="780.41" x2="95.19" y2="776.63" stroke="#1a1aff" stroke-width="1"/>
<line x1="93.19" y1="776.63" x2="97.19" y2="776.63" stroke="#1a1aff" stroke-width="1"/>
<line x1="93.19" y1="780.41" x2="97.19" y2="780.41" stroke="#1a1aff" stroke-width="1"/>
<path d="M95.19 775.01L98.38 781.07L92.00 781.07Z" fill="#1a1aff"/>
<line x1="110.95" y1="780.41" x2="110.95" y2="776.63" stroke="#1a1aff" stroke-width="1"/>
<line x1="108.95" y1="776.63" x2="112.95" y2="776.63" stroke="#1a1aff" stroke-width="1"/>
<line x1="108.95" y1="780.41" x2="112.95" y2="780.41" stroke="#1a1aff" stroke-width="1"/>
<path d="M110.95 775.01L114.14 781.07L107.76 781.07Z" fill="#1a1aff"/>
<line x1="127.86" y1="813.64" x2="127.86" y2="812.02" stroke="#1a1aff" stroke-width="1"/>
<line x1="125.86" y1="812.02" x2="129.86" y2="812.02" stroke="#1a1aff" stroke-width="1"/>
<line x1="125.86" y1="813.64" x2="129.86" y2="813.64" stroke="#1a1aff" stroke-width="1"/>
<path d="M127.86 809.33L131.05 815.39L124.67 815.39Z" fill="#1a1aff"/>
<line x1="144.78" y1="813.64" x2="144.78" y2="812.02" stroke="#1a1aff" stroke-width="1"/>
<line x1="142.78" y1="812.02" x2="146.78" y2="812.02" stroke="#1a1aff" stroke-width="1"/>
<line x1="142.78" y1="813.64" x2="146.78" y2="813.64" stroke="#1a1aff" stroke-width="1"/>
<path d="M144.78 809.33L147.97 815.39L141.59 815.39Z" fill="#1a1aff"/>
<line x1="160.92" y1="813.10" x2="160.92" y2="811.48" stroke="#1a1aff" stroke-width="1"/>
<line x1="158.92" y1="811.48" x2="162.92" y2="811.48" stroke="#1a1aff" stroke-width="1"/>
<line x1="158.92" y1="813.10" x2="162.92" y2="813.10" stroke="#1a1aff" stroke-width="1"/>
<path d="M160.92 808.78L164.11 814.85L157.73 814.85Z" fill="#1a1aff"/>
<line x1="178.22" y1="734.48" x2="178.22" y2="726.91" stroke="#1a1aff" stroke-width="1"/>
<line x1="176.22" y1="726.91" x2="180.22" y2="726.91" stroke="#1a1aff" stroke-width="1"/>
<line x1="176.22" y1="734.48" x2="180.22" y2="734.48" stroke="#1a1aff" stroke-width="1"/>
<path d="M178.22 727.18L181.41 733.25L175.03 733.25Z" fill="#1a1aff"/>
<line x1="195.13" y1="735.29" x2="195.13" y2="729.88" stroke="#1a1aff" stroke-width="1"/>
<line x1="193.13" y1="729.88" x2="197.13" y2="729.88" stroke="#1a1aff" stroke-width="1"/>
<line x1="193.13" y1="735.29" x2="197.13" y2="735.29" stroke="#1a1aff" stroke-width="1"/>
<path d="M195.13 729.08L198.32 735.14L191.94 735.14Z" fill="#1a1aff"/>
<line x1="211.28" y1="735.83" x2="211.28" y2="730.42" stroke="#1a1aff" stroke-width="1"/>
<line x1="209.28" y1="730.42" x2="213.28" y2="730.42" stroke="#1a1aff" stroke-width="1"/>
<line x1="209.28" y1="735.83" x2="213.28" y2="735.83" stroke="#1a1aff" stroke-width="1"/>
<path d="M211.28 729.62L214.47 735.68L208.09 735.68Z" fill="#1a1aff"/>
<line x1="228.00" y1="813.10" x2="228.00" y2="811.48" stroke="#1a1aff" stroke-width="1"/>
<line x1="226.00" y1="811.48" x2="230.00" y2="811.48" stroke="#1a1aff" stroke-width="1"/>
<line x1="226.00" y1="813.10" x2="230.00" y2="813.10" stroke="#1a1aff" stroke-width="1"/>
<path d="M228.00 808.78L231.19 814.85L224.81 814.85Z" fill="#1a1aff"/>
<line x1="244.72" y1="812.29" x2="244.72" y2="810.67" stroke="#1a1aff" stroke-width="1"/>
<line x1="242.72" y1="810.67" x2="246.72" y2="810.67" stroke="#1a1aff" stroke-width="1"/>
<line x1="242.72" y1="812.29" x2="246.72" y2="812.29" stroke="#1a1aff" stroke-width="1"/>
<path d="M244.72 807.97L247.91 814.04L241.53 814.04Z" fill="#1a1aff"/>
<line x1="261.06" y1="813.10" x2="261.06" y2="811.48" stroke="#1a1aff" stroke-width="1"/>
<line x1="259.06" y1="811.48" x2="263.06" y2="811.48" stroke="#1a1aff" stroke-width="1"/>
<line x1="259.06" y1="813.10" x2="263.06" y2="813.10" stroke="#1a1aff" stroke-width="1"/>
<path d="M261.06 808.78L264.25 814.85L257.87 814.85Z" fill="#1a1aff"/>
<polyline points="78.5,767.4 95.2,768.0 110.9,767.4 127.9,811.5 144.8,811.5 160.9,811.5 178.2,714.5 195.1,712.3 211.3,711.5 228.0,812.0 244.7,811.5 261.1,811.5" fill="none" stroke="#ff1a1a" stroke-width="1.7"/>
<line x1="78.47" y1="769.06" x2="78.47" y2="765.82" stroke="#ff1a1a" stroke-width="1"/>
<line x1="76.47" y1="765.82" x2="80.47" y2="765.82" stroke="#ff1a1a" stroke-width="1"/>
<line x1="76.47" y1="769.06" x2="80.47" y2="769.06" stroke="#ff1a1a" stroke-width="1"/>
<rect x="75.57" y="764.54" width="5.80" height="5.80" fill="#ff1a1a"/>
<line x1="95.19" y1="770.14" x2="95.19" y2="765.82" stroke="#ff1a1a" stroke-width="1"/>
<line x1="93.19" y1="765.82" x2="97.19" y2="765.82" stroke="#ff1a1a" stroke-width="1"/>
<line x1="93.19" y1="770.14" x2="97.19" y2="770.14" stroke="#ff1a1a" stroke-width="1"/>
<rect x="92.29" y="765.08" width="5.80" height="5.80" fill="#ff1a1a"/>
<line x1="110.95" y1="769.33" x2="110.95" y2="765.55" stroke="#ff1a1a" stroke-width="1"/>
<line x1="108.95" y1="765.55" x2="112.95" y2="765.55" stroke="#ff1a1a" stroke-width="1"/>
<line x1="108.95" y1="769.33" x2="112.95" y2="769.33" stroke="#ff1a1a" stroke-width="1"/>
<rect x="108.05" y="764.54" width="5.80" height="5.80" fill="#ff1a1a"/>
<line x1="127.86" y1="812.29" x2="127.86" y2="810.67" stroke="#ff1a1a" stroke-width="1"/>
<line x1="125.86" y1="810.67" x2="129.86" y2="810.67" stroke="#ff1a1a" stroke-width="1"/>
<line x1="125.86" y1="812.29" x2="129.86" y2="812.29" stroke="#ff1a1a" stroke-width="1"/>
<rect x="124.96" y="808.58" width="5.80" height="5.80" fill="#ff1a1a"/>
<line x1="144.78" y1="812.29" x2="144.78" y2="810.67" stroke="#ff1a1a" stroke-width="1"/>
<line x1="142.78" y1="810.67" x2="146.78" y2="810.67" stroke="#ff1a1a" stroke-width="1"/>
<line x1="142.78" y1="812.29" x2="146.78" y2="812.29" stroke="#ff1a1a" stroke-width="1"/>
<rect x="141.88" y="808.58" width="5.80" height="5.80" fill="#ff1a1a"/>
<line x1="160.92" y1="812.29" x2="160.92" y2="810.67" stroke="#ff1a1a" stroke-width="1"/>
<line x1="158.92" y1="810.67" x2="162.92" y2="810.67" stroke="#ff1a1a" stroke-width="1"/>
<line x1="158.92" y1="812.29" x2="162.92" y2="812.29" stroke="#ff1a1a" stroke-width="1"/>
<rect x="158.02" y="808.58" width="5.80" height="5.80" fill="#ff1a1a"/>
<line x1="178.22" y1="718.26" x2="178.22" y2="710.70" stroke="#ff1a1a" stroke-width="1"/>
<line x1="176.22" y1="710.70" x2="180.22" y2="710.70" stroke="#ff1a1a" stroke-width="1"/>
<line x1="176.22" y1="718.26" x2="180.22" y2="718.26" stroke="#ff1a1a" stroke-width="1"/>
<rect x="175.32" y="711.58" width="5.80" height="5.80" fill="#ff1a1a"/>
<line x1="195.13" y1="714.48" x2="195.13" y2="710.16" stroke="#ff1a1a" stroke-width="1"/>
<line x1="193.13" y1="710.16" x2="197.13" y2="710.16" stroke="#ff1a1a" stroke-width="1"/>
<line x1="193.13" y1="714.48" x2="197.13" y2="714.48" stroke="#ff1a1a" stroke-width="1"/>
<rect x="192.23" y="709.42" width="5.80" height="5.80" fill="#ff1a1a"/>
<line x1="211.28" y1="713.67" x2="211.28" y2="709.35" stroke="#ff1a1a" stroke-width="1"/>
<line x1="209.28" y1="709.35" x2="213.28" y2="709.35" stroke="#ff1a1a" stroke-width="1"/>
<line x1="209.28" y1="713.67" x2="213.28" y2="713.67" stroke="#ff1a1a" stroke-width="1"/>
<rect x="208.38" y="708.61" width="5.80" height="5.80" fill="#ff1a1a"/>
<line x1="228.00" y1="812.83" x2="228.00" y2="811.21" stroke="#ff1a1a" stroke-width="1"/>
<line x1="226.00" y1="811.21" x2="230.00" y2="811.21" stroke="#ff1a1a" stroke-width="1"/>
<line x1="226.00" y1="812.83" x2="230.00" y2="812.83" stroke="#ff1a1a" stroke-width="1"/>
<rect x="225.10" y="809.12" width="5.80" height="5.80" fill="#ff1a1a"/>
<line x1="244.72" y1="812.29" x2="244.72" y2="810.67" stroke="#ff1a1a" stroke-width="1"/>
<line x1="242.72" y1="810.67" x2="246.72" y2="810.67" stroke="#ff1a1a" stroke-width="1"/>
<line x1="242.72" y1="812.29" x2="246.72" y2="812.29" stroke="#ff1a1a" stroke-width="1"/>
<rect x="241.82" y="808.58" width="5.80" height="5.80" fill="#ff1a1a"/>
<line x1="261.06" y1="812.29" x2="261.06" y2="810.67" stroke="#ff1a1a" stroke-width="1"/>
<line x1="259.06" y1="810.67" x2="263.06" y2="810.67" stroke="#ff1a1a" stroke-width="1"/>
<line x1="259.06" y1="812.29" x2="263.06" y2="812.29" stroke="#ff1a1a" stroke-width="1"/>
<rect x="258.16" y="808.58" width="5.80" height="5.80" fill="#ff1a1a"/>
<polyline points="78.5,761.0 95.2,763.1 110.9,763.1 127.9,810.1 144.8,810.4 160.9,810.4 178.2,708.3 195.1,707.5 211.3,706.9 228.0,811.5 244.7,810.9 261.1,811.5" fill="none" stroke="#000" stroke-width="1.7"/>
<line x1="78.47" y1="762.04" x2="78.47" y2="759.88" stroke="#000" stroke-width="1"/>
<line x1="76.47" y1="759.88" x2="80.47" y2="759.88" stroke="#000" stroke-width="1"/>
<line x1="76.47" y1="762.04" x2="80.47" y2="762.04" stroke="#000" stroke-width="1"/>
<circle cx="78.47" cy="760.96" r="2.90" fill="#000"/>
<line x1="95.19" y1="764.20" x2="95.19" y2="762.04" stroke="#000" stroke-width="1"/>
<line x1="93.19" y1="762.04" x2="97.19" y2="762.04" stroke="#000" stroke-width="1"/>
<line x1="93.19" y1="764.20" x2="97.19" y2="764.20" stroke="#000" stroke-width="1"/>
<circle cx="95.19" cy="763.12" r="2.90" fill="#000"/>
<line x1="110.95" y1="764.20" x2="110.95" y2="762.04" stroke="#000" stroke-width="1"/>
<line x1="108.95" y1="762.04" x2="112.95" y2="762.04" stroke="#000" stroke-width="1"/>
<line x1="108.95" y1="764.20" x2="112.95" y2="764.20" stroke="#000" stroke-width="1"/>
<circle cx="110.95" cy="763.12" r="2.90" fill="#000"/>
<line x1="127.86" y1="810.94" x2="127.86" y2="809.32" stroke="#000" stroke-width="1"/>
<line x1="125.86" y1="809.32" x2="129.86" y2="809.32" stroke="#000" stroke-width="1"/>
<line x1="125.86" y1="810.94" x2="129.86" y2="810.94" stroke="#000" stroke-width="1"/>
<circle cx="127.86" cy="810.13" r="2.90" fill="#000"/>
<line x1="144.78" y1="811.21" x2="144.78" y2="809.59" stroke="#000" stroke-width="1"/>
<line x1="142.78" y1="809.59" x2="146.78" y2="809.59" stroke="#000" stroke-width="1"/>
<line x1="142.78" y1="811.21" x2="146.78" y2="811.21" stroke="#000" stroke-width="1"/>
<circle cx="144.78" cy="810.40" r="2.90" fill="#000"/>
<line x1="160.92" y1="811.21" x2="160.92" y2="809.59" stroke="#000" stroke-width="1"/>
<line x1="158.92" y1="809.59" x2="162.92" y2="809.59" stroke="#000" stroke-width="1"/>
<line x1="158.92" y1="811.21" x2="162.92" y2="811.21" stroke="#000" stroke-width="1"/>
<circle cx="160.92" cy="810.40" r="2.90" fill="#000"/>
<line x1="178.22" y1="709.89" x2="178.22" y2="706.65" stroke="#000" stroke-width="1"/>
<line x1="176.22" y1="706.65" x2="180.22" y2="706.65" stroke="#000" stroke-width="1"/>
<line x1="176.22" y1="709.89" x2="180.22" y2="709.89" stroke="#000" stroke-width="1"/>
<circle cx="178.22" cy="708.27" r="2.90" fill="#000"/>
<line x1="195.13" y1="708.54" x2="195.13" y2="706.38" stroke="#000" stroke-width="1"/>
<line x1="193.13" y1="706.38" x2="197.13" y2="706.38" stroke="#000" stroke-width="1"/>
<line x1="193.13" y1="708.54" x2="197.13" y2="708.54" stroke="#000" stroke-width="1"/>
<circle cx="195.13" cy="707.46" r="2.90" fill="#000"/>
<line x1="211.28" y1="708.00" x2="211.28" y2="705.84" stroke="#000" stroke-width="1"/>
<line x1="209.28" y1="705.84" x2="213.28" y2="705.84" stroke="#000" stroke-width="1"/>
<line x1="209.28" y1="708.00" x2="213.28" y2="708.00" stroke="#000" stroke-width="1"/>
<circle cx="211.28" cy="706.92" r="2.90" fill="#000"/>
<line x1="228.00" y1="812.29" x2="228.00" y2="810.67" stroke="#000" stroke-width="1"/>
<line x1="226.00" y1="810.67" x2="230.00" y2="810.67" stroke="#000" stroke-width="1"/>
<line x1="226.00" y1="812.29" x2="230.00" y2="812.29" stroke="#000" stroke-width="1"/>
<circle cx="228.00" cy="811.48" r="2.90" fill="#000"/>
<line x1="244.72" y1="811.75" x2="244.72" y2="810.13" stroke="#000" stroke-width="1"/>
<line x1="242.72" y1="810.13" x2="246.72" y2="810.13" stroke="#000" stroke-width="1"/>
<line x1="242.72" y1="811.75" x2="246.72" y2="811.75" stroke="#000" stroke-width="1"/>
<circle cx="244.72" cy="810.94" r="2.90" fill="#000"/>
<line x1="261.06" y1="812.29" x2="261.06" y2="810.67" stroke="#000" stroke-width="1"/>
<line x1="259.06" y1="810.67" x2="263.06" y2="810.67" stroke="#000" stroke-width="1"/>
<line x1="259.06" y1="812.29" x2="263.06" y2="812.29" stroke="#000" stroke-width="1"/>
<circle cx="261.06" cy="811.48" r="2.90" fill="#000"/>
<text x="310.80" y="636.00" font-size="13" text-anchor="start" font-weight="bold" fill="#000" stroke="#000" stroke-width="0.14">j</text>
<line x1="386.50" y1="653.20" x2="386.50" y2="781.80" stroke="#000" stroke-width="1"/>
<line x1="386.00" y1="781.30" x2="481.70" y2="781.30" stroke="#000" stroke-width="1"/>
<line x1="381.90" y1="781.30" x2="386.50" y2="781.30" stroke="#000" stroke-width="1"/>
<text x="379.70" y="785.50" font-size="12" text-anchor="end" fill="#000" stroke="#000" stroke-width="0.14">0</text>
<line x1="381.90" y1="749.40" x2="386.50" y2="749.40" stroke="#000" stroke-width="1"/>
<text x="379.70" y="753.60" font-size="12" text-anchor="end" fill="#000" stroke="#000" stroke-width="0.14">50</text>
<line x1="381.90" y1="717.50" x2="386.50" y2="717.50" stroke="#000" stroke-width="1"/>
<text x="379.70" y="721.70" font-size="12" text-anchor="end" fill="#000" stroke="#000" stroke-width="0.14">100</text>
<line x1="381.90" y1="685.60" x2="386.50" y2="685.60" stroke="#000" stroke-width="1"/>
<text x="379.70" y="689.80" font-size="12" text-anchor="end" fill="#000" stroke="#000" stroke-width="0.14">150</text>
<line x1="381.90" y1="653.70" x2="386.50" y2="653.70" stroke="#000" stroke-width="1"/>
<text x="379.70" y="657.90" font-size="12" text-anchor="end" fill="#000" stroke="#000" stroke-width="0.14">200</text>
<line x1="401.20" y1="781.30" x2="401.20" y2="785.90" stroke="#000" stroke-width="1"/>
<line x1="422.90" y1="781.30" x2="422.90" y2="785.90" stroke="#000" stroke-width="1"/>
<line x1="444.80" y1="781.30" x2="444.80" y2="785.90" stroke="#000" stroke-width="1"/>
<line x1="467.00" y1="781.30" x2="467.00" y2="785.90" stroke="#000" stroke-width="1"/>
<text x="340.20" y="717.00" font-size="12" text-anchor="middle" fill="#000" stroke="#000" stroke-width="0.14" transform="rotate(-90 340.2 717)">ATP production</text>
<text x="353.40" y="717.00" font-size="12" text-anchor="middle" fill="#000" stroke="#000" stroke-width="0.14" transform="rotate(-90 353.4 717)">OCR (pmol/min)</text>
<text x="404.90" y="800.60" font-size="11.8" text-anchor="end" fill="#000" stroke="#000" stroke-width="0.14" transform="rotate(-45 404.9 800.5999999999999)">AAV-NC-Sham</text>
<text x="426.60" y="800.60" font-size="11.8" text-anchor="end" fill="#000" stroke="#000" stroke-width="0.14" transform="rotate(-45 426.59999999999997 800.5999999999999)">AAV-<tspan font-style="italic">Klf7</tspan>-Sham</text>
<text x="448.50" y="800.60" font-size="11.8" text-anchor="end" fill="#000" stroke="#000" stroke-width="0.14" transform="rotate(-45 448.5 800.5999999999999)">AAV-NC-MI</text>
<text x="470.70" y="800.60" font-size="11.8" text-anchor="end" fill="#000" stroke="#000" stroke-width="0.14" transform="rotate(-45 470.7 800.5999999999999)">AAV-<tspan font-style="italic">Klf7</tspan>-MI</text>
<path d="M395.10 781.30V666.46H407.30V781.30" fill="#fff" stroke="#000" stroke-width="1.6"/>
<circle cx="397.20" cy="661.99" r="2.30" fill="#000"/>
<circle cx="405.20" cy="663.27" r="2.30" fill="#000"/>
<circle cx="401.20" cy="665.82" r="2.30" fill="#000"/>
<circle cx="397.20" cy="667.74" r="2.30" fill="#000"/>
<circle cx="405.20" cy="669.01" r="2.30" fill="#000"/>
<line x1="401.20" y1="669.01" x2="401.20" y2="663.91" stroke="#000" stroke-width="1.1"/>
<line x1="397.20" y1="663.91" x2="405.20" y2="663.91" stroke="#000" stroke-width="1.1"/>
<line x1="397.20" y1="669.01" x2="405.20" y2="669.01" stroke="#000" stroke-width="1.1"/>
<path d="M416.80 781.30V678.58H429.20V781.30" fill="#fff" stroke="#ff1a1a" stroke-width="1.6"/>
<rect x="416.70" y="671.18" width="4.60" height="4.60" fill="#ff1a1a"/>
<rect x="424.70" y="672.45" width="4.60" height="4.60" fill="#ff1a1a"/>
<rect x="420.70" y="676.28" width="4.60" height="4.60" fill="#ff1a1a"/>
<rect x="416.70" y="679.47" width="4.60" height="4.60" fill="#ff1a1a"/>
<rect x="424.70" y="683.30" width="4.60" height="4.60" fill="#ff1a1a"/>
<line x1="423.00" y1="683.05" x2="423.00" y2="674.12" stroke="#ff1a1a" stroke-width="1.1"/>
<line x1="419.00" y1="674.12" x2="427.00" y2="674.12" stroke="#ff1a1a" stroke-width="1.1"/>
<line x1="419.00" y1="683.05" x2="427.00" y2="683.05" stroke="#ff1a1a" stroke-width="1.1"/>
<path d="M438.70 781.30V700.91H451.00V781.30" fill="#fff" stroke="#1a1aff" stroke-width="1.6"/>
<path d="M440.85 691.75L443.38 696.56L438.32 696.56Z" fill="#1a1aff"/>
<path d="M448.85 695.58L451.38 700.38L446.32 700.38Z" fill="#1a1aff"/>
<path d="M444.85 698.13L447.38 702.94L442.32 702.94Z" fill="#1a1aff"/>
<path d="M440.85 700.04L443.38 704.85L438.32 704.85Z" fill="#1a1aff"/>
<path d="M448.85 702.60L451.38 707.40L446.32 707.40Z" fill="#1a1aff"/>
<line x1="444.85" y1="704.74" x2="444.85" y2="697.08" stroke="#1a1aff" stroke-width="1.1"/>
<line x1="440.85" y1="697.08" x2="448.85" y2="697.08" stroke="#1a1aff" stroke-width="1.1"/>
<line x1="440.85" y1="704.74" x2="448.85" y2="704.74" stroke="#1a1aff" stroke-width="1.1"/>
<path d="M461.00 781.30V718.78H473.20V781.30" fill="#fff" stroke="#c040f0" stroke-width="1.6"/>
<path d="M463.10 717.09L465.63 712.29L460.57 712.29Z" fill="#c040f0"/>
<path d="M471.10 718.37L473.63 713.56L468.57 713.56Z" fill="#c040f0"/>
<path d="M467.10 721.56L469.63 716.75L464.57 716.75Z" fill="#c040f0"/>
<path d="M463.10 724.11L465.63 719.30L460.57 719.30Z" fill="#c040f0"/>
<path d="M471.10 726.66L473.63 721.86L468.57 721.86Z" fill="#c040f0"/>
<line x1="467.10" y1="722.60" x2="467.10" y2="714.95" stroke="#c040f0" stroke-width="1.1"/>
<line x1="463.10" y1="714.95" x2="471.10" y2="714.95" stroke="#c040f0" stroke-width="1.1"/>
<line x1="463.10" y1="722.60" x2="471.10" y2="722.60" stroke="#c040f0" stroke-width="1.1"/>
<line x1="399.30" y1="645.20" x2="444.80" y2="645.20" stroke="#000" stroke-width="1"/>
<text x="422.05" y="648.23" font-size="14" text-anchor="middle" fill="#000" stroke="#000" stroke-width="0.14" letter-spacing="-0.4">***</text>
<line x1="399.30" y1="657.20" x2="422.60" y2="657.20" stroke="#000" stroke-width="1"/>
<text x="410.95" y="660.23" font-size="14" text-anchor="middle" fill="#000" stroke="#000" stroke-width="0.14" letter-spacing="-0.4">***</text>
<line x1="448.40" y1="687.10" x2="472.00" y2="687.10" stroke="#000" stroke-width="1"/>
<text x="460.20" y="690.13" font-size="14" text-anchor="middle" fill="#000" stroke="#000" stroke-width="0.14" letter-spacing="-0.4">***</text>
<line x1="575.40" y1="659.50" x2="575.40" y2="780.20" stroke="#000" stroke-width="1"/>
<line x1="574.90" y1="779.70" x2="668.30" y2="779.70" stroke="#000" stroke-width="1"/>
<line x1="570.80" y1="779.70" x2="575.40" y2="779.70" stroke="#000" stroke-width="1"/>
<text x="568.60" y="783.90" font-size="12" text-anchor="end" fill="#000" stroke="#000" stroke-width="0.14">250</text>
<line x1="570.80" y1="739.80" x2="575.40" y2="739.80" stroke="#000" stroke-width="1"/>
<text x="568.60" y="744.00" font-size="12" text-anchor="end" fill="#000" stroke="#000" stroke-width="0.14">300</text>
<line x1="570.80" y1="699.90" x2="575.40" y2="699.90" stroke="#000" stroke-width="1"/>
<text x="568.60" y="704.10" font-size="12" text-anchor="end" fill="#000" stroke="#000" stroke-width="0.14">350</text>
<line x1="570.80" y1="660.00" x2="575.40" y2="660.00" stroke="#000" stroke-width="1"/>
<text x="568.60" y="664.20" font-size="12" text-anchor="end" fill="#000" stroke="#000" stroke-width="0.14">400</text>
<line x1="589.60" y1="779.70" x2="589.60" y2="784.30" stroke="#000" stroke-width="1"/>
<line x1="611.20" y1="779.70" x2="611.20" y2="784.30" stroke="#000" stroke-width="1"/>
<line x1="632.80" y1="779.70" x2="632.80" y2="784.30" stroke="#000" stroke-width="1"/>
<line x1="654.00" y1="779.70" x2="654.00" y2="784.30" stroke="#000" stroke-width="1"/>
<text x="528.60" y="719.80" font-size="12" text-anchor="middle" fill="#000" stroke="#000" stroke-width="0.14" transform="rotate(-90 528.6 719.8)">Maximal respiration</text>
<text x="541.80" y="719.80" font-size="12" text-anchor="middle" fill="#000" stroke="#000" stroke-width="0.14" transform="rotate(-90 541.8 719.8)">OCR (pmol/min)</text>
<text x="593.30" y="799.00" font-size="11.8" text-anchor="end" fill="#000" stroke="#000" stroke-width="0.14" transform="rotate(-45 593.3000000000001 799.0)">AAV-NC-Sham</text>
<text x="614.90" y="799.00" font-size="11.8" text-anchor="end" fill="#000" stroke="#000" stroke-width="0.14" transform="rotate(-45 614.9000000000001 799.0)">AAV-<tspan font-style="italic">Klf7</tspan>-Sham</text>
<text x="636.50" y="799.00" font-size="11.8" text-anchor="end" fill="#000" stroke="#000" stroke-width="0.14" transform="rotate(-45 636.5 799.0)">AAV-NC-MI</text>
<text x="657.70" y="799.00" font-size="11.8" text-anchor="end" fill="#000" stroke="#000" stroke-width="0.14" transform="rotate(-45 657.7 799.0)">AAV-<tspan font-style="italic">Klf7</tspan>-MI</text>
<path d="M584.10 779.70V670.37H595.40V779.70" fill="#fff" stroke="#000" stroke-width="1.6"/>
<circle cx="585.75" cy="667.18" r="2.30" fill="#000"/>
<circle cx="593.75" cy="668.78" r="2.30" fill="#000"/>
<circle cx="589.75" cy="669.58" r="2.30" fill="#000"/>
<circle cx="585.75" cy="671.17" r="2.30" fill="#000"/>
<circle cx="593.75" cy="671.97" r="2.30" fill="#000"/>
<line x1="589.75" y1="671.97" x2="589.75" y2="668.78" stroke="#000" stroke-width="1.1"/>
<line x1="585.75" y1="668.78" x2="593.75" y2="668.78" stroke="#000" stroke-width="1.1"/>
<line x1="585.75" y1="671.97" x2="593.75" y2="671.97" stroke="#000" stroke-width="1.1"/>
<path d="M605.30 779.70V683.14H617.00V779.70" fill="#fff" stroke="#ff1a1a" stroke-width="1.6"/>
<rect x="604.85" y="673.66" width="4.60" height="4.60" fill="#ff1a1a"/>
<rect x="612.85" y="676.85" width="4.60" height="4.60" fill="#ff1a1a"/>
<rect x="608.85" y="680.84" width="4.60" height="4.60" fill="#ff1a1a"/>
<rect x="604.85" y="685.63" width="4.60" height="4.60" fill="#ff1a1a"/>
<rect x="612.85" y="689.62" width="4.60" height="4.60" fill="#ff1a1a"/>
<line x1="611.15" y1="688.73" x2="611.15" y2="677.56" stroke="#ff1a1a" stroke-width="1.1"/>
<line x1="607.15" y1="677.56" x2="615.15" y2="677.56" stroke="#ff1a1a" stroke-width="1.1"/>
<line x1="607.15" y1="688.73" x2="615.15" y2="688.73" stroke="#ff1a1a" stroke-width="1.1"/>
<path d="M626.60 779.70V739.00H638.70V779.70" fill="#fff" stroke="#1a1aff" stroke-width="1.6"/>
<path d="M628.65 726.64L631.18 731.45L626.12 731.45Z" fill="#1a1aff"/>
<path d="M636.65 729.84L639.18 734.64L634.12 734.64Z" fill="#1a1aff"/>
<path d="M632.65 734.62L635.18 739.43L630.12 739.43Z" fill="#1a1aff"/>
<path d="M628.65 740.21L631.18 745.02L626.12 745.02Z" fill="#1a1aff"/>
<path d="M636.65 750.58L639.18 755.39L634.12 755.39Z" fill="#1a1aff"/>
<line x1="632.65" y1="748.58" x2="632.65" y2="729.43" stroke="#1a1aff" stroke-width="1.1"/>
<line x1="628.65" y1="729.43" x2="636.65" y2="729.43" stroke="#1a1aff" stroke-width="1.1"/>
<line x1="628.65" y1="748.58" x2="636.65" y2="748.58" stroke="#1a1aff" stroke-width="1.1"/>
<path d="M648.00 779.70V758.15H659.60V779.70" fill="#fff" stroke="#c040f0" stroke-width="1.6"/>
<path d="M649.80 746.57L652.33 741.77L647.27 741.77Z" fill="#c040f0"/>
<path d="M657.80 752.96L660.33 748.15L655.27 748.15Z" fill="#c040f0"/>
<path d="M653.80 760.14L656.33 755.33L651.27 755.33Z" fill="#c040f0"/>
<path d="M649.80 766.52L652.33 761.72L647.27 761.72Z" fill="#c040f0"/>
<path d="M657.80 772.91L660.33 768.10L655.27 768.10Z" fill="#c040f0"/>
<line x1="653.80" y1="767.73" x2="653.80" y2="748.58" stroke="#c040f0" stroke-width="1.1"/>
<line x1="649.80" y1="748.58" x2="657.80" y2="748.58" stroke="#c040f0" stroke-width="1.1"/>
<line x1="649.80" y1="767.73" x2="657.80" y2="767.73" stroke="#c040f0" stroke-width="1.1"/>
<line x1="589.60" y1="652.00" x2="632.00" y2="652.00" stroke="#000" stroke-width="1"/>
<text x="610.80" y="655.03" font-size="14" text-anchor="middle" fill="#000" stroke="#000" stroke-width="0.14" letter-spacing="-0.4">***</text>
<line x1="589.60" y1="663.60" x2="611.00" y2="663.60" stroke="#000" stroke-width="1"/>
<text x="600.30" y="666.63" font-size="14" text-anchor="middle" fill="#000" stroke="#000" stroke-width="0.14" letter-spacing="-0.4">**</text>
<line x1="635.20" y1="722.60" x2="658.00" y2="722.60" stroke="#000" stroke-width="1"/>
<text x="646.60" y="725.63" font-size="14" text-anchor="middle" fill="#000" stroke="#000" stroke-width="0.14" letter-spacing="-0.4">*</text>
</svg>
</body></html>
